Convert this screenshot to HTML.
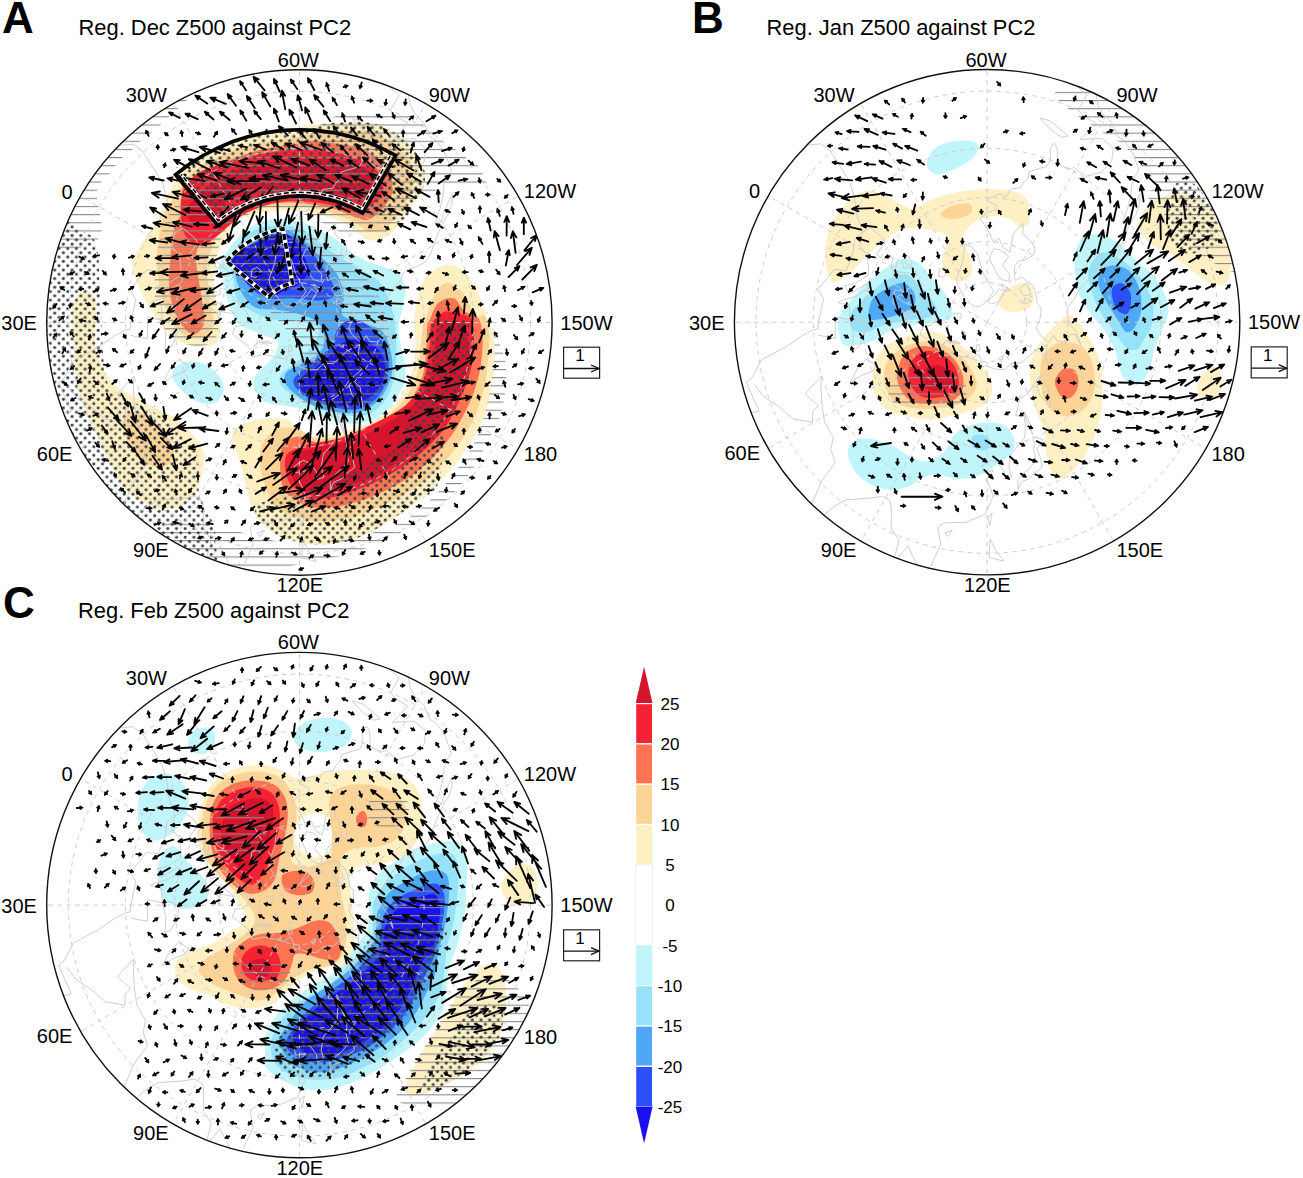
<!DOCTYPE html>
<html><head><meta charset="utf-8"><style>
html,body{margin:0;padding:0;background:#fff;width:1303px;height:1178px;overflow:hidden}
svg{display:block}
text{font-family:"Liberation Sans",sans-serif;fill:#000}
.lb{font-size:20px}
.tt{font-size:21.9px}
.big{font-size:44px;font-weight:bold}
.cb{font-size:17px}
.lg{font-size:17px;text-anchor:middle}
</style></head><body>
<svg width="1303" height="1178" viewBox="0 0 1303 1178">
<defs><pattern id="stip" patternUnits="userSpaceOnUse" width="8.7" height="8.62" x="0.3" y="0.5"><circle cx="2.2" cy="2.2" r="1.55" fill="#3c434c"/><circle cx="6.55" cy="6.51" r="1.55" fill="#3c434c"/></pattern><pattern id="hatch" patternUnits="userSpaceOnUse" width="20" height="8.15" x="0" y="2.2"><rect x="0" y="0" width="20" height="1.1" fill="#8a8a8a"/></pattern></defs>
<rect width="1303" height="1178" fill="#fff"/>
<g>
<clipPath id="clipA"><circle cx="299.4" cy="322.5" r="252.7"/></clipPath>
<g clip-path="url(#clipA)">
<path d="M164.8,202.7C160.9,211.2 160.3,214.1 156.7,220.4C153.1,226.7 146.9,234.4 143.1,240.7C139.2,247 135.4,253.9 133.6,258.4C131.8,262.9 131.5,263.6 132.2,267.9C132.9,272.2 135.2,278.3 137.7,284.2C140.2,290.1 143.6,296.9 147.2,303.2C150.8,309.5 155.3,316.8 159.4,322.2C163.5,327.6 167.3,332.2 171.6,335.8C175.9,339.4 180.2,342.1 185.2,343.9C190.2,345.7 196.5,346.7 201.5,346.7C206.5,346.7 212.1,345.8 215,344C217.9,342.2 218.2,339 219.1,335.8C220,332.6 220.7,329.4 220.5,324.9C220.3,320.4 218.7,313.6 217.8,308.6C216.9,303.6 215.7,299.5 215,295C214.3,290.5 213.7,286 213.7,281.5C213.7,277 214.3,272.4 215,267.9C215.7,263.4 216.4,258.8 217.8,254.3C219.2,249.8 220.9,245.2 223.2,240.7C225.5,236.2 228.2,231 231.4,227.2C234.6,223.4 239.3,219.4 242.2,217.7C245.1,215.9 244.8,217.7 249,216.7C253.2,215.7 261.3,212.7 267.5,211.7C273.7,210.7 279.9,210.5 286,210.5C292.1,210.5 298.3,210.9 304.4,211.7C310.5,212.5 316.7,213.8 322.8,215.4C328.9,217.1 335.5,218.8 341.2,221.6C346.9,224.4 352,228.8 357,232C362,235.2 366,239.8 371,240.5C376,241.2 382.2,239 387.2,235.9C392.2,232.8 396.4,227.8 401,222C405.6,216.2 411.4,206.3 414.8,201.3C418.2,196.3 420,196.3 421.7,192.1C423.4,187.9 425.6,181.8 425.2,176C424.8,170.2 423,163.8 419.4,157.6C415.8,151.4 409.8,144.5 403.3,139.1C396.8,133.7 388,128.2 380.3,125.3C372.6,122.4 367.2,122.1 357.2,121.9C347.2,121.7 332.2,123 320.4,124.2C308.6,125.4 296,127.7 286.5,128.9C277,130.2 271.1,130.4 263.5,131.9C256,133.3 248.5,135.2 241.1,137.5C233.8,139.8 226.5,142.6 219.5,145.7C212.5,148.9 205.6,152.5 199,156.5C192.5,160.5 185.7,161.9 180,169.6C174.3,177.3 168.7,194.2 164.8,202.7Z" fill="#FEF0C3"/>
<path d="M167.5,208.1C162.4,217 162.3,221.1 160.7,227.2C159.1,233.3 158.7,239.2 158,244.8C157.3,250.5 156.7,255.9 156.7,261.1C156.7,266.3 157.3,270.8 158,276C158.7,281.2 159.3,286.9 160.7,292.3C162.1,297.7 163.9,303.2 166.2,308.6C168.5,314 171.1,320.4 174.3,324.9C177.5,329.4 181.1,333.5 185.2,335.8C189.3,338.1 194.7,338.7 198.8,338.5C202.9,338.3 207.1,337.1 209.6,334.4C212.1,331.7 213.5,326.9 213.7,322.2C213.9,317.4 211.9,311.5 211,305.9C210.1,300.2 209,293.7 208.3,288.3C207.6,282.9 206.9,278.1 206.9,273.3C206.9,268.6 207.4,264.1 208.3,259.8C209.2,255.5 210.7,251.8 212.3,247.5C213.9,243.2 215.5,237.8 217.8,233.9C220.1,230.1 222.2,227.2 225.9,224.4C229.6,221.6 235.2,219.2 240,217C244.8,214.8 250,212.8 255,211C260,209.2 264.8,207.4 270,206.5C275.2,205.6 280.3,205.5 286,205.5C291.7,205.5 298,205.8 304,206.5C310,207.2 316,208.4 322,210C328,211.6 334.2,213.7 340,216C345.8,218.3 352,221.3 357,224C362,226.7 365.2,231.3 370,232C374.8,232.7 381.3,231 386,228C390.7,225 394.2,219.2 398,214C401.8,208.8 406.2,203 409,197C411.8,191 414.8,184 415,178C415.2,172 413,166.3 410,161C407,155.7 402.3,150.5 397,146C391.7,141.5 385,136.7 378,134C371,131.3 364.7,130.3 355,130C345.3,129.7 331.1,130.5 320,132C308.9,133.5 297,137.3 288.2,138.8C279.5,140.4 274.3,140.1 267.5,141.3C260.7,142.5 253.8,144.1 247.2,146.1C240.5,148 233.9,150.4 227.6,153.1C221.2,155.8 214.9,158.9 208.8,162.4C202.8,165.8 198.2,166 191.3,173.6C184.4,181.3 172.6,199.2 167.5,208.1Z" fill="#FDD497"/>
<path d="M183.8,208.1C182.5,214.3 176.3,221.3 174.3,227.2C172.3,233.1 172.3,237.8 171.6,243.5C170.9,249.2 170.6,254.8 170.2,261.1C169.8,267.4 168.7,274.7 168.9,281.5C169.1,288.3 170,295.5 171.6,301.8C173.2,308.1 175.7,314.5 178.4,319.5C181.1,324.5 184.7,329.4 187.9,331.7C191.1,334 194.7,334.7 197.4,333.1C200.1,331.5 203.3,326.7 204.2,322.2C205.1,317.7 203.5,311.5 202.8,305.9C202.1,300.2 201,293.9 200.1,288.3C199.2,282.7 198.1,277 197.4,272C196.7,267 195.8,262.9 196,258.4C196.2,253.9 197,248.9 198.8,244.8C200.6,240.7 203.7,236.8 206.9,233.9C210.1,231 213.6,229.5 217.8,227.2C222,224.9 226.6,222.7 232,220C237.4,217.3 243.7,213.6 250,211C256.3,208.4 264,205.9 270,204.5C276,203.1 280.3,202.7 286,202.5C291.7,202.3 298,202.9 304,203.5C310,204.1 316,204.8 322,206C328,207.2 333.7,208.8 340,211C346.3,213.2 355,217.7 360,219C365,220.3 366.1,220.8 370,219C373.9,217.2 379.6,212.3 383.3,207.9C387,203.5 391,197.9 392.1,192.4C393.2,186.9 392.1,180.3 389.9,174.8C387.7,169.3 383.7,163.7 378.9,159.3C374.1,154.9 367.8,150.9 361.2,148.3C354.6,145.7 346.5,145 339.1,143.9C331.8,142.8 324.5,141.7 317.1,141.7C309.8,141.7 304.5,142.5 295,143.9C285.5,145.3 271.7,147 260,150C248.3,153 235.8,157.7 225,162C214.2,166.3 202.2,171.3 195,176C187.8,180.7 183.9,184.7 182,190C180.1,195.3 185.1,201.9 183.8,208.1Z" fill="#FE7452"/>
<path d="M186,186C182.8,190.7 181.8,194.5 181,200C180.2,205.5 180.9,213.7 181.3,219C181.7,224.3 181.7,228 183.5,232C185.3,236 189,241 192.3,243.2C195.6,245.4 199.2,246.5 203.3,245.4C207.4,244.3 210.5,241.3 216.6,236.6C222.7,231.9 232.8,221.9 240,217C247.2,212.1 253.3,209.5 260,207C266.7,204.5 273.3,203 280,202C286.7,201 293.3,200.8 300,201C306.7,201.2 313.3,202 320,203C326.7,204 333.3,205.3 340,207C346.7,208.7 355,213.2 360,213C365,212.8 366.5,208.4 370,205.7C373.5,203 378.9,200.5 381.1,196.8C383.3,193.1 384,188 383.3,183.6C382.6,179.2 380.4,174.4 376.7,170.3C373,166.2 367.5,162.2 361.2,159.3C354.9,156.4 346.5,154.5 339.1,152.7C331.8,150.9 324.5,148.9 317.1,148.3C309.8,147.7 304.2,148.4 295,149.3C285.8,150.2 273.2,151.9 262,154C250.8,156.1 238.3,159 228,162C217.7,165 207,168 200,172C193,176 189.2,181.3 186,186Z" fill="#F52234"/>
<path d="M245,167C254.7,164.2 267.5,162.3 280,161C292.5,159.7 307.5,158.7 320,159C332.5,159.3 346.7,160.8 355,163C363.3,165.2 366.8,168.3 370,172C373.2,175.7 374.3,181.2 374,185C373.7,188.8 372.8,193.3 368,195C363.2,196.7 354.7,195.7 345,195C335.3,194.3 321.7,191.7 310,191C298.3,190.3 285,190.7 275,191C265,191.3 257.5,191.7 250,193C242.5,194.3 235.8,195.7 230,199C224.2,202.3 219.7,208.5 215,213C210.3,217.5 206.2,224.7 202,226C197.8,227.3 192.3,224 190,221C187.7,218 186.3,212.5 188,208C189.7,203.5 194.3,199 200,194C205.7,189 214.5,182.5 222,178C229.5,173.5 235.3,169.8 245,167Z" fill="#D5142D"/>
<path d="M414.2,320C415.1,311.7 417.5,295.7 420.8,287.3C424.1,278.9 428.5,273.4 434,269.7C439.5,266 448,263.8 453.9,265.3C459.8,266.8 465,273 469.4,278.5C473.8,284 477.5,291.5 480.4,298.4C483.3,305.3 484.8,313.6 487,320C489.2,326.4 492.5,328.6 493.6,337C494.7,345.4 494.3,359.9 493.6,370.2C492.9,380.5 491,390.4 489.2,398.9C487.4,407.4 485.5,414 482.6,421C479.7,428 475.7,434.2 471.6,440.8C467.6,447.4 463.8,453.7 458.3,460.7C452.8,467.7 445.1,476.1 438.5,482.7C431.9,489.3 426,494.5 418.6,500.4C411.2,506.3 402.8,512.5 394.3,518C385.8,523.5 376.2,529.5 367.8,533.5C359.4,537.5 352.1,540.5 343.6,542.3C335.2,544.1 324.4,544.5 317.1,544.5C309.8,544.5 306.4,543.8 300,542.3C293.6,540.8 284.9,539 278.4,535.7C271.8,532.4 265.1,526.9 260.7,522.5C256.3,518.1 254.1,514.4 251.9,509.2C249.7,504.1 249.7,500.1 247.5,491.6C245.3,483.2 241.2,467.3 238.6,458.5C236,449.7 232.4,443.7 232,438.6C231.6,433.5 232.7,430.9 236,428C239.3,425.1 246,422.7 252,421C258,419.3 265.7,418 272,418C278.3,418 284.3,417.9 290,421C295.7,424.1 299.6,434.2 306,436.4C312.4,438.6 320.7,435.3 328.1,434.2C335.5,433.1 343.6,431.6 350.2,429.8C356.8,428 362.3,425.7 367.8,423.1C373.3,420.5 378.5,417.6 383.3,414.3C388.1,411 392.4,408.1 396.5,403.3C400.6,398.5 404.8,391.9 407.6,385.6C410.4,379.4 411.8,373.9 413.1,365.8C414.4,357.7 415.1,344.7 415.3,337.1C415.5,329.5 413.3,328.3 414.2,320Z" fill="#FEF0C3"/>
<path d="M425.2,320C427.4,314.4 432.2,297.9 436.3,291.7C440.4,285.5 444.4,281.8 449.5,282.9C454.6,284 463.1,292.2 467.2,298.4C471.2,304.6 470.9,317.2 473.8,320C476.7,322.8 482.2,312.1 484.8,315C487.4,317.9 488.8,327.9 489.2,337.1C489.6,346.3 488.1,360.6 487,370.2C485.9,379.8 484.8,386.4 482.6,394.5C480.4,402.6 477.1,411.3 473.8,418.7C470.5,426.1 467.1,432 462.7,438.6C458.3,445.2 453.2,451.9 447.3,458.5C441.4,465.1 434.4,472.4 427.4,478.3C420.4,484.2 413.5,489 405.4,493.8C397.3,498.6 388.1,503 378.9,507C369.7,511 359.8,515.6 350.2,518C340.6,520.4 329.9,521.4 321.5,521.4C313.1,521.4 307.2,520 300,518C292.8,516 283.8,513.6 278.4,509.2C272.9,504.8 270.2,498.2 267.3,491.6C264.4,485 261.8,476.9 260.7,469.5C259.6,462.1 259.2,453.3 260.7,447.4C262.2,441.5 265.8,437.5 269.5,434.2C273.2,430.9 277.7,428.3 282.8,427.6C287.9,426.9 294.3,428.2 300,430C305.7,431.8 310.6,437.5 317.1,438.6C323.6,439.7 331.8,437.9 339.1,436.4C346.5,434.9 354.6,432.4 361.2,429.8C367.8,427.2 373.4,424.3 378.9,421C384.4,417.7 389.5,414.3 394.3,409.9C399.1,405.5 403.9,400 407.6,394.5C411.3,389 414.2,384.5 416.4,376.8C418.6,369.1 419.7,356.7 420.8,348.1C421.9,339.5 422.3,329.7 423,325C423.7,320.3 423,325.6 425.2,320Z" fill="#FDD497"/>
<path d="M429.6,320C431.5,316.3 434.4,306.4 438.5,302.8C442.6,299.2 449.5,296.9 453.9,298.4C458.3,299.9 460.8,308.3 464.9,311.6C468.9,314.9 475.2,313.8 478.2,318C481.1,322.2 482.2,328.8 482.6,337.1C483,345.4 481.9,358.8 480.4,368C478.9,377.2 476.4,384.8 473.8,392.2C471.2,399.6 468.3,405.5 465,412.1C461.7,418.7 458.7,425 453.9,432C449.1,439 442.9,447 436.3,454C429.7,461 422.3,468 414.2,473.9C406.1,479.8 396.5,485 387.7,489.4C378.9,493.8 370,497.5 361.2,500.4C352.4,503.3 343.5,505.9 334.7,507C325.9,508.1 314,507.7 308.2,507C302.4,506.3 303.9,505.2 300,502.6C296.1,500 288.2,496.4 285,491.6C281.8,486.8 281.3,480.6 280.6,474C279.9,467.4 279.5,457.3 280.6,451.8C281.7,446.3 284,443.4 287.2,440.8C290.4,438.2 295,436.2 300,436.4C305,436.6 310.6,441.5 317.1,441.9C323.6,442.3 330.7,440.6 339.1,438.6C347.6,436.6 359.7,433.1 367.8,429.8C375.9,426.5 381.8,422.4 387.7,418.7C393.6,415 398.7,411.7 403.1,407.7C407.5,403.7 410.9,400 414.2,394.5C417.5,389 421,382.3 423,374.6C425,366.9 425.6,356.4 426.3,348.1C427,339.8 426.8,329.7 427.4,325C427.9,320.3 427.8,323.7 429.6,320Z" fill="#FE7452"/>
<path d="M434,320C436.4,317.6 441.1,312.6 445.1,311.6C449.2,310.6 453.9,312.5 458.3,313.8C462.7,315.1 469,314.8 471.6,319.4C474.2,324 473.8,333.8 473.8,341.5C473.8,349.2 473.1,358.1 471.6,365.8C470.1,373.5 467.6,380.8 465,387.8C462.4,394.8 459.4,401.1 456.1,407.7C452.8,414.3 449.9,421 445.1,427.6C440.3,434.2 434,441.1 427.4,447.4C420.8,453.6 413.5,459.6 405.4,465.1C397.3,470.6 387.7,476.1 378.9,480.5C370.1,484.9 360.9,488.7 352.4,491.6C343.9,494.6 335.5,497.1 328.1,498.2C320.7,499.3 312.9,499.3 308.2,498.2C303.5,497.1 303.1,494.2 300,491.6C296.9,489 291.9,486.8 289.4,482.7C286.9,478.6 285.4,472.1 285,467.3C284.6,462.5 284.7,457.3 287.2,454C289.7,450.7 295,449.2 300,447.4C305,445.6 310.6,444.5 317.1,443C323.6,441.5 331,441.2 339.1,438.6C347.2,436 357.5,431.3 365.6,427.6C373.7,423.9 381.1,420.2 387.7,416.5C394.3,412.8 400.2,409.9 405.4,405.5C410.5,401.1 415.3,395.1 418.6,390C421.9,384.9 423.4,381.6 425.2,374.6C427,367.6 428.7,356.2 429.6,348.1C430.5,340 430,330.7 430.7,326C431.4,321.3 431.6,322.4 434,320Z" fill="#F52234"/>
<path d="M438.5,328.2C440.7,326.4 445.1,322 449.5,321.6C453.9,321.2 461.7,319.8 465,326C468.3,332.2 469.8,349.2 469.4,359.1C469,369 466,376.8 462.7,385.6C459.4,394.4 454.6,404 449.5,412.1C444.4,420.2 439.2,426.8 431.8,434.2C424.4,441.6 414.2,449.7 405.4,456.3C396.6,462.9 388.1,469.1 378.9,473.9C369.7,478.7 359.8,482.4 350.2,485C340.6,487.6 330,488.7 321.5,489.4C313,490.1 304.4,492 299.4,489.4C294.4,486.8 292.9,479.1 291.6,474C290.3,468.9 290.2,462.2 291.6,458.5C293,454.8 295.8,453.7 300,451.8C304.2,449.9 308.7,449.2 317.1,447.4C325.5,445.6 339.9,444.1 350.2,440.8C360.5,437.5 370.4,432 378.9,427.6C387.3,423.2 394.3,419.1 400.9,414.3C407.5,409.5 413.8,404.8 418.6,398.9C423.4,393 427,387.1 429.6,379C432.2,370.9 432.9,358 434,350.3C435.1,342.6 435.6,336.4 436.3,332.7C437.1,329 436.3,330 438.5,328.2Z" fill="#D5142D"/>
<path d="M84,291C80.5,291.7 76,298 74,302C72,306 72.2,309.1 72,315C71.8,320.9 72.2,325.3 73.1,337.1C74,348.9 74.5,371.6 77.5,385.6C80.5,399.6 86,409.2 90.8,421C95.6,432.8 100.7,445.3 106.2,456.3C111.7,467.3 117.7,479.5 123.9,487.2C130.2,494.9 137.1,498.9 143.7,502.6C150.3,506.3 157,508.8 163.6,509.2C170.2,509.6 178,508.1 183.5,504.8C189,501.5 193.4,495.3 196.7,489.4C200,483.5 202.2,475.8 203.3,469.5C204.4,463.2 205.1,457.7 203.3,451.8C201.5,445.9 197.5,440.1 192.3,434.2C187.2,428.3 179.4,421.3 172.4,416.5C165.4,411.7 157.4,409.2 150.4,405.5C143.4,401.8 136.4,397.8 130.5,394.5C124.6,391.2 119.8,390.4 115,385.6C110.2,380.8 105.1,372.8 101.8,365.8C98.5,358.8 96.2,352.2 95.2,343.7C94.2,335.2 96,322.6 96,315C96,307.4 97,302 95,298C93,294 87.5,290.3 84,291Z" fill="#FEF0C3"/>
<path d="M123.9,418.7C125.7,413.6 133.4,411 139.3,412.1C145.2,413.2 153.7,419.9 159.2,425.4C164.7,430.9 170.2,439.3 172.4,445.2C174.6,451.1 174.6,457 172.4,460.7C170.2,464.4 164.3,467.3 159.2,467.3C154,467.3 146.7,464.8 141.5,460.7C136.3,456.6 131.2,450 128.3,443C125.4,436 122.1,423.8 123.9,418.7Z" fill="#FDD497"/>
<path d="M218.4,268.2C218.8,264.9 221.5,260.9 224.6,256C227.7,251.1 232.7,243.5 236.8,238.8C240.9,234.1 243.9,230.8 249,227.7C254.1,224.6 261.3,221.7 267.5,220.3C273.7,218.9 279.9,218.7 286,219.1C292.1,219.5 298.3,220.8 304.4,222.8C310.5,224.9 317.7,228.7 322.8,231.4C327.9,234.1 330.9,235.9 335,238.8C339.1,241.7 342.7,245.2 347.3,248.6C351.9,252 356.6,256.2 362.5,259.2C368.4,262.2 377,264.2 383,266.7C389,269.2 395,270.3 398.7,274.1C402.4,277.9 404.7,284.4 405.4,289.5C406.1,294.6 404.2,298.9 403.1,305C402,311.1 399.1,319.2 398.7,326C398.3,332.8 399.9,337.7 401,345.9C402.1,354.1 405.9,366.7 405.4,375C404.9,383.3 401.4,389.4 398,395.6C394.6,401.8 389.9,408 384.9,412.4C379.9,416.8 374,419.8 368.1,421.7C362.2,423.6 355.6,423.9 349.4,423.6C343.2,423.3 336.9,421.7 330.7,419.8C324.5,417.9 318.2,414.6 312,412.4C305.8,410.2 299,408.1 293.4,406.8C287.8,405.6 283.4,405.8 278.4,404.9C273.4,404 267.5,404 263.5,401.2C259.5,398.4 255.4,392.5 254.2,388.1C252.9,383.7 253.8,379.1 256,375C258.2,370.9 264.1,367.2 267.2,363.8C270.3,360.4 272.8,357.9 274.7,354.5C276.6,351.1 278.4,345.8 278.4,343.3C278.4,340.8 278.4,341.4 274.7,339.5C271,337.6 261.9,334.5 256,332C250.1,329.5 243.2,328 239.2,324.6C235.1,321.2 233.9,316.5 231.7,311.5C229.5,306.5 227.6,300.6 226.1,294.7C224.6,288.8 223.7,280.4 222.4,276C221.1,271.6 218,271.5 218.4,268.2Z" fill="#BFF5FB"/>
<path d="M231.7,255.5C234.1,250.5 239.8,241.5 244.8,236.8C249.8,232.1 255.1,229.3 261.6,227.5C268.2,225.6 276.9,225 284,225.6C291.2,226.2 297.4,227.5 304.6,231.2C311.7,234.9 319.5,242.7 327,248C334.5,253.3 342.6,258.6 349.4,263C356.3,267.3 363.1,271 368.1,274.2C373.1,277.3 376.2,278.2 379.3,281.6C382.4,285.1 384.3,288.8 386.8,294.7C389.2,300.6 392.7,309.6 394.2,317.1C395.8,324.6 395.8,332.1 396.1,339.5C396.4,347 396.7,354.5 396.1,361.9C395.5,369.4 394.5,377.5 392.4,384.3C390.2,391.2 387.1,398 383,403C379,408 373.7,412.1 368.1,414.2C362.5,416.4 355.6,416.4 349.4,416.1C343.2,415.8 337,414.2 330.7,412.4C324.5,410.5 318.3,407.7 312.1,404.9C305.8,402.1 298.7,399 293.4,395.6C288.1,392.1 282.2,388.1 280.3,384.3C278.4,380.6 279.4,376.9 282.2,373.1C285,369.4 292.8,365.7 297.1,361.9C301.5,358.2 304.6,355.7 308.3,350.7C312.1,345.8 318.9,336.4 319.5,332.1C320.1,327.7 316.4,326.5 312.1,324.6C307.7,322.7 300.2,321.8 293.4,320.8C286.5,319.9 277.8,320.5 271,319C264.1,317.4 257.9,314.6 252.3,311.5C246.7,308.4 240.5,305.3 237.4,300.3C234.2,295.3 234.7,287.2 233.6,281.6C232.5,276 231.1,271 230.8,266.7C230.5,262.3 229.4,260.5 231.7,255.5Z" fill="#96E2FA"/>
<path d="M237.4,257.4C239.8,251.4 245.4,244.9 250.4,240.5C255.4,236.2 261.6,233.1 267.2,231.2C272.8,229.3 278.1,228.1 284,229.3C290,230.6 296.8,234.3 302.7,238.7C308.6,243 314.2,250.2 319.5,255.5C324.8,260.8 330.7,265.4 334.5,270.4C338.2,275.4 340.4,280.7 341.9,285.4C343.5,290 343.8,293.8 343.8,298.4C343.8,303.1 341,310 341.9,313.4C342.9,316.8 345,317.1 349.4,319C353.8,320.8 362.5,322.4 368.1,324.6C373.7,326.8 379.3,327.7 383,332.1C386.8,336.4 388.9,344.5 390.5,350.7C392.1,357 393,363.2 392.4,369.4C391.7,375.6 389.6,382.5 386.8,388.1C384,393.7 380.2,399 375.6,403C370.9,407.1 365,410.8 358.7,412.4C352.5,413.9 345.4,413.3 338.2,412.4C331,411.4 322.6,409.6 315.8,406.8C308.9,404 302.1,399.3 297.1,395.6C292.1,391.8 287.8,388.1 285.9,384.3C284,380.6 284,376.3 285.9,373.1C287.8,370 292.8,368.2 297.1,365.7C301.5,363.2 307.7,361.3 312.1,358.2C316.4,355.1 321.4,351.4 323.3,347C325.1,342.6 324.5,336.4 323.3,332.1C322,327.7 320.1,324 315.8,320.8C311.4,317.7 304,315.2 297.1,313.4C290.3,311.5 281.6,310.6 274.7,309.6C267.9,308.7 261.3,310.3 256,307.8C250.7,305.3 246.4,300 243,294.7C239.5,289.4 236.4,282.3 235.5,276C234.6,269.8 234.9,263.3 237.4,257.4Z" fill="#4FA8F6"/>
<path d="M235.5,259.2C238,253.6 249.5,246.5 256,242.4C262.6,238.4 268.5,235.9 274.7,234.9C280.9,234 287.8,234.6 293.4,236.8C299,239 304,243.7 308.3,248C312.7,252.4 315.8,257.7 319.5,263C323.3,268.2 328.2,274.5 330.7,279.8C333.2,285.1 336,291.3 334.5,294.7C332.9,298.1 328.2,299.7 321.4,300.3C314.5,300.9 301.8,298.7 293.4,298.4C285,298.1 277.5,299.7 271,298.4C264.4,297.2 259.1,294.7 254.2,291C249.2,287.2 244.2,281.3 241.1,276C238,270.7 233,264.8 235.5,259.2Z" fill="#2B50F7"/>
<path d="M293.4,380.6C294.6,375 305.8,367.5 312.1,361.9C318.3,356.3 326.4,352.6 330.7,347C335.1,341.4 334.5,333 338.2,328.3C341.9,323.7 347.5,319 353.1,319C358.7,319 366.8,324.3 371.8,328.3C376.8,332.4 380.2,337.7 383,343.3C385.8,348.9 388,355.7 388.6,361.9C389.2,368.2 388.6,374.7 386.8,380.6C384.9,386.5 381.8,392.8 377.4,397.4C373.1,402.1 366.8,406.8 360.6,408.6C354.4,410.5 346.6,409.6 340.1,408.6C333.5,407.7 327.3,405.2 321.4,403C315.5,400.8 309.3,399.3 304.6,395.6C299.9,391.8 292.1,386.2 293.4,380.6Z" fill="#2B50F7"/>
<path d="M231.7,260.2C233.6,255.8 243,249.7 248.6,246.1C254.2,242.6 259.5,240.9 265.4,238.7C271.3,236.5 278.7,232.1 284,233.1C289.3,234 293.7,240.2 297.1,244.3C300.5,248.3 302.7,252.7 304.6,257.4C306.5,262 309.6,267.6 308.3,272.3C307.1,277 301.2,282.3 297.1,285.4C293.1,288.5 288.7,289.1 284,291C279.4,292.8 274.4,297.2 269.1,296.6C263.8,295.9 257.6,291.3 252.3,287.2C247,283.2 240.8,276.8 237.4,272.3C233.9,267.8 229.9,264.5 231.7,260.2Z" fill="#1A12EE"/>
<path d="M300.8,378.7C303,374.7 310.8,371.6 315.8,367.5C320.8,363.5 326.4,358.5 330.7,354.5C335.1,350.4 337.3,345.8 341.9,343.3C346.6,340.8 353.1,338.9 358.7,339.5C364.3,340.1 371.2,343.3 375.6,347C379.9,350.7 383.6,356.3 384.9,361.9C386.1,367.5 385.2,375 383,380.6C380.8,386.2 376.8,391.5 371.8,395.6C366.8,399.6 359.4,403.3 353.1,404.9C346.9,406.4 340.7,405.8 334.5,404.9C328.2,404 321.1,401.5 315.8,399.3C310.5,397.1 305.2,395.2 302.7,391.8C300.2,388.4 298.7,382.8 300.8,378.7Z" fill="#1A12EE"/>
<path d="M174.6,368C177.4,365.1 184.6,361.7 190.1,361.3C195.6,360.9 202.5,362.9 207.7,365.8C212.8,368.8 218.4,374.6 221,379C223.6,383.4 224.3,388.1 223.2,392.2C222.1,396.2 218.4,401.6 214.4,403.3C210.4,405 204.1,404.1 198.9,402.2C193.8,400.3 187.7,396.1 183.5,392.2C179.3,388.3 175,383 173.5,379C172,375 171.8,370.9 174.6,368Z" fill="#BFF5FB"/>
<path d="M183.5,95C209.1,96.3 186.1,98.8 183.5,102.6C180.9,106.4 172.8,113.2 168,117.8C163.2,122.4 159.7,126 155,130C150.3,134 143.9,138.2 140,141.6C136.1,145 134.8,147.4 131.6,150.3C128.4,153.2 123.9,156.1 121,159C118.1,161.9 116.2,164.8 114,167.6C111.8,170.4 110.5,173.1 108,176C105.5,178.9 100.8,181.3 99,185C97.2,188.7 97.3,188.8 97,198C96.7,207.2 108.2,233 97,240C85.8,247 41.2,264.2 30,240C18.8,215.8 4.4,119.2 30,95C55.6,70.8 157.9,93.7 183.5,95Z" fill="url(#hatch)"/>
<path d="M337,116C354.9,112 393.3,114.7 407.6,116C421.9,117.3 417.5,120.1 423,124C428.5,127.9 435.5,135.4 440.7,139.5C445.9,143.6 449.9,145.4 454,148.3C458.1,151.2 461,154.1 465,157C469,159.9 474.9,162.3 478.2,166C481.5,169.7 483.7,175.9 484.8,179.2C485.9,182.5 489.6,184.9 484.8,186C480,187.1 467.6,183.7 456,186C444.4,188.3 426,192.7 415,200C404,207.3 399.7,223.7 390,230C380.3,236.3 368.7,239.3 357,238C345.3,236.7 332.8,227 320,222C307.2,217 295,207.5 280,208C265,208.5 240.8,214.7 230,225C219.2,235.3 217,252.5 215,270C213,287.5 220.5,317.3 218,330C215.5,342.7 208,345.2 200,346C192,346.8 177.5,342.7 170,335C162.5,327.3 156.7,315.8 155,300C153.3,284.2 155.8,256.7 160,240C164.2,223.3 168.3,213.3 180,200C191.7,186.7 210,170 230,160C250,150 282.2,147.3 300,140C317.8,132.7 319.1,120 337,116Z" fill="url(#hatch)"/>
<path d="M480,300C481.9,304.9 500.9,341.2 504.7,359.1C508.4,377.1 505.1,394.4 502.5,407.7C499.9,420.9 494.7,427.6 489.2,438.6C483.7,449.6 478.2,462.1 469.4,473.9C460.6,485.7 448.8,498.9 436.3,509.2C423.8,519.5 408.7,528.3 394.3,535.7C379.9,543.1 366.8,548.5 350.2,553.4C333.6,558.3 315,560.6 295,565C275,569.4 254.2,577.5 230,580C205.8,582.5 160.3,589.7 150,580C139.7,570.3 154.7,530.3 168,522C181.3,513.7 208,526.2 230,530C252,533.8 278.3,544 300,545C321.7,546 342.5,540.2 360,536C377.5,531.8 391.7,527.7 405,520C418.3,512.3 429.2,501.7 440,490C450.8,478.3 462.8,461.7 470,450C477.2,438.3 479.2,433.3 483,420C486.8,406.7 491.3,385 493,370C494.7,355 495.2,341.7 493,330C490.8,318.3 478.1,295.1 480,300Z" fill="url(#hatch)"/>
<path d="M230,260C234.2,248 270,231.3 285,228C300,224.7 307.5,233 320,240C332.5,247 350,260 360,270C370,280 375,288.3 380,300C385,311.7 389.2,325 390,340C390.8,355 391.7,378.3 385,390C378.3,401.7 364.2,408.3 350,410C335.8,411.7 308.3,410 300,400C291.7,390 306.7,366.7 300,350C293.3,333.3 271.7,315 260,300C248.3,285 225.8,272 230,260Z" fill="url(#hatch)"/>
<path d="M175.5,174.8C170.8,164.5 184.9,167.3 189.9,163.8C194.9,160.4 200,157.2 205.2,154.3C210.5,151.3 215.9,148.6 221.4,146.2C226.9,143.8 232.6,141.6 238.3,139.7C244,137.8 249.8,136.1 255.7,134.7C261.5,133.4 267.5,132.3 273.5,131.5C279.4,130.6 285.4,130.1 291.5,129.9C297.5,129.6 304.7,130.9 309.5,130C314.4,129 312.5,125.5 320.4,124.2C328.3,122.9 347.2,121.7 357.2,121.9C367.2,122.1 372.6,122.4 380.3,125.3C388,128.2 396.8,133.7 403.3,139.1C409.8,144.5 415.8,151.4 419.4,157.6C423,163.8 424.8,170.2 425.2,176C425.6,181.8 423.4,187.9 421.7,192.1C420,196.3 418.2,196.3 414.8,201.3C411.4,206.3 410.4,220.4 401,222C391.6,223.6 368,213.9 358.7,211.1C349.4,208.2 349.7,206.6 345.1,204.8C340.4,203 335.7,201.5 330.8,200.3C326,199 321.1,198.1 316.1,197.4C311.2,196.7 306.2,196.4 301.2,196.3C296.2,196.2 291.2,196.5 286.3,197C281.3,197.5 276.3,198.3 271.5,199.4C266.6,200.5 261.8,201.9 257.1,203.6C252.4,205.3 247.8,207.2 243.3,209.5C238.9,211.7 234.5,214.2 230.3,216.9C226.2,219.6 227.5,232.8 218.3,225.8C209.2,218.8 180.3,185.1 175.5,174.8Z" fill="url(#stip)"/>
<path d="M226.4,261.2C220.6,254 231.4,255.7 234.1,253.2C236.7,250.7 239.6,248.3 242.5,246.1C245.5,243.9 248.6,241.8 251.8,240C255,238.1 258.3,236.5 261.7,235C265.1,233.5 268.6,232.3 272.1,231.2C275.7,230.1 279.5,220 282.9,228.6C286.3,237.3 291.7,273.9 292.5,283.2C293.4,292.5 289.5,283.8 288,284.3C286.5,284.7 285.1,285.3 283.6,285.9C282.2,286.5 280.8,287.2 279.5,287.9C278.2,288.7 276.9,289.6 275.6,290.5C274.4,291.4 273.2,292.4 272.1,293.5C270.9,294.5 276.5,302.2 268.9,296.9C261.3,291.5 232.3,268.5 226.4,261.2Z" fill="url(#stip)"/>
<path d="M297,378.7C299.5,373.7 309.6,366.9 315.8,361.9C322.1,356.9 327.4,352.3 334.5,348.9C341.6,345.5 351.2,341.1 358.7,341.4C366.2,341.7 374.6,346 379.3,350.7C384,355.4 386.8,362.5 386.8,369.4C386.8,376.2 383.7,385.9 379.3,391.8C374.9,397.7 367.5,402.4 360.6,404.9C353.8,407.4 346.3,407.4 338.2,406.8C330.1,406.2 318.2,403.7 312,401.2C305.8,398.7 303.4,395.6 300.9,391.8C298.4,388.1 294.5,383.7 297,378.7Z" fill="url(#stip)"/>
<path d="M431.8,323.8C435.1,318.8 442.9,318 449.5,318C456.1,318 467.6,319.9 471.6,323.8C475.7,327.7 473.8,334.5 473.8,341.5C473.8,348.5 473.1,358.1 471.6,365.8C470.1,373.5 467.6,380.8 465,387.8C462.4,394.8 459.4,401.1 456.1,407.7C452.8,414.3 448,415.1 445.1,427.6C442.2,440.1 442.9,470.6 438.5,482.7C434.1,494.8 426,494.5 418.6,500.4C411.2,506.3 402.8,512.5 394.3,518C385.8,523.5 376.2,529.5 367.8,533.5C359.4,537.5 352.1,540.5 343.6,542.3C335.2,544.1 324.4,544.5 317.1,544.5C309.8,544.5 306.4,543.8 300,542.3C293.6,540.8 284.9,539 278.4,535.7C271.8,532.4 264.6,527.6 260.7,522.5C256.8,517.4 252.6,508.8 255,505C257.4,501.2 267.5,502.2 275,500C282.5,497.8 291.1,494.9 300,491.6C308.9,488.3 317.2,484.4 328.1,480C339,475.6 353.6,471.7 365.6,465C377.6,458.3 391.2,452.5 400,440C408.8,427.5 414.4,400.9 418.6,390C422.8,379.1 423.4,381.6 425.2,374.6C427,367.6 428.5,356.6 429.6,348.1C430.7,339.6 428.5,328.8 431.8,323.8Z" fill="url(#stip)"/>
<path d="M30,225C39,163.7 72.8,227.8 84,232C95.2,236.2 94.3,240.3 97,250C99.7,259.7 98.5,268.8 100,290C101.5,311.2 102,359.2 106,377C110,394.8 116.7,391.5 124,397C131.3,402.5 142,405.3 150,410C158,414.7 164.7,418.8 172,425C179.3,431.2 189.5,439.5 194,447C198.5,454.5 198.2,462.5 199,470C199.8,477.5 197.5,484.7 199,492C200.5,499.3 205.3,506.8 208,514C210.7,521.2 216.3,520.7 215,535C213.7,549.3 230.8,589.2 200,600C169.2,610.8 58.3,662.5 30,600C1.7,537.5 21,286.3 30,225Z" fill="url(#stip)"/>
<path d="M385.3,80L408.2,94.4L410.2,105.2L415,114.1L424.1,123L429.6,136.6L436.5,140.6L445.6,154.3L451.3,170.6L447.1,177.4L444,185.3L443.1,195.4L440.1,208.6L435,222.2L441.2,221.8L443.6,213.1L448.6,201.8L452.1,194.4L452.1,203.2L448.8,214L445.3,218.5L438.2,232.8L436,238.8L430.3,254.4L426,261.6L417.6,266.1L408.8,269.2L402.9,273.6L400.7,280.6L391.7,289.8L385.8,300.2L380.2,307.5L379.9,316.9L382.9,325.4L388.2,331.8L392.3,342.2L393,345.8L387.8,334.9L383.6,334.3L377.7,342L369.3,341.2L366.3,335.5L361.4,342.6L355.7,338.6L351.4,333.5L348.7,328.1L352,320.7L353.2,314L353.4,308.1L349.5,303.3L348.8,299.5L347.4,291.4L344.3,284.9L339.2,281.4L334.7,277.4L327.6,280.7L326.7,275.3L326.9,266.2L331.6,260.8L336.7,260.5L345.2,256L346.7,253L346.7,246.8L342.7,241.2L335,234.5L335.4,223.7L331.9,227.1L325.6,234.2L323.7,245.5L322.2,252.4L315.4,247.7L311.3,238.4L305.7,242.6L301.8,233.3L298.6,227.5L292.2,219.1L299.4,212.9L308.3,210.2L309.2,205.8L299.4,200.8L302.7,197.8L313,193.8L315.9,197.3L319.4,196.2L322.9,189.5L333,188.1L335.4,183.4L340.8,178.2L341.2,172.1L349.1,169.6L359.3,166.7L362.9,160.6L362.6,149.1L366.4,143.5L369.3,147.8L370,153.9L370.2,163.7L380.6,169.9L386.3,167.8L397.7,176.9L413.2,172.6L424,162L425.7,148.7L414.3,138.6L392.5,139.8L401.2,131.1L407.7,123.1L395.7,116.1L390.5,110.1L399.2,95.2L384.6,82.2M277.2,244.9L283.3,246.3L289.8,253.6L292.8,264.3L294.4,269.6L296.1,274.9L302.7,285.7L306,291.5L302.7,296.3L299.4,301.4L292.2,307L285.9,306.4L281.8,302.9L275.2,294.6L270.1,284.9L269,279L272,270.8L275,261.9L275.9,254.1L277.2,244.9M305.9,249.1L301.7,258.5L306.8,269.9L313.4,279.7L321.2,281.6L321.9,274.4L314.6,266L320.9,256.4L312.2,249.9L305.9,249.1M338.9,283L343.3,295.1L335.9,296L331.6,289.2L338.9,283M311.6,289L307.4,294.6L300.2,301.5L302.6,304.4L311.3,302L316.6,292.8L311.6,289M313.5,284L317.3,291.6L322.8,290.4L313.5,284M343.9,301.8L336.3,304.5L337.2,298L343.9,301.8M251.8,269.6L257.1,267.3L261.4,271L255.9,277.4L251,276.5L251.8,269.6M374.1,137.7L362.2,129.3L352.2,118.3L362.9,121.4L380.4,136.2L374.1,137.7M119.2,145.4L133.1,144.1L142.5,151.2L154.3,169.5L162.4,183L167.1,199.1L168.5,213.4L174.8,231.9L167.1,239.8L165.1,254L158.4,271.1L146.4,269.8L130.5,289.7L135.8,299.5L130.8,322.5L130.2,329.3L125.7,330.1L115.4,335.4L97.8,347.3L73.6,360.3L64.2,378.1L58.6,382.6L71.4,411.4L63.5,413.1M66.8,384.8L76.3,397.2L90.9,406.7L105.4,419.2L124.8,422.5L125.2,411.3L130.7,405.9L117.5,394.2L124.3,386.2L134.1,376.2L133.3,384.6L134.3,404.8L136.8,422.2L145.6,438.4L143.1,449.1L147.6,463.1L134.2,481L123.9,504.3M136.3,515.5L146.4,506.8L158.2,500.1L183.1,498.3L194.8,496.6L202.5,501L203.7,510.4L203.5,528.2L211.3,540.7L206.8,557.6M209.7,558.7L220.2,546.3L224.1,554.4L229.8,565.4M243.1,566.5L253,544.6L250.2,527.5L256.8,523.1L278.4,522.6L297.8,514.4L305.5,496.3L301.7,486L298.1,479.3L305.9,470.9L295.5,472.6L294.4,466.1L303.1,460.3L310,463.2L316.4,471.7L317.3,479.3L324,477.3L321.2,467.8L322.6,457.8L324.1,452.7L326.7,450.6L337,438.2L337.8,425.2L336.4,416.3L328.1,416.1L332.1,399.4L340.5,393.6L351.6,376.5L354.5,381.5L360.3,387.7L362.9,408.2L351.9,394.7L349.1,386.1L352.6,377.5L361.7,369.4L358.4,359.3L358.4,353.8L359.6,344.4L355.4,347.4L347.8,350.4L340.8,357.2L333.6,363.2L323.3,363.8L316.7,369.9L307.7,369.5L297.9,366.1L294,367.2L293,358.9L290.4,354.2L284,359L271.4,355.9L264,354.4L252.1,356.9L251.1,350.4L247.2,345.8L237.3,338L232.3,334.3L235.6,326.4L243.7,325.4L249.2,318.1L247.2,313.3L240.6,305.6L232.2,296L223.5,287.9L219.7,289.5L220.7,294.6L211.4,295.6L209.4,297.4L215.5,302.3L223.6,305L234.6,314L220.9,311.5L218.8,322.5L217.9,313.2L211.3,308.5L205,303.3L207.2,289.8L217,292.5L211.1,287.7L207.4,285.3L207,278.8L205.3,272.4L203.2,266.9L205.8,257.4L195.4,259.5L189.1,254.9L197.5,242.8L195.1,238.3L182.8,228L174.7,233.2L172.1,246L179.4,256L181,268.2L180.5,275.6L167.9,283.5L157.2,286L161.8,294.5L179.1,284.1L181.8,288.1L167.8,296.9L154.2,300.8L150.6,302.9L161.6,305.6L162.2,320.1L147.7,317.2L147.5,338.5L136.6,336.8L130.6,335.2M162.2,320.1L165.9,334.2L165,349.9L170.9,347.5L176.4,336.5L179.3,324.6L171.7,319.4L162.2,320.1M189.1,366L178.7,359.4L170.1,368.3L162.2,383.3L173.1,376.1L184.8,371.6L189.1,366M210.2,258.8L207.2,272L211.9,272.6L220.9,273.4L225.1,276.4L228.5,276.4L229.9,273.8L226.3,269L222.1,267.4L216.2,268.4L214.5,263L210.2,258.8M220,255.8L224,262.5L223.6,266.4L219.1,264.1L215.9,261.1L220,255.8M330.5,490L330,479.7L337,473L342.6,468L348.5,461L345.8,450L347,444.5L345,437L355.4,439.8L351.8,445.9L349.2,448.7L352.7,457.7L354.5,467.5L345.8,474L342.7,478.4L333.4,482.4L330.5,490M345,435.3L342.3,423.4L336.6,412.1L338,418.8L345,435.3M302.3,525.6L304.4,513.2L300.1,518.1L302.3,525.6M302.5,539.3L301.5,557.8L316.2,561.5L307.4,549.3L302.5,539.3M259.7,536.9L264.6,530.5L257.4,533.1L259.7,536.9M253.5,346.4L258.3,340.8L269.2,341.4L272.4,343.6L259,342.2L253.5,346.4M266.3,313.6L273.3,313.5L273.7,317L270.5,321.5L266.8,317.9L266.3,313.6M274.4,330.6L278.5,333.6L278.2,335.8L274.4,330.6M288.6,352.2L288.9,345.2L291.3,344.8L292.4,350.6L288.6,352.2M313.9,362.3L310.7,359.1L315.7,355.7L313.9,362.3M343.1,347.7L343.2,344.8L343.5,346.9L343.1,347.7" fill="none" stroke="#c9c9c9" stroke-width="0.9"/>
<circle cx="299.4" cy="322.5" r="231.1" fill="none" stroke="#cccccc" stroke-width="1" stroke-dasharray="4.5,4.5"/>
<circle cx="299.4" cy="322.5" r="173.9" fill="none" stroke="#cccccc" stroke-width="1" stroke-dasharray="4.5,4.5"/>
<circle cx="299.4" cy="322.5" r="124.7" fill="none" stroke="#cccccc" stroke-width="1" stroke-dasharray="4.5,4.5"/>
<circle cx="299.4" cy="322.5" r="80.7" fill="none" stroke="#cccccc" stroke-width="1" stroke-dasharray="4.5,4.5"/>
<circle cx="299.4" cy="322.5" r="39.6" fill="none" stroke="#cccccc" stroke-width="1" stroke-dasharray="4.5,4.5"/>
<line x1="299.4" y1="322.5" x2="80.6" y2="196.1" stroke="#cccccc" stroke-width="1" stroke-dasharray="4.5,4.5"/>
<line x1="259.8" y1="322.5" x2="46.8" y2="322.5" stroke="#cccccc" stroke-width="1" stroke-dasharray="4.5,4.5"/>
<line x1="265.1" y1="342.3" x2="80.6" y2="448.8" stroke="#cccccc" stroke-width="1" stroke-dasharray="4.5,4.5"/>
<line x1="299.4" y1="322.5" x2="173.1" y2="541.3" stroke="#cccccc" stroke-width="1" stroke-dasharray="4.5,4.5"/>
<line x1="299.4" y1="362.1" x2="299.4" y2="575.2" stroke="#cccccc" stroke-width="1" stroke-dasharray="4.5,4.5"/>
<line x1="319.3" y1="356.8" x2="425.8" y2="541.3" stroke="#cccccc" stroke-width="1" stroke-dasharray="4.5,4.5"/>
<line x1="299.4" y1="322.5" x2="518.3" y2="448.9" stroke="#cccccc" stroke-width="1" stroke-dasharray="4.5,4.5"/>
<line x1="339.1" y1="322.5" x2="552.1" y2="322.5" stroke="#cccccc" stroke-width="1" stroke-dasharray="4.5,4.5"/>
<line x1="333.8" y1="302.7" x2="518.3" y2="196.1" stroke="#cccccc" stroke-width="1" stroke-dasharray="4.5,4.5"/>
<line x1="299.4" y1="322.5" x2="425.8" y2="103.7" stroke="#cccccc" stroke-width="1" stroke-dasharray="4.5,4.5"/>
<line x1="299.4" y1="282.9" x2="299.5" y2="69.8" stroke="#cccccc" stroke-width="1" stroke-dasharray="4.5,4.5"/>
<line x1="279.6" y1="288.2" x2="173.1" y2="103.7" stroke="#cccccc" stroke-width="1" stroke-dasharray="4.5,4.5"/>
<path d="M246,90.2L240.1,81.2M243,83.2L240.1,81.2L240.8,84.7M264.6,90.3L253.5,76.8M258.6,79.4L253.5,76.8L255.1,82.2M279.6,91.5L274,79M277.2,82L274,79L274.1,83.4M297.2,89.1L290.8,79.4M293.9,81.5L290.8,79.4L291.5,83.1M314.3,90L307.9,78.3M311.3,81L307.9,78.3L308.4,82.6M329.1,91L327.6,86.2M343.7,87L345.2,86.6M361.7,82.5L360.8,85.7M207.2,103.6L195.4,95.6M199.9,96.5L195.4,95.6L197.9,99.5M225.8,103.9L210.4,97.7M215.8,97.6L210.4,97.7L214.2,101.5M236,105.7L227.6,94.1M231.6,96.5L227.6,94.1L228.7,98.6M254.7,108.1L246.9,96.1M250.7,98.7L246.9,96.1L247.7,100.7M270.2,106.2L262.2,92.3M266.3,95.4L262.2,92.3L262.8,97.5M285.2,109.2L281.8,90.6M285.1,95.7L281.8,90.6L280.5,96.6M302.1,110.4L297.8,95.3M301,99.3L297.8,95.3L297.2,100.4M323.5,106.6L314.1,95M318.4,97.3L314.1,95L315.5,99.7M336.9,105L334.3,100.6M354.1,102.6L352.8,99.1M367.3,100.6L370.1,100.7M386.3,99.6L385.8,102.7M405.7,99.5L405.3,102.5M179.7,117.9L169.1,112.5M172.9,112.8L169.1,112.5L171.6,115.5M197.7,119.2L185.5,113.6M189.8,113.7L185.5,113.6L188.4,116.8M213.5,119.5L204.9,111.8M208.4,113L204.9,111.8L206.5,115.2M229.6,120L219.8,111.7M223.8,112.9L219.8,111.7L221.7,115.4M246.3,120.6L240.3,110.4M243.4,112.7L240.3,110.4L240.8,114.2M260.8,119.1L254.1,110.8M257.1,112.5L254.1,110.8L255,114.1M278.8,121.4L274,108.6M277.1,111.9L274,108.6L273.9,113.1M296.1,123.5L289.4,109.7M293.1,113L289.4,109.7L289.7,114.7M311.9,122.9L305.2,107.5M309.1,111.3L305.2,107.5L305.3,113M330.2,121.1L323.7,110.4M327,112.8L323.7,110.4L324.3,114.4M345.1,121.5L343.4,116.6M362.1,120.5L359.6,118.2M381.8,117.4L379,115.9M392.5,113L393.6,115.9M409.5,119.5L411.4,117.8M426.5,121.2L435.4,115.7M433.4,118.5L435.4,115.7L432,116.3M148.6,135.9L147.2,133M167.9,135.4L166.8,134.6M182.2,136.2L181.7,133.4M195.9,132.6L197.9,133.2M213.9,136.8L215.8,133.9M236,134.1L233.7,131.2M252.9,135.5L250.9,132.4M266.6,129.7L265.9,131.8M287.9,135.7L278.8,126.2M282.8,127.9L278.8,126.2L280.4,130.2M305.5,138L302.1,134.1M319.3,138.2L314.2,129.1M316.9,131.2L314.2,129.1L314.6,132.5M339.8,135.1L333.5,126.4M336.5,128.2L333.5,126.4L334.2,129.8M357.3,135.6L351,127.6M353.9,129.2L351,127.6L351.9,130.8M374.6,135.5L367.5,126.9M370.7,128.6L367.5,126.9L368.5,130.4M388.6,134.9L386,131.6M403.1,136.5L403.2,133.1M418,135.6L422.3,132.8M433.3,133.5L438.4,132.1M452.3,133.1L455.2,131.5M157.8,149.1L157.8,147.6M170.9,150.3L173.1,149.8M198.4,152.2L181.2,147M187,146.4L181.2,147L185.7,150.7M220,153L199.8,147M206.6,146.2L199.8,147L205.1,151.3M229.9,151L218.9,148.2M222.6,147.7L218.9,148.2L221.9,150.4M247.1,147.3L242.2,146.2M265.8,149.7L254,144.8M258.1,144.8L254,144.8L256.9,147.7M283.3,149.4L271.6,142.7M276,143.2L271.6,142.7L274.3,146.2M301.8,150L285.3,143.4M291.1,143.3L285.3,143.4L289.4,147.5M321.7,150L299.9,142.3M307.4,141.9L299.9,142.3L305.5,147.4M332.9,152.4L321.4,142.8M326,144.3L321.4,142.8L323.6,147.2M348.1,154.4L340.3,145.6M343.7,147.2L340.3,145.6L341.5,149.2M367.2,155.1L355.8,144.2M360.6,146L355.8,144.2L357.8,148.9M382.4,153.2L372.7,139.2M377.4,142.2L372.7,139.2L373.8,144.6M400.3,150.3L392.2,144.1M395.4,145L392.2,144.1L393.9,147M410.7,152.5L413.8,142.6M414.1,146L413.8,142.6L411.6,145.2M424.6,152.1L432.4,143.1M431.2,146.8L432.4,143.1L428.9,144.8M442.1,151L451.7,147.9M449.2,150.1L451.7,147.9L448.5,147.6M464.1,147.3L463.7,148.8M164.2,167.2L164.6,165.7M189.6,168.1L174.1,159.6M179.8,160.2L174.1,159.6L177.7,164.1M210.3,170.1L188.9,159.2M196.7,159.8L188.9,159.2L193.9,165.2M227.2,167.5L206.8,161M213.7,160.3L206.8,161L212.1,165.5M248.3,167.9L219.3,162.1M227.3,160.5L219.3,162.1L226,166.7M264.4,163.5L239.4,161.1M247.1,158.7L239.4,161.1L246.5,165M279.7,168.3L258.1,161.3M265.5,160.7L258.1,161.3L263.7,166.1M296.3,167.5L273.2,156.1M281.3,156.6L273.2,156.1L278.5,162.2M309.5,165.7L291.4,158.8M297.7,158.6L291.4,158.8L296,163.1M325.9,170.3L309.7,159.3M316,160.6L309.7,159.3L313.2,164.7M343.5,165.8L330.4,159.4M335.1,159.7L330.4,159.4L333.5,163M358.6,167.5L347.8,160M352,160.9L347.8,160L350.1,163.6M373.9,167.9L362.9,157.4M367.5,159.2L362.9,157.4L364.9,162M392.6,167L377.4,159.6M382.9,159.9L377.4,159.6L381,163.7M413.2,170.3L394.2,159.1M401.3,160.1L394.2,159.1L398.5,164.8M421.5,170.1L416.3,155.1M419.7,159L416.3,155.1L416,160.3M431.9,164.2L443,159.7M440.2,162.5L443,159.7L439.1,159.7M448.6,165.6L458.7,159.7M456.4,162.8L458.7,159.7L455,160.2M468.5,160.8L471.2,163M163.7,180.5L149.3,177.5M154,176.6L149.3,177.5L153.2,180.2M182.7,181.6L167.6,178.3M172.6,177.4L167.6,178.3L171.7,181.2M204.7,181.1L177.1,176.6M185,174.7L177.1,176.6L184,180.9M216.8,180.7L197.5,174.1M204.1,173.7L197.5,174.1L202.4,178.6M240.6,184.2L213.7,172.7M221.9,172.8L213.7,172.7L219.4,178.6M258.8,181.1L227,181.1M234.5,177.9L227,181.1L234.5,184.2M268.5,179.1L249.4,178.6M255.2,176.3L249.4,178.6L255.1,181.2M287.7,180.7L263,175.2M271,173.7L263,175.2L269.6,179.9M303.8,180.3L280.7,175M288.3,173.7L280.7,175L286.9,179.5M321.4,181.4L300.7,177.6M307.4,176.1L300.7,177.6L306.4,181.3M333.6,183.2L317.4,174.6M323.3,175.1L317.4,174.6L321.2,179.2M351.6,181.7L335.5,174.9M341.2,174.9L335.5,174.9L339.5,178.9M368.6,183.8L352,176.1M357.9,176.3L352,176.1L356,180.5M385.8,185.8L369.6,173.4M376,175.1L369.6,173.4L372.9,179.1M401.8,184.8L388,173.1M393.6,174.9L388,173.1L390.7,178.3M420.8,181.6L407,173.3M412.2,174L407,173.3L410.1,177.5M427.7,183.9L434.6,171.9M434,176.3L434.6,171.9L431,174.6M438.6,183.5L449.9,175.4M447.6,179.3L449.9,175.4L445.5,176.4M458.7,180.7L463.7,179.7M479.1,178.2L479.5,180.3M497.3,178.9L498.6,180.1M177.9,198.7L151.9,192.9M159.9,191.5L151.9,192.9L158.6,197.7M193.2,197.8L172.6,191.9M179.6,191.1L172.6,191.9L178,196.2M206,198L191.7,191M196.9,191.3L191.7,191L195.1,194.9M224.4,193.7L210.6,196.5M214.4,193.9L210.6,196.5L215.1,197.4M246.2,188.7L224.8,199.2M229.9,193.3L224.8,199.2L232.5,198.7M261,187.3L241,199.7M245.4,193.5L241,199.7L248.6,198.5M272.9,186.7L261.5,201.2M263.1,195.4L261.5,201.2L266.8,198.3M293.1,189.3L273,198M277.9,192.8L273,198L280.1,197.9M307.9,192.8L295.4,196.4M298.7,193.7L295.4,196.4L299.6,196.9M327.3,200.1L311.4,190.7M317.4,191.5L311.4,190.7L315,195.5M345.9,199.3L325.1,193.2M332.1,192.4L325.1,193.2L330.6,197.6M360.3,198.3L342.2,188.1M348.9,188.9L342.2,188.1L346.3,193.5M380.2,195.9L355.4,191.6M363.3,189.8L355.4,191.6L362.3,196M393.7,199.9L382.1,191.8M386.6,192.8L382.1,191.8L384.6,195.7M415.8,198.2L395.6,188.4M402.9,188.8L395.6,188.4L400.4,193.9M429.5,196.9L415.3,189.1M420.5,189.7L415.3,189.1L418.6,193.3M438.7,202.1L438,190.2M439.7,193.7L438,190.2L436.7,193.9M453.5,196.9L456.4,194.2M474.1,197.9L472.8,195.2M485.9,194.6L487.2,194.6M507.7,195L506.4,196.3M166.2,217.5L150.2,207.5M156.2,208.5L150.2,207.5L153.7,212.5M185.4,215.1L163,203.9M171.1,204.5L163,203.9L168.3,210.1M201,211.6L183.9,209.6M189.3,208L183.9,209.6L188.8,212.4M204.5,211.2L206.9,211.7M228.4,206.6L220.4,215.6M221.6,211.9L220.4,215.6L223.9,213.9M248.9,197L233.5,226.6M234.2,218.5L233.5,226.6L239.8,221.4M262,194.4L258.9,224M256.5,216.2L258.9,224L262.8,216.8M277.3,196.7L278.1,227.1M274.7,219.7L278.1,227.1L281,219.6M298.5,200.7L288.9,223.6M288.9,215.5L288.9,223.6L294.7,218M315.1,203.3L308.4,219.7M308.3,213.9L308.4,219.7L312.5,215.6M332.5,207.1L320.7,212.6M323.5,209.4L320.7,212.6L324.9,212.4M349.7,211.9L336.3,206.2M341,206.2L336.3,206.2L339.6,209.6M370.7,212.5L355.3,209.5M360.3,208.4L355.3,209.5L359.5,212.3M383.9,211.9L374.5,208.1M377.8,208.1L374.5,208.1L376.8,210.4M401.7,214.8L388.2,208.9M393,208.9L388.2,208.9L391.5,212.3M418.9,215.1L404.4,207.6M409.7,208L404.4,207.6L407.8,211.7M436.7,216.7L420.1,207.3M426.3,208L420.1,207.3L423.9,212.2M449.8,212.1L447.6,211.1M462.1,209.9L462.8,211.8M479.9,212.5L479.9,209.1M499.9,216L498.5,212M513.5,213.9L512.6,210M152.3,228.7L142.1,226M145.5,225.5L142.1,226L144.8,228.1M175,226.3L153.5,222.8M160.4,221.1L153.5,222.8L159.5,226.6M191.8,226.6L173,222.2M179.2,221.2L173,222.2L178.1,225.9M208.2,225L194.1,224.2M198.4,222.7L194.1,224.2L198.2,226.2M219.6,225.9L216.4,226.6M236.3,213L228.4,241.9M227.4,233.8L228.4,241.9L233.4,235.5M254.4,211.6L243.4,237.7M243.4,229.6L243.4,237.7L249.2,232M265.9,211.8L266,239.9M262.8,232.5L266,239.9L269.1,232.4M288.9,208.4L279.2,243.9M278.2,235.8L279.2,243.9L284.2,237.5M301.2,211.8L302.3,243.9M298.9,236.5L302.3,243.9L305.2,236.3M318.4,214.4L318,237.4M315.2,230.5L318,237.4L321,230.6M331.7,227.1L333.1,227.4M350.6,227.1L351.4,225M368.9,227.4L370,226.7M384.9,226.5L386.7,227.8M410.3,229.4L398.1,223.7M402.5,223.9L398.1,223.7L401,227M426.4,227L411.6,222.1M416.6,221.7L411.6,222.1L415.4,225.5M442.8,227.9L439.2,225.8M457.2,223.1L456.3,225M468.3,225.6L469.3,226.6M490.7,230.5L487.9,218.1M490.3,221.5L487.9,218.1L487.2,222.2M506.6,235.5L506.8,216.2M509.2,222L506.8,216.2L504.3,222M523.8,234.2L523.9,217.7M526,222.7L523.9,217.7L521.8,222.7M167.5,242.5L149.7,240.1M155.4,238.5L149.7,240.1L154.8,243M184.4,243.3L165.7,238.3M171.9,237.4L165.7,238.3L170.7,242.1M198.8,244.4L180.2,241.9M186.1,240.3L180.2,241.9L185.5,245M214.6,243.1L202.3,244.4M205.9,242.4L202.3,244.4L206.2,245.6M230.4,236.3L222.1,244.2M223.6,240.8L222.1,244.2L225.6,242.9M244.3,230.8L240.8,253.3M239,246.1L240.8,253.3L244.6,247M260.3,224.8L260.7,255.7M257.4,248.2L260.7,255.7L263.7,248.1M278.7,226.3L274.7,254.4M272.6,246.5L274.7,254.4L278.9,247.4M298.1,222.7L289.9,259.9M288.4,251.9L289.9,259.9L294.6,253.3M309.4,226.6L312.9,255.2M308.9,248.1L312.9,255.2L315.1,247.4M327.2,232.9L325.6,248.8M324.1,243.8L325.6,248.8L328.1,244.2M345.1,244.7L343.4,241.9M358.6,241.3L361.7,242M381.5,240L380.2,240.5M393.8,239L394.1,241.2M415.2,243.3L412.5,241.2M432.6,242.1L429.9,240.1M451.3,242.3L448.2,241.1M460,238.9L461.4,242.1M482.4,243.9L480.3,240.1M499.9,250.2L494.6,231.1M498.6,236.1L494.6,231.1L493.8,237.5M515.6,252.9L512.8,231.3M516.4,237.4L512.8,231.3L510.9,238.1M524.4,250.3L536.8,235M535,241.1L536.8,235L531.1,238M79.5,256.8L81.8,258.1M99,255.3L95.8,255.8M114.4,254.6L114.2,255.9M128.9,257.7L131.8,256.9M144.9,256.4L146.8,256.2M173.8,258.1L155.6,258.1M161,255.8L155.6,258.1L161.1,260.4M190.8,255.4L172.1,257.4M177.5,254.5L172.1,257.4L178,259.2M207.5,257.3L194.3,258M198.2,256.1L194.3,258L198.4,259.4M223.7,256.3L209.1,262.6M212.7,258.8L209.1,262.6L214.3,262.5M239.8,252.6L226.8,259.5M229.8,255.8L226.8,259.5L231.6,259M253.7,253.6L250.2,256.7M268.3,258.6L266.2,257.7M287.4,247.3L279.7,270.7M279.1,262.7L279.7,270.7L285,264.6M299.8,242.4L300.9,274.2M297.5,266.9L300.9,274.2L303.8,266.6M321.2,248L319.4,268.7M317.3,262.3L319.4,268.7L322.5,262.8M335.8,261.4L335.2,260M349.6,255.8L351.2,256.1M373.8,259.3L370.8,257.6M382.6,258.4L386,258.5M407.2,256.1L404,256.7M424.5,256.5L422.8,257.1M440,259.1L439.3,257.8M454.4,253.2L453.8,254.9M470.9,258.3L471.3,257.1M489.3,262.2L489.1,251.7M490.5,254.8L489.1,251.7L487.9,254.9M505.8,265.5L508.8,250.1M509.8,255.1L508.8,250.1L506,254.3M517,265L531.8,247.8M529.5,254.9L531.8,247.8L525.2,251.1M74.2,272L71.9,273.2M84.9,271.9L86.7,272.8M102.8,270.9L104.4,272.8M123.3,274.7L123,271.5M136.7,276L139,274.9M164.3,272.8L150.1,273.3M154.3,271.4L150.1,273.3L154.4,274.9M185.8,271.6L160.3,272.4M167.7,269L160.3,272.4L167.9,275.3M203.4,273L180.6,275.6M187.1,272L180.6,275.6L187.8,277.7M217.2,271.3L201.9,273.4M206.2,270.8L201.9,273.4L206.7,274.7M232.7,272.6L216.6,275.9M221,272.9L216.6,275.9L221.8,277M244.9,272.9L240.5,273.8M261.2,273.6L258,273.9M277.5,268L277.2,271.4M290.5,275L293.4,274.9M308.8,275L308.3,271.8M327.6,275.8L327.9,273.7M348.1,276.8L345,274.9M370.4,277.1L355.7,270.1M361,270.3L355.7,270.1L359.2,274M383.1,275.5L373.6,270.6M377.1,270.9L373.6,270.6L375.8,273.3M399.6,273.1L396.2,272.1M407.9,270.9L410,271.2M426.4,273.2L428.3,272.9M443,272.8L446,273.9M467.8,272.1L465.1,272.1M479,270.6L480.6,271.1M496.2,269.8L498.2,272.4M508.6,277L519.4,266.1M517.5,270.7L519.4,266.1L514.8,268M522.3,279.5L536.8,264.9M534.3,271.1L536.8,264.9L530.6,267.4M64.3,290.1L62.3,288.5M83.3,288.8L81.2,289.1M94.2,291.8L96.4,290.4M110.8,290.9L113.7,289.9M129,289.6L131.4,288.1M145.4,289.6L148.6,288.7M178.3,287.8L157,292M162.9,288.1L157,292L163.9,293.4M195.6,287.7L171.6,293.5M178.1,288.7L171.6,293.5L179.6,294.7M206.9,288.9L190.4,290.8M195.1,288.1L190.4,290.8L195.6,292.3M222.5,283.5L207.1,293.3M210.5,288.4L207.1,293.3L213,292.3M239.4,288.9L227.3,292.5M230.5,289.9L227.3,292.5L231.4,293M255.6,288.5L252,290.1M268,286.6L268.6,288.5M285.2,290.2L286.7,287.3M297.9,289.1L300.6,289M321.2,287L320.5,288.9M339.1,288.4L336.5,288.6M357.7,291L346.6,288.6M350.2,287.9L346.6,288.6L349.6,290.7M378,290.1L364.1,286.5M368.7,285.8L364.1,286.5L367.8,289.3M392.8,290.4L379.7,288.4M383.9,287.4L379.7,288.4L383.4,290.6M408.4,287.5L397.1,287.4M400.5,286L397.1,287.4L400.5,288.9M423.1,288.5L419.8,288.7M435,292.2L436.6,289.6M455.7,285.4L454.8,287.6M471.9,285.9L473.2,287.2M489.4,286.1L488.3,288.2M505.1,291.2L504.4,288.2M518,290.1L521.7,288.2M532.7,292.3L543.3,287.9M540.7,290.6L543.3,287.9L539.6,287.9M56.6,304.1L54.8,306.2M70,307.6L70.2,305.9M86.1,303.3L88,304M107.8,303.8L105.9,303.6M119.1,303.5L122.3,302.9M140.2,302.9L141.7,305.3M163.1,301.5L150.7,306.4M153.8,303.4L150.7,306.4L155,306.5M183.8,299.1L167,312.8M170.3,306.6L167,312.8L173.8,310.8M201,298.8L183.8,310.9M187.5,305.1L183.8,310.9L190.5,309.5M215.3,301.5L202.7,308.9M205.5,305.1L202.7,308.9L207.4,308.2M234.3,303.4L219.2,309.4M223,305.7L219.2,309.4L224.5,309.5M247.9,301.9L244,304.7M264.7,303L261.2,302.7M279.5,301.7L277,302.8M291.2,305.3L292.9,304.9M307.6,306.7L309,304.4M326,306.3L325.4,303.4M347.1,306.8L343.6,306.2M370.7,306.5L354.3,304.1M359.5,302.7L354.3,304.1L358.9,306.9M383.1,303.8L370.6,302.7M374.4,301.4L370.6,302.7L374.2,304.6M403.1,303.8L386,303.1M391.2,301.1L386,303.1L391,305.5M419.1,303.2L408.9,302M412.1,301.1L408.9,302L411.8,303.6M432.9,302.6L430.4,303.1M448.7,310L447.9,304.7M463.9,313.4L465.3,297M467,302.1L465.3,297L462.8,301.8M478.8,304.5L480.2,304.4M493,305L495.4,302.5M512.1,306.1L513.9,306.1M531.1,300.9L531.4,302.7M59.4,320.4L61.9,318.2M85.4,321.2L82.1,320.4M94.9,316.6L96.1,317.9M112.7,318.5L114.2,319.2M132.7,321L131.7,318.4M152.6,318.1L150.3,320.4M169.6,317.9L160.9,323.8M162.8,320.9L160.9,323.8L164.3,323.1M191.7,314.3L172.1,324.2M176.7,318.7L172.1,324.2L179.2,323.7M205.6,315.5L191.4,323.7M194.6,319.5L191.4,323.7L196.7,323.1M221,318.8L217.7,321.5M235.9,318.6L234.1,321.6M251.3,321.8L249.5,319.8M266.2,317.5L267.8,318.8M284.5,323.9L285.8,322.5M301.6,321.3L303,319M317.3,324.3L316.7,318.9M336.1,316.2L336.6,318.6M355.8,321.9L352.4,319.3M374.9,322.2L366,315.1M369.6,316.1L366,315.1L367.8,318.3M392.1,319.4L378.7,317M383,316L378.7,317L382.4,319.4M408.1,321.8L404.4,321.9M423.9,318.5L422.2,320.6M438.4,324.7L438.2,311.6M439.9,315.5L438.2,311.6L436.6,315.6M451.9,329.8L457.9,307.3M458.9,314.8L457.9,307.3L453.2,313.3M472.1,333.1L472.8,308.9M475.6,316.2L472.8,308.9L469.5,316M488.8,326.4L489.5,321.9M501.7,318.4L503.3,319.6M519.7,315.8L520.9,318.4M539.9,317.1L539,319.6M53.4,337.5L55,335.5M73.7,336.5L71.9,334.1M88.9,339.4L89.5,337.1M101.8,334.1L105.1,333.7M123.8,334.6L124.4,335.9M142.1,330.9L140.7,333.9M158.8,329.2L152.5,338.4M153.3,334.9L152.5,338.4L155.6,336.5M176.2,329.7L169.9,338M170.8,334.7L169.9,338L172.9,336.3M193.5,333L189.9,336.4M211.6,332L203.4,341.2M204.7,337.4L203.4,341.2L207.1,339.5M226.1,333.2L223.8,335.9M241.7,331.2L241.5,334.3M262.1,338.5L260.3,336.8M275.5,338L277.5,335.8M296.5,341.4L293.8,330.8M296,333.6L293.8,330.8L293.3,334.3M313.1,349.6L309.6,322.7M313.7,329.7L309.6,322.7L307.4,330.5M330.5,346L323,324.7M327.9,330.1L323,324.7L322.6,332M349.2,347.7L342,326.1M346.9,331.7L342,326.1L341.5,333.5M364.3,344.5L356.2,325.4M361.1,330.1L356.2,325.4L356.2,332.1M382.3,338.1L373.2,330.2M376.9,331.4L373.2,330.2L375,333.7M396.1,335L394.7,336.3M410.6,337.6L411,335.3M426.9,341.2L432.7,332.6M432.1,335.9L432.7,332.6L429.9,334.4M445.3,345.1L449.5,327.1M450.5,333L449.5,327.1L446,332M457.8,345.3L465,325.4M465.3,332.3L465,325.4L460.3,330.5M479.2,342.4L484.3,329.5M484.4,334L484.3,329.5L481.1,332.8M497.2,336.3L495.9,334.4M513.9,335L515.8,337.5M529.4,335.8L531.7,334.5M62.4,353.2L64,350.4M80.5,349.9L79.4,351M96.2,353.3L98.7,351.7M117,352.3L114.7,350.4M133.6,349.8L132.4,351.1M149.3,347.6L145.5,357.6M145.4,354.1L145.5,357.6L147.9,355.1M168.8,346.6L167.5,350.2M185.8,348.4L184.4,351.2M202.7,348.6L200.6,352.4M218.2,348.6L216.6,352.1M234.6,351.4L232.4,351M251.6,354.8L252.1,353.5M263.9,353.9L266.3,351.7M282.4,349.9L282.7,351.7M303.4,361.8L297.6,339.3M302.2,345.4L297.6,339.3L296.5,346.8M324.9,363.7L311.5,338.7M317.8,343.8L311.5,338.7L312.2,346.8M345.1,366.1L327.2,340.2M334.1,344.6L327.2,340.2L328.9,348.2M360.4,359.7L347.5,339.9M353.9,344.2L347.5,339.9L348.9,347.5M376.5,365.1L360.6,340.7M367.3,345.2L360.6,340.7L362,348.7M387.6,360.2L384.2,341.8M387.6,346.9L384.2,341.8L382.9,347.7M396.2,354.4L409.2,350.1M405.9,353L409.2,350.1L404.8,349.7M411.1,351.6L429.7,351.4M424.2,353.8L429.7,351.4L424.1,349.1M428.5,358.3L448.4,343M444.3,350.1L448.4,343L440.5,345.1M448.3,359.5L459.6,341.6M458.4,348.3L459.6,341.6L453.9,345.5M470.1,357.5L476.4,344.1M476.2,348.9L476.4,344.1L472.8,347.3M488.3,353.9L489.7,351.8M506.4,349.3L506.9,352.7M524.1,349L523,351.4M543.3,350.2L540.9,351.7M74.2,366.1L72.6,367.5M89.7,371.7L90.2,368.5M103.8,364.6L107.2,365.2M125.7,364L122.6,365.4M140.4,365.4L139.6,367M160.1,363.9L156.9,367.5M175.1,363.1L173.2,365.9M194,363.8L193.4,365.5M210.6,362.8L209.9,364.5M227.7,364.8L224.3,365.4M242.9,370.9L243.2,368.3M260.9,367.1L259.3,367.4M279.9,365.9L278.1,368.8M294.6,371.3L292.4,359.2M294.6,362.6L292.4,359.2L291.6,363.1M309.8,377.9L307.2,357.9M310.5,363.6L307.2,357.9L305.5,364.2M334.2,380.6L321.7,354.6M327.8,360L321.7,354.6L322.1,362.7M352.5,381.6L339.2,354.1M345.3,359.5L339.2,354.1L339.6,362.2M369,374.1L355,360.2M360.9,362.6L355,360.2L357.4,366.2M379.6,374.4L374.7,357.3M378.3,361.8L374.7,357.3L374,363.1M385.3,369.8L401.3,367M396.9,369.9L401.3,367L396.2,365.9M396,366.5L427.2,364M420,367.7L427.2,364L419.5,361.5M414.3,363.5L445.6,371.3M437.5,372.5L445.6,371.3L439.1,366.4M434,371.2L458.2,358.8M453,365.1L458.2,358.8L450.1,359.4M450.2,372.5L475.2,357.4M470.4,364L475.2,357.4L467.1,358.6M478.3,368.9L481.7,368M498,366.1L495.8,366.2M512.9,367L514.6,365.7M533.6,367.8L531.5,368.1M62.4,381.9L65,383.6M80.7,378.4L79,381.1M94,381L96.2,382.8M112.2,384L114.8,381.7M128.7,379.8L130.3,381.1M153.3,383L150.4,384.6M166,384.3L164.8,383.4M184.2,380.5L183.9,381.8M203.8,383.1L201.4,382.7M219.2,386.4L216.9,384.4M230.5,385.2L232.9,383.8M250.3,381.5L250,383.6M268.9,384.1L265.8,384.5M281.2,378.7L283.3,380.7M303.1,381.9L301.4,381.6M318.6,395.2L317.9,373.6M320.8,380L317.9,373.6L315.4,380.2M340.4,395.9L327.3,370.1M333.5,375.4L327.3,370.1L327.9,378.2M356.9,391.7L350,376.2M354.1,380L350,376.2L350.2,381.7M374.2,385.2L371.7,384.4M386.7,380.2L385.7,381.2M391.1,377.7L415.3,385.2M407.2,385.9L415.3,385.2L409,379.9M407.3,376.5L434.5,385.1M426.4,385.9L434.5,385.1L428.3,379.8M420.9,385.3L452.5,379M445.8,383.6L452.5,379L444.6,377.4M442.2,387.6L469,381.2M462.4,386L469,381.2L461,379.9M466,383.7L471.4,382.7M489.7,382.1L487.2,384.3M505.3,386.8L504.4,383.5M518.1,384.3L520.9,383.8M536.4,378.8L538.2,381M75.4,398L73.3,399.3M93,398L91,397.3M106.8,393.5L108.2,397.4M121.4,393.6L128.1,406.3M124.5,403.3L128.1,406.3L127.7,401.6M139.3,393.3L144.9,403.2M141.9,400.9L144.9,403.2L144.4,399.5M155.4,394.6L155.6,397.9M171.1,395.1L174,396.5M193.2,397.6L191.8,396.9M206.4,397.6L209.6,398.7M224.6,396.3L226.5,398.5M239.1,397.8L242,399.6M260.4,401.2L259.5,397.9M276.3,402.2L274.4,399.5M292.2,395.3L292.2,398.7M307.8,410L311,388.5M312.7,395.4L311,388.5L307.3,394.6M329.8,415.3L323.4,384.8M328.1,391.5L323.4,384.8L321.9,392.8M346.3,411.5L339.1,381.3M343.9,387.8L339.1,381.3L337.8,389.3M361.3,407.5L358.4,391.1M361.3,395.6L358.4,391.1L357.2,396.3M382.3,399L379.8,400.1M394.6,400.7L394.5,398M405.9,398.1L420.4,396.2M416.3,398.6L420.4,396.2L415.8,394.9M415.5,398.9L443.3,397.7M436,401.2L443.3,397.7L435.7,394.9M434.7,397.6L458.2,396.7M451.3,400L458.2,396.7L451.1,394M453.5,400.1L471.4,397M466.4,400.2L471.4,397L465.6,395.7M479.3,399.6L478.8,397.7M494.9,395.1L497.2,396.8M513.6,394.8L514.6,397.1M528.7,399.2L531.4,400.1M78.8,413.4L81.6,414.2M93.3,415.9L96,414.6M107.9,407.5L118.9,420.3M114,417.9L118.9,420.3L117.2,415.1M129.7,402.8L135.5,422.4M131.3,417.2L135.5,422.4L136.2,415.7M141.1,406.4L152.5,425.1M146.7,421L152.5,425.1L151.4,418.1M163.4,406.9L165.4,419.7M163.2,416.1L165.4,419.7L166.4,415.6M191.3,408.2L174,420M177.7,414.3L174,420L180.7,418.6M207.8,415.8L192.5,410.1M197.8,409.9L192.5,410.1L196.3,413.8M217,415.5L216.8,413.8M231.2,413.5L234,413M248.2,418.3L249.6,416M269.1,412.6L267.9,414.1M281.6,413.1L284.3,413.5M301.7,420.2L305.4,409.5M305.6,413.2L305.4,409.5L302.9,412.2M322.4,424.5L317.7,401.4M322,407.8L317.7,401.4L316.2,409M337.1,424.6L330.6,400.5M335.6,406.9L330.6,400.5L329.5,408.6M354.2,432.1L355,396.9M358,404.5L355,396.9L351.7,404.3M370.8,422.7L366.6,404M370.2,409.1L366.6,404L365.5,410.1M385.1,417.1L385.6,413.8M395.4,414L410,411.2M406,413.9L410,411.2L405.3,410.2M409.2,420.6L433,409.2M427.6,415.3L433,409.2L424.8,409.6M428.2,414.7L447.3,410.5M442.1,414.2L447.3,410.5L441.1,409.3M446.5,416.6L459.7,411.5M456.4,414.7L459.7,411.5L455.1,411.4M467.8,412.2L470.3,414.6M489.6,418.5L489.6,415.2M502,413L503.6,413.6M519.2,416.2L522.5,415.1M86.9,430.6L89.6,429.3M101.7,425.4L107.6,433.6M104.8,431.9L107.6,433.6L106.9,430.4M117,420.4L131.4,435.9M125.1,433.1L131.4,435.9L129.1,429.4M130.8,421.5L145.9,440.8M138.9,436.9L145.9,440.8L143.8,433.1M149.7,419L166.1,436.4M159,433.2L166.1,436.4L163.4,429.1M185.4,421.7L165.2,435.2M169.6,428.6L165.2,435.2L173,433.7M201.4,427.5L178.5,428.1M185.3,425L178.5,428.1L185.5,430.8M218.4,431L199.2,428.5M205.3,426.8L199.2,428.5L204.6,431.7M227.2,428.2L226.8,431.5M241.3,431L241.2,428.1M258.2,432.5L259.7,429.2M272.2,435.1L278.9,422.5M278.4,427.1L278.9,422.5L275.3,425.4M288.8,438.4L299.8,423.1M298.5,429.1L299.8,423.1L294.6,426.3M309.5,446.3L312.2,411.2M314.8,419L312.2,411.2L308.5,418.5M326.5,442.5L326.9,412.7M329.9,420.2L326.9,412.7L323.6,420.1M348.4,449L343.3,413.8M347.5,420.8L343.3,413.8L341.3,421.7M358.6,445.4L360.4,412M363.2,419.7L360.4,412L356.9,419.3M375.2,431.2L376.4,430.1M390.3,433.1L398.6,427.2M396.8,430.1L398.6,427.2L395.3,428M403.8,432.9L421.4,427.8M416.8,431.6L421.4,427.8L415.5,427.1M422,432.1L439.5,424.4M435.2,428.9L439.5,424.4L433.3,424.5M436.8,431.9L457.1,423.6M452.1,428.6L457.1,423.6L450,423.5M463.7,433.9L463.8,431.2M479.6,432.3L479.6,430.6M499.6,428.9L497.7,430.2M514.9,428.9L513.7,430.7M95.2,442.7L97.4,445.1M112.2,441.3L113.7,445.7M126.3,441.9L135.7,452M131.6,450.2L135.7,452L134.1,447.8M145.9,434.9L155.2,452.1M150.2,448.1L155.2,452.1L154.5,445.8M160.6,437.8L172.3,449.3M167.3,447.3L172.3,449.3L170.2,444.4M190.8,439.2L173,448.1M177.2,443.2L173,448.1L179.5,447.6M207.3,443.6L189,448.5M193.8,444.7L189,448.5L195.1,449.4M215.8,447.2L217.7,445.4M231.1,447.5L232.6,446.8M246.2,449.8L249,446.9M263.3,451.4L273,438.8M271.7,443.8L273,438.8L268.5,441.3M277.4,451L288.5,437.7M286.8,443.1L288.5,437.7L283.5,440.3M297.4,457.2L308.4,433.3M308.1,441.4L308.4,433.3L302.4,438.8M311.8,465.6L322,428.5M323,436.5L322,428.5L317,434.8M335.8,460.1L337.2,427M340,434.6L337.2,427L333.7,434.4M353.2,458.8L351,432.8M354.8,440L351,432.8L348.5,440.5M369.6,446.8L368,444.2M390.3,445.5L387.2,446.1M398.6,447.6L410.9,438.9M408.3,443.1L410.9,438.9L406.1,440M414.7,451.6L429.7,438.8M426.8,444.5L429.7,438.8L423.6,440.7M432.4,448.5L444,441.7M441.4,445.2L444,441.7L439.7,442.3M454.2,443.7L455.3,444.6M468,446.8L469.7,446.9M490.2,444.5L488.5,444.1M502.1,447.7L504.4,447.1M108.3,460.8L104.9,460.1M125.7,458L124.8,459.2M136.9,453.6L144.2,464.7M140.6,462.3L144.2,464.7L143.4,460.4M152.4,455.8L162.1,469.6M157.5,466.7L162.1,469.6L160.9,464.2M172.9,454.9L176.3,470.2M173.3,466L176.3,470.2L177.2,465.2M195.3,457.2L183.5,465.2M186,461.3L183.5,465.2L188,464.3M206.4,460.6L209.2,459.5M223.4,464.4L224.6,462M246.2,463.4L243.3,462.1M255.2,467.4L261.7,456.8M261.1,460.8L261.7,456.8L258.4,459.2M266.1,469.3L282.6,453.1M279.7,460.1L282.6,453.1L275.6,455.9M287.2,470.9L299.5,449.1M298.6,457.2L299.5,449.1L293.1,454.1M300.5,471.9L320.7,451.1M317.7,458.7L320.7,451.1L313.2,454.3M315.2,476.8L336.9,445.6M335.2,453.5L336.9,445.6L330,449.9M344.6,477.1L347.8,446.8M350.1,454.6L347.8,446.8L343.9,454M361.3,469.5L358.6,448.9M362,454.7L358.6,448.9L356.8,455.4M380.9,461L378.9,460.3M391.9,461.2L394.4,458.8M410,461L414.2,459.1M430.7,462.6L429.4,461.9M450.5,464L448.3,462.6M465.8,463.9L464.5,461.5M483.3,461L480,460M493.6,461.1L495.1,462.1M114.4,473.3L114.9,474.5M131,473.7L132.7,475M151.2,476.7L149.5,475.7M166.2,480.7L164.1,477.9M179.8,478.5L180.6,476.4M198.1,479.1L197.9,476.6M216.8,475L216.8,477.1M232.6,477L234.1,476.2M247.1,474.5L249.8,476.4M257.2,481.6L279.9,473.2M274.1,478.6L279.9,473.2L272,472.9M273.1,485L296.8,468.2M292.5,475.1L296.8,468.2L288.9,469.9M288.8,489.1L313.2,465.5M310,473L313.2,465.5L305.6,468.4M304.4,487.7L332.3,466.6M328.2,473.7L332.3,466.6L324.4,468.6M319.4,487.8L348.8,466M344.7,473L348.8,466L340.9,467.9M355.8,475.4L354.9,477.6M372,477.2L371.8,475.4M385.1,473.1L385.7,476.4M404.6,478.1L405.4,474.8M420.8,472.4L419.9,475.7M437.7,474L438.3,477.4M452.1,478.1L453.3,475.7M470.1,477.5L471.7,477.6M490.5,476.1L489.5,477M125,492.5L122.7,490.1M140.8,495.3L138.5,493.2M154.9,491.3L156.8,490.6M176.6,494L176.1,491.9M191.5,488.5L190.3,490.5M206,493.8L207.6,492.7M223.7,493.3L224.8,491.6M241.5,493.4L240.7,491.6M255.6,493.9L266,487.3M263.7,490.6L266,487.3L262,488M268.4,500.4L286.8,486.6M283,493.1L286.8,486.6L279.5,488.5M278.2,493.4L304.4,489.6M297.4,493.8L304.4,489.6L296.5,487.5M295.5,498.9L322.4,488.1M316.7,493.8L322.4,488.1L314.3,487.9M313.3,502.2L345.2,483.7M340.2,490.2L345.2,483.7L337.1,484.7M337.7,495.4L351.9,486.6M348.8,491L351.9,486.6L346.5,487.4M365.8,493.1L363.9,493.3M376.9,490.7L377.1,493.9M393.9,490.5L397,491.3M415.6,491.2L414.2,493.1M431.3,490.3L429,490.3M446.5,487.8L446.3,489.7M461.2,494.1L462.4,492.9M146.6,508.1L149.2,508.2M162.7,509.6L164,506.6M179.7,507.9L181.2,508.5M203.1,509L200.8,507.2M215,507L216.3,507.4M234.6,509.7L233.1,508.6M254.4,506.7L252.4,508.7M260,511.5L274.6,507.7M270.7,510.7L274.6,507.7L269.7,507M271.7,509.6L294.6,504.4M288.4,508.9L294.6,504.4L287,503.1M293.4,511.1L313.4,500.3M308.8,506.1L313.4,500.3L306,501M311.7,511.7L325.5,506.2M322.1,509.6L325.5,506.2L320.7,506.1M339.7,508.7L336.8,508.1M349.3,505L352.3,506.8M369.6,509.8L370.1,507.9M388,506L385.4,506.2M407.6,506.9L405,506.6M416.6,506.6L418.7,506.3M439.2,507.7L436.2,509.5M454.8,503.8L455.8,505.2M154.9,524.7L158.1,523.6M178.9,523.4L175.6,522.6M189.9,523.7L191.7,524.9M212.8,524.1L209.6,523.3M224.9,523L225.9,522.1M241.7,524.8L243.7,522.3M254.8,523.9L257.1,523.3M274.5,520.5L275.9,523.4M294.3,523.3L292.7,524.8M312.5,523.5L310,524.2M325.7,522.9L327.3,523.6M345.2,524.9L345.3,522.7M363.1,522.7L361,525.2M375.1,522.5L377.3,521.8M394.3,519.8L395.1,521.4M409.6,521.3L412.1,522.9M428.4,520.9L428.3,523.3M198.1,538.1L199.5,537.7M215.8,538.7L218.3,538.2M231.3,541.8L232.5,540M252.9,538.3L251.1,539.1M268.5,538.3L266.5,539M280.5,540.5L282.9,537.9M300.3,541.7L301,539.6M314.8,537.7L317.3,539M333.8,543L334.3,541.5M349.1,539.7L351,540.3M369.1,534.6L369.4,537.3M383,541L385.1,538.9M404.3,534.7L405.1,536.8M222.4,552.1L223.1,553.3M240.8,556.6L241.4,554M262.7,551.2L261.6,552.2M276.4,556.9L276.8,554.4M291.9,552.5L294.4,553.6M309.4,557.9L311.3,556.6M324.4,555.4L327.2,555.7M345.2,549.9L343.8,552.6M364.6,551.8L362.8,552.8M379.1,550.7L379.4,552.5M303.2,568.1L301.6,568.8" stroke="#000" stroke-width="1.85" fill="none" stroke-linecap="round" stroke-linejoin="round"/>
<path d="M326.3,81.9L329.4,85.7L325.8,86.8ZM348.3,85.6L345.8,88.4L344.7,84.7ZM359.8,88.9L358.9,85.2L362.6,86.3ZM332,96.8L336,99.7L332.7,101.6ZM351.5,95.7L354.6,98.5L351,99.8ZM373.3,100.8L370,102.6L370.1,98.8ZM385.2,105.9L383.9,102.4L387.7,103ZM405,105.7L403.5,102.3L407.2,102.7ZM342,112.3L345.2,116L341.6,117.2ZM357.2,115.9L361,116.8L358.3,119.6ZM376.1,114.4L379.9,114.2L378.1,117.6ZM394.7,118.9L391.8,116.5L395.3,115.2ZM413.8,115.8L412.7,119.3L410.2,116.4ZM145.8,130L148.9,132.1L145.5,133.8ZM164.3,132.5L168,133.1L165.6,136ZM181.2,130.3L183.6,133.1L179.9,133.7ZM201,134.2L197.3,135L198.5,131.4ZM217.6,131.1L217.4,134.9L214.2,132.9ZM231.3,128.3L235.2,130L232.2,132.4ZM248.8,129.4L252.4,131.4L249.3,133.5ZM265,134.8L264.1,131.2L267.8,132.3ZM299.1,130.7L303.5,132.8L300.6,135.3ZM383.4,128.3L387.5,130.4L384.5,132.8ZM403.3,129.8L405.1,133.1L401.3,133.1ZM426.1,130.3L423.4,134.4L421.3,131.2ZM442.8,130.9L438.9,133.9L437.9,130.3ZM458.1,129.9L456.1,133.2L454.3,129.9ZM157.7,144.4L159.7,147.6L155.9,147.7ZM176.2,149.1L173.5,151.7L172.6,148ZM237.8,145.3L242.6,144.4L241.8,148.1ZM462.9,151.9L461.9,148.3L465.6,149.3ZM165.3,162.6L166.4,166.1L162.7,165.3ZM473.9,165.2L470,164.4L472.4,161.5ZM468.2,178.9L464.1,181.6L463.4,177.9ZM480.2,183.4L477.7,180.7L481.4,179.9ZM500.9,182.3L497.2,181.4L499.9,178.7ZM459.2,191.5L457.7,195.6L455.1,192.8ZM471.4,192.3L474.5,194.4L471.1,196ZM490.4,194.7L487.2,196.5L487.2,192.7ZM504.1,198.4L505.1,194.9L507.7,197.6ZM210,212.4L206.5,213.6L207.3,209.9ZM444.6,209.9L448.3,209.4L446.8,212.9ZM463.9,214.8L461,212.5L464.6,211.2ZM479.9,205.7L481.8,209.1L478,209.1ZM497.2,207.9L500.3,211.4L496.7,212.6ZM511.7,206.2L514.5,209.6L510.8,210.5ZM213.1,227.4L215.9,224.8L216.8,228.5ZM336.2,227.9L332.8,229.3L333.4,225.5ZM352.7,222.1L353.2,225.8L349.7,224.3ZM372.6,224.9L371,228.3L368.9,225.1ZM389.3,229.6L385.6,229.3L387.8,226.2ZM435.6,223.7L440.1,224.2L438.2,227.5ZM455,227.9L454.6,224.2L458,225.8ZM471.6,228.9L468,228L470.7,225.3ZM341.6,239.1L345,240.9L341.8,242.9ZM364.8,242.7L361.2,243.9L362.1,240.2ZM377.2,241.8L379.4,238.8L380.9,242.3ZM394.5,244.3L392.2,241.4L396,240.9ZM409.8,239.2L413.7,239.7L411.3,242.7ZM427.2,238.1L431,238.6L428.7,241.7ZM445.1,239.8L448.9,239.3L447.5,242.8ZM462.7,245.3L459.6,242.9L463.1,241.4ZM478.2,236.3L482,239.2L478.7,241.1ZM84.6,259.6L80.9,259.8L82.7,256.4ZM92.5,256.3L95.5,253.9L96,257.6ZM113.8,259.1L112.3,255.7L116.1,256.2ZM134.8,256L132.3,258.7L131.2,255ZM150,255.7L147.1,258L146.6,254.3ZM246.8,259.7L248.9,255.3L251.4,258.1ZM263.3,256.4L267,255.9L265.5,259.4ZM333.9,257.1L336.9,259.3L333.4,260.8ZM354.3,256.6L350.9,258L351.5,254.2ZM367.8,255.9L371.7,255.9L369.9,259.2ZM389.4,258.6L385.9,260.4L386,256.6ZM400.8,257.2L403.7,254.8L404.3,258.5ZM419.8,258.2L422.1,255.3L423.5,258.9ZM437.6,255.1L440.9,256.8L437.6,258.8ZM452.8,258L452,254.3L455.6,255.5ZM472.4,254.1L473.1,257.7L469.5,256.5ZM69.1,274.7L71,271.5L72.8,274.9ZM89.6,274.3L85.9,274.5L87.6,271.1ZM106.4,275.3L102.9,274L105.9,271.6ZM122.7,268.2L124.9,271.3L121.1,271.6ZM141.8,273.4L139.8,276.6L138.1,273.2ZM236.1,274.7L240.1,271.9L240.9,275.7ZM254.8,274.2L257.8,272L258.2,275.8ZM276.8,274.7L275.3,271.1L279,271.6ZM296.6,274.7L293.5,276.8L293.3,273ZM307.9,268.5L310.2,271.5L306.5,272ZM328.4,270.6L329.8,274L326.1,273.5ZM341.9,272.9L346,273.3L344,276.5ZM392.9,271.1L396.8,270.3L395.7,273.9ZM413.2,271.8L409.7,273.1L410.4,269.4ZM431.4,272.3L428.6,274.7L428,271ZM449,274.9L445.3,275.6L446.6,272.1ZM461.9,272.2L465.1,270.2L465.2,274ZM483.6,272.1L480,272.9L481.2,269.3ZM500.1,275L496.6,273.5L499.7,271.3ZM59.8,286.6L63.5,287.1L61.2,290ZM78.1,289.4L81.1,287.2L81.4,290.9ZM99.1,288.7L97.4,292L95.4,288.8ZM116.8,288.9L114.3,291.7L113.1,288.1ZM134.1,286.4L132.4,289.7L130.4,286.5ZM151.8,287.7L149.1,290.5L148,286.8ZM248.4,291.7L251.3,288.4L252.8,291.8ZM269.4,291.5L266.7,289L270.4,287.9ZM288.2,284.4L288.4,288.2L285,286.4ZM303.8,288.9L300.6,290.9L300.5,287.1ZM319.4,291.9L318.7,288.2L322.3,289.5ZM333.3,288.8L336.4,286.7L336.6,290.5ZM416.5,288.9L419.7,286.8L419.9,290.6ZM438.2,286.9L438.2,290.6L434.9,288.7ZM453.6,290.6L453,286.9L456.6,288.4ZM475.5,289.4L471.9,288.6L474.5,285.8ZM486.8,291L486.6,287.3L490,289ZM503.8,285.1L506.3,287.8L502.6,288.6ZM525.3,286.3L522.5,289.9L520.8,286.5ZM52.7,308.6L53.3,305L56.2,307.4ZM70.7,302.7L72.1,306.2L68.3,305.6ZM91,305.3L87.3,305.8L88.7,302.3ZM102.7,303.3L106.1,301.7L105.7,305.5ZM125.6,302.2L122.7,304.7L122,301ZM143.4,308L140.1,306.3L143.3,304.2ZM240.3,307.3L242.9,303.1L245.1,306.2ZM257.7,302.4L261.4,300.8L261.1,304.6ZM274.1,303.9L276.3,301L277.7,304.5ZM296,304.2L293.3,306.7L292.5,303ZM310.6,301.7L310.6,305.4L307.4,303.4ZM324.6,300.3L327.2,303L323.5,303.8ZM340.1,305.7L343.9,304.4L343.3,308.1ZM427.3,303.7L430.1,301.2L430.8,304.9ZM447.1,300.2L449.7,304.4L446,305ZM483.4,304.3L480.3,306.3L480.1,302.5ZM497.8,300L496.8,303.8L494.1,301.2ZM517.1,306.1L513.9,308L513.9,304.2ZM531.9,305.8L529.5,303L533.3,302.3ZM64.4,315.9L63.2,319.5L60.6,316.8ZM78.8,319.7L82.6,318.6L81.7,322.3ZM98.1,320.4L94.6,319.2L97.5,316.7ZM117.1,320.6L113.4,321L115,317.5ZM130.6,315.4L133.5,317.7L129.9,319ZM148,322.7L149,319L151.6,321.7ZM214.5,324.2L216.5,320L218.9,323ZM232.2,324.6L232.4,320.6L235.7,322.6ZM247.3,317.5L250.9,318.5L248.1,321.1ZM270.3,320.8L266.7,320.3L269,317.3ZM287.9,320.1L287.2,323.7L284.3,321.2ZM304.7,316.3L304.6,320.1L301.4,318ZM316.2,314.4L318.6,318.7L314.8,319.1ZM337.1,321.8L334.7,319L338.4,318.3ZM349,316.7L353.6,317.8L351.3,320.8ZM400.8,322L404.4,320L404.5,323.8ZM420.2,323.1L420.7,319.4L423.7,321.7ZM490.1,317.5L491.3,322.2L487.6,321.7ZM505.9,321.5L502.2,321.1L504.4,318ZM522.2,321.3L519.2,319.2L522.6,317.6ZM538,322.6L537.2,318.9L540.8,320.2ZM57,333L56.5,336.7L53.5,334.4ZM70,331.5L73.5,333L70.4,335.2ZM90.4,334L91.4,337.6L87.7,336.6ZM108.4,333.4L105.3,335.6L104.9,331.8ZM125.9,338.8L122.7,336.8L126.1,335ZM139.3,336.9L139,333.1L142.4,334.7ZM186.6,339.5L188.6,335L191.2,337.8ZM221.5,338.5L222.4,334.6L225.3,337.1ZM241.3,337.5L239.6,334.2L243.4,334.4ZM258,334.7L261.6,335.4L259,338.2ZM279.6,333.4L278.9,337L276,334.5ZM392.4,338.5L393.4,334.9L396.1,337.6ZM411.5,332.1L412.9,335.6L409.1,334.9ZM494.1,331.8L497.5,333.4L494.3,335.5ZM517.8,340L514.3,338.7L517.3,336.3ZM534.4,332.8L532.7,336.1L530.7,332.8ZM65.6,347.6L65.7,351.4L62.4,349.5ZM77,353.1L78.1,349.5L80.6,352.4ZM101.5,350.1L99.7,353.4L97.7,350.1ZM112.2,348.4L115.9,348.9L113.5,351.9ZM130.1,353.4L131,349.8L133.7,352.5ZM166.2,353.7L165.7,349.5L169.3,350.8ZM183,354.1L182.7,350.4L186.1,352ZM198.5,356.3L199,351.5L202.3,353.3ZM215,355.5L214.8,351.3L218.3,352.9ZM229.3,350.3L232.8,349.1L232,352.8ZM253.5,350.6L253.9,354.3L250.4,352.7ZM268.7,349.4L267.6,353.1L265,350.3ZM283.2,354.9L280.8,352L284.6,351.4ZM491.5,349.2L491.3,352.9L488.1,350.8ZM507.4,356L505,352.9L508.8,352.4ZM521.7,354.3L521.3,350.6L524.7,352.2ZM538.2,353.4L539.9,350.1L542,353.3ZM70.2,369.7L71.4,366.1L73.9,368.9ZM90.7,365.3L92.1,368.8L88.3,368.2ZM110.5,365.8L106.8,367.1L107.5,363.3ZM119.5,366.7L121.8,363.6L123.4,367.1ZM138.3,369.9L137.9,366.2L141.4,367.8ZM153.9,370.8L155.5,366.2L158.3,368.7ZM171.2,368.8L171.6,364.9L174.7,367ZM192.4,368.6L191.6,364.9L195.2,366.1ZM208.7,367.4L208.1,363.8L211.6,365.2ZM220.9,366L224,363.5L224.6,367.2ZM243.6,365.2L245.1,368.6L241.3,368.1ZM256.2,368L259,365.5L259.6,369.2ZM276.2,371.6L276.5,367.7L279.7,369.8ZM485.1,367.2L482.1,369.9L481.2,366.2ZM492.6,366.4L495.7,364.3L495.9,368.1ZM517.1,363.7L515.7,367.2L513.4,364.2ZM528.3,368.5L531.2,366.2L531.7,370ZM67.6,385.4L63.9,385.2L66,382.1ZM77.3,383.8L77.4,380.1L80.6,382.1ZM98.8,384.7L95.1,384.3L97.4,381.3ZM117.4,379.4L116,383.1L113.5,380.3ZM132.8,383.1L129.2,382.6L131.5,379.6ZM147.4,386.2L149.5,382.9L151.3,386.2ZM162.2,381.6L165.9,381.9L163.7,385ZM183,384.9L182,381.3L185.7,382.3ZM198.3,382.1L201.7,380.8L201.1,384.5ZM214.6,382.2L218.2,383L215.7,385.8ZM235.6,382.1L233.9,385.4L231.9,382.2ZM249.5,386.8L248.1,383.4L251.9,383.9ZM262.6,384.8L265.6,382.6L266,386.3ZM285.6,382.9L282,382L284.6,379.3ZM298.3,381.1L301.8,379.8L301.1,383.5ZM368.6,383.4L372.3,382.6L371.1,386.2ZM383.3,383.4L384.4,379.8L387,382.6ZM475.8,381.9L471.7,384.6L471,380.9ZM484.8,386.6L485.9,382.9L488.5,385.7ZM503.5,380.2L506.3,383L502.6,384ZM524.1,383.4L521.2,385.7L520.6,382ZM540.2,383.5L536.7,382.2L539.7,379.8ZM70.5,401L72.3,397.7L74.3,400.9ZM88,396.2L91.6,395.5L90.3,399.1ZM109.6,401.2L106.4,398L110,396.8ZM155.8,401.2L153.7,398L157.5,397.8ZM176.9,397.8L173.2,398.2L174.8,394.7ZM189,395.3L192.7,395.2L190.9,398.5ZM212.7,399.8L208.9,400.5L210.2,396.9ZM228.7,400.8L225.1,399.8L227.9,397.2ZM244.9,401.5L240.9,401.2L243,398ZM258.6,394.6L261.3,397.4L257.7,398.4ZM272.5,396.7L275.9,398.4L272.8,400.5ZM292.3,402.1L290.3,398.7L294.1,398.7ZM376.8,401.4L379,398.3L380.5,401.8ZM394.5,394.8L396.4,398L392.7,398ZM477.8,394.7L480.6,397.2L476.9,398.3ZM499.8,398.7L496.1,398.4L498.3,395.3ZM515.8,400L512.8,397.8L516.3,396.4ZM534.5,401.1L530.8,401.9L532,398.3ZM84.6,415.2L81,416.1L82.1,412.4ZM98.9,413.2L96.9,416.3L95.2,412.9ZM216.4,410.6L218.7,413.6L214.9,414ZM237.1,412.5L234.3,414.9L233.7,411.1ZM251.2,413.3L251.2,417L247.9,415.1ZM265.9,416.6L266.4,412.9L269.4,415.3ZM287.4,413.9L284,415.3L284.6,411.6ZM386,410.6L387.4,414.1L383.7,413.6ZM472.9,417L469,416L471.7,413.2ZM489.5,412L491.5,415.2L487.7,415.3ZM506.6,414.8L502.9,415.4L504.3,411.9ZM525.8,414.1L523,417L521.9,413.3ZM92.4,427.8L90.4,431L88.7,427.6ZM226.3,434.7L224.9,431.2L228.7,431.7ZM241.2,424.9L243.1,428L239.3,428.1ZM261.2,426L261.4,430L257.9,428.5ZM378.7,427.9L377.7,431.5L375.1,428.7ZM463.9,428L465.7,431.3L461.9,431.1ZM479.7,427.4L481.5,430.6L477.7,430.6ZM495.1,432.1L496.6,428.7L498.8,431.8ZM511.9,433.3L512.1,429.6L515.3,431.8ZM99.7,447.5L96,446.4L98.8,443.8ZM115.2,449.9L111.9,446.3L115.5,445.1ZM219.9,443.1L219,446.7L216.3,444.1ZM235.5,445.5L233.3,448.5L231.8,445.1ZM251.9,444L250.4,448.2L247.7,445.6ZM366.4,441.4L369.6,443.2L366.4,445.1ZM384,446.7L386.8,444.2L387.6,448ZM457.7,446.7L454,446.1L456.5,443.2ZM472.9,447.1L469.7,448.8L469.8,445ZM485.4,443.3L489,442.3L488,445.9ZM507.4,446.2L504.9,448.9L503.8,445.3ZM101.6,459.3L105.4,458.2L104.5,461.9ZM122.9,461.7L123.3,458L126.3,460.3ZM212.1,458.3L209.9,461.3L208.5,457.8ZM226,459.1L226.3,462.8L222.9,461.2ZM240.3,460.9L244,460.4L242.5,463.9ZM375.9,459.3L379.5,458.5L378.3,462.1ZM397,456.5L395.7,460.2L393.1,457.4ZM418.3,457.3L415,460.8L413.4,457.4ZM426.5,460.4L430.3,460.2L428.5,463.6ZM445.6,460.9L449.3,461L447.2,464.2ZM463,458.7L466.2,460.6L462.8,462.5ZM476.7,458.9L480.6,458.1L479.4,461.8ZM497.8,463.9L494,463.7L496.2,460.5ZM115.9,477.5L113.1,475.2L116.6,473.9ZM135.3,476.8L131.6,476.5L133.8,473.4ZM146.8,474.1L150.5,474.1L148.6,477.3ZM162,475.2L165.6,476.8L162.6,479.1ZM181.8,473.5L182.4,477.1L178.8,475.7ZM197.5,473.4L199.7,476.4L196,476.8ZM216.7,480.3L214.9,477.1L218.7,477.2ZM236.9,474.6L235,477.9L233.1,474.5ZM252.4,478.3L248.7,478L250.9,474.9ZM353.6,480.5L353.1,476.8L356.6,478.3ZM371.5,472.2L373.7,475.2L369.9,475.6ZM386.2,479.7L383.8,476.7L387.5,476.1ZM406.3,471.5L407.3,475.3L403.6,474.3ZM419.1,478.9L418.1,475.2L421.8,476.2ZM438.8,480.8L436.4,477.7L440.1,477.1ZM454.7,472.8L455,476.5L451.6,474.9ZM474.9,477.9L471.5,479.5L471.9,475.7ZM487.3,479.3L488.2,475.7L490.9,478.4ZM120.3,487.7L124,488.8L121.3,491.4ZM136.2,491.1L139.8,491.8L137.2,494.6ZM159.8,489.7L157.4,492.4L156.2,488.8ZM175.3,488.8L177.9,491.4L174.2,492.4ZM188.7,493.2L188.7,489.5L191.9,491.5ZM210.3,491L208.6,494.3L206.6,491.1ZM226.4,488.9L226.4,492.6L223.1,490.6ZM239.3,488.7L242.4,490.8L238.9,492.4ZM360.7,493.6L363.7,491.4L364.1,495.2ZM377.3,497.2L375.2,494L379,493.8ZM400.1,492.1L396.5,493.1L397.5,489.4ZM412.3,495.6L412.7,491.9L415.7,494.2ZM425.8,490.2L429,488.4L429,492.2ZM445.8,492.9L444.4,489.4L448.1,490ZM464.7,490.7L463.7,494.3L461.1,491.6ZM152.4,508.3L149.1,510.1L149.2,506.3ZM165.3,503.7L165.7,507.4L162.2,505.9ZM184.2,509.6L180.5,510.3L181.8,506.7ZM198.2,505.3L201.9,505.7L199.7,508.8ZM219.4,508.1L215.9,509.2L216.8,505.5ZM230.5,506.7L234.2,507.1L232,510.1ZM250.2,510.9L251.1,507.3L253.8,510ZM333.7,507.6L337.1,506.3L336.5,510ZM355.2,508.7L351.2,508.4L353.3,505.2ZM370.9,504.8L371.9,508.4L368.3,507.4ZM382.2,506.4L385.3,504.3L385.5,508.1ZM401.8,506.2L405.2,504.7L404.8,508.5ZM421.9,505.8L419,508.2L418.4,504.4ZM433.3,511.3L435.3,507.9L437.2,511.1ZM457.7,507.7L454.3,506.3L457.3,504ZM161.2,522.4L158.7,525.3L157.4,521.8ZM172.3,521.9L176,520.8L175.2,524.5ZM194.4,526.6L190.7,526.5L192.7,523.3ZM206.4,522.6L210,521.5L209.2,525.2ZM228.2,519.9L227.2,523.5L224.5,520.7ZM245.7,519.8L245.2,523.5L242.2,521.2ZM260.2,522.5L257.6,525.2L256.6,521.5ZM277.2,526.4L274.1,524.2L277.6,522.6ZM290.4,527L291.4,523.5L294,526.2ZM307,525.2L309.5,522.4L310.6,526.1ZM330.2,524.9L326.5,525.3L328.1,521.8ZM345.5,519.5L347.2,522.7L343.4,522.6ZM359,527.7L359.6,524L362.5,526.4ZM380.4,520.9L377.9,523.6L376.7,520ZM396.4,524.3L393.4,522.2L396.8,520.6ZM414.8,524.7L411.1,524.5L413.2,521.4ZM428.1,526.5L426.4,523.2L430.2,523.4ZM202.6,536.8L200.1,539.5L198.9,535.9ZM221.4,537.6L218.6,540.1L217.9,536.4ZM234.3,537.3L234.1,541L230.9,538.9ZM248.2,540.3L250.4,537.3L251.9,540.8ZM263.5,539.9L266,537.2L267.1,540.8ZM285.2,535.4L284.3,539.2L281.5,536.6ZM302.1,536.5L302.8,540.2L299.3,538.9ZM320.1,540.4L316.4,540.7L318.1,537.3ZM335.4,538.5L336.1,542.2L332.5,540.9ZM354.1,541.2L350.5,542.1L351.6,538.5ZM369.8,540.4L367.6,537.5L371.3,537ZM387.4,536.6L386.5,540.3L383.8,537.6ZM406.1,539.9L403.3,537.5L406.9,536.2ZM224.7,556.1L221.5,554.3L224.7,552.3ZM242.3,550.9L243.3,554.5L239.6,553.5ZM259.2,554.4L260.3,550.8L262.9,553.6ZM277.3,551.2L278.6,554.7L274.9,554.1ZM297.3,554.9L293.6,555.3L295.2,551.8ZM314,554.8L312.4,558.2L310.3,555ZM330.4,556.1L327,557.6L327.4,553.8ZM342.4,555.5L342.1,551.8L345.5,553.5ZM359.9,554.3L361.9,551.1L363.7,554.5ZM379.7,555.7L377.5,552.8L381.2,552.3ZM298.6,570L300.9,567L302.3,570.5Z" fill="#000" stroke="#000" stroke-width="0.9" stroke-linejoin="round"/>
<path d="M175.5,174.8 L188.9,164.6 L203.1,155.5 L218,147.8 L233.5,141.3 L249.5,136.3 L266,132.6 L282.6,130.4 L299.4,129.7 L316.3,130.4 L332.9,132.6 L349.4,136.3 L365.4,141.3 L380.9,147.8 L395.8,155.5 L362.5,213.2 L352.8,208.1 L342.6,203.9 L332.1,200.6 L321.4,198.2 L310.4,196.8 L299.4,196.3 L288.5,196.8 L277.5,198.2 L266.8,200.6 L256.3,203.9 L246.1,208.1 L236.3,213.2 L227.1,219.1 L218.3,225.8Z" fill="none" stroke="#000" stroke-width="3.6" stroke-linejoin="miter"/>
<path d="M390.2,156.1 L361.8,208.2 L352,203.4 L341.8,199.4 L331.4,196.3 L320.7,194 L309.9,192.7 L299,192.3 L288.1,192.8 L277.3,194.2 L266.6,196.5 L256.2,199.7 L246.1,203.7 L236.3,208.6 L227,214.3 L218.2,220.7 L181.2,174.4" fill="none" stroke="#fff" stroke-width="3"/>
<path d="M390.2,156.1 L361.8,208.2 L352,203.4 L341.8,199.4 L331.4,196.3 L320.7,194 L309.9,192.7 L299,192.3 L288.1,192.8 L277.3,194.2 L266.6,196.5 L256.2,199.7 L246.1,203.7 L236.3,208.6 L227,214.3 L218.2,220.7 L181.2,174.4" fill="none" stroke="#000" stroke-width="1.6" stroke-dasharray="5,2.5"/>
<path d="M226.4,261.2 L232.1,255.1 L238.2,249.5 L244.8,244.4 L251.8,240 L259.2,236.1 L266.9,232.9 L274.8,230.4 L282.9,228.6 L292.5,283.2 L289.1,284 L285.8,285 L282.6,286.3 L279.5,287.9 L276.6,289.8 L273.8,291.9 L271.2,294.3 L268.9,296.9Z" fill="none" stroke="#fff" stroke-width="4.5"/>
<path d="M226.4,261.2 L232.1,255.1 L238.2,249.5 L244.8,244.4 L251.8,240 L259.2,236.1 L266.9,232.9 L274.8,230.4 L282.9,228.6 L292.5,283.2 L289.1,284 L285.8,285 L282.6,286.3 L279.5,287.9 L276.6,289.8 L273.8,291.9 L271.2,294.3 L268.9,296.9Z" fill="none" stroke="#000" stroke-width="3.5" stroke-dasharray="6,3"/>
</g>
<circle cx="299.4" cy="322.5" r="252.7" fill="none" stroke="#111" stroke-width="1.4"/>
</g>
<text x="277.8" y="66.8" class="lb">60W</text>
<text x="125.8" y="102.3" class="lb">30W</text>
<text x="428.8" y="102.3" class="lb">90W</text>
<text x="61.5" y="198.5" class="lb">0</text>
<text x="523.8" y="198.3" class="lb">120W</text>
<text x="1.3" y="330.3" class="lb">30E</text>
<text x="560.3" y="329.5" class="lb">150W</text>
<text x="36.8" y="460.7" class="lb">60E</text>
<text x="523.8" y="461.3" class="lb">180</text>
<text x="133.1" y="557.1" class="lb">90E</text>
<text x="428.8" y="557.3" class="lb">150E</text>
<text x="276.4" y="592.3" class="lb">120E</text>
<rect x="563.6" y="347.2" width="36" height="31" fill="#fff" stroke="#222" stroke-width="1.2"/>
<line x1="563.6" y1="368.5" x2="599" y2="368.5" stroke="#111" stroke-width="1.3"/>
<path d="M591,365 L599,368.5 L591,372" fill="none" stroke="#111" stroke-width="1.3"/>
<text x="580" y="361" class="lg">1</text>
<g>
<clipPath id="clipB"><circle cx="987.1" cy="322.2" r="252.7"/></clipPath>
<g clip-path="url(#clipB)">
<path d="M830.9,280C828.9,276.7 826.1,268.1 825.4,261.3C824.6,254.5 824.8,246.5 826.5,239.2C828.1,231.8 831.3,223.7 835.3,217.1C839.4,210.5 845.2,203.9 850.8,199.5C856.3,195 862.5,191.2 868.4,190.6C874.3,190.1 880.2,193.6 886.1,196.1C892,198.7 899,204.1 903.7,206.1C908.5,208.1 910,209.4 914.8,208.3C919.6,207.2 925.8,202 932.4,199.5C939,196.9 946.4,194.5 954.5,192.8C962.6,191.2 971.8,189.9 981,189.5C990.2,189.2 1002.3,189.3 1009.7,190.6C1017,191.9 1021.8,193.9 1025.1,197.2C1028.4,200.6 1029,206.1 1029.5,210.5C1030.1,214.9 1029.9,221 1028.4,223.7C1027,226.5 1023.8,227.8 1020.7,227C1017.6,226.3 1014.1,221.2 1009.7,219.3C1005.3,217.5 999,216 994.2,216C989.4,216 984.7,218 981,219.3C977.3,220.6 975.1,221.2 972.2,223.7C969.2,226.3 964.6,231.5 963.3,234.8C962,238.1 963.3,239.9 964.4,243.6C965.5,247.3 968.7,252.4 969.9,256.8C971.2,261.3 972.5,266.4 972.2,270.1C971.8,273.8 970.3,277.1 967.7,278.9C965.2,280.8 960.4,281.9 956.7,281.1C953,280.4 948.1,277.8 945.7,274.5C943.3,271.2 942.4,265.7 942.4,261.3C942.4,256.8 944.8,251.7 945.7,248C946.6,244.3 948.6,241.8 947.9,239.2C947.1,236.6 943.8,234 941.3,232.6C938.7,231.1 936.5,231.1 932.4,230.4C928.4,229.6 922.5,228.1 917,228.1C911.5,228.1 904.8,228.1 899.3,230.4C893.8,232.6 888.3,238.1 883.9,241.4C879.5,244.7 876.5,246.9 872.8,250.2C869.2,253.5 865.8,257.2 861.8,261.3C857.8,265.3 852.6,271.2 848.6,274.5C844.5,277.8 840.5,280.2 837.5,281.1C834.6,282 832.9,283.3 830.9,280Z" fill="#FEF0C3"/>
<path d="M941.3,212.7C942.7,210.5 949.7,206.4 954.5,205C959.3,203.5 967.2,202.6 969.9,203.9C972.7,205.2 972.9,210.3 971.1,212.7C969.2,215.1 963.1,217.3 958.9,218.2C954.7,219.1 948.6,219.1 945.7,218.2C942.7,217.3 939.8,214.9 941.3,212.7Z" fill="#FDD497"/>
<path d="M926.9,164.1C926.9,159.9 930,152.6 934.6,148.7C939.2,144.8 947.9,142.1 954.5,141C961.1,139.9 970.5,140.4 974.4,142.1C978.2,143.7 978.8,147.6 977.7,150.9C976.6,154.2 972.3,158.6 967.7,161.9C963.1,165.2 955.6,168.7 950.1,170.8C944.6,172.8 938.5,175.2 934.6,174.1C930.8,173 926.9,168.4 926.9,164.1Z" fill="#BFF5FB"/>
<path d="M998.6,296.6C1000.1,293.3 1004.9,289.9 1009.7,287.7C1014.5,285.5 1023.3,282.2 1027.3,283.3C1031.4,284.4 1033.6,290.3 1034,294.4C1034.3,298.4 1032.9,304.7 1029.5,307.6C1026.2,310.5 1018.9,312 1014.1,312C1009.3,312 1003.4,310.2 1000.8,307.6C998.3,305 997.2,299.9 998.6,296.6Z" fill="#FEF0C3"/>
<path d="M839.7,336.3C838.8,331.9 837.2,324.2 838.6,318.6C840.1,313.1 844,309.1 848.6,303.2C853.2,297.3 860,289.2 866.2,283.3C872.5,277.4 879.8,271.9 886.1,267.9C892.3,263.8 898.2,259.8 903.7,259C909.3,258.3 914.4,260.2 919.2,263.5C924,266.8 928,273.8 932.4,278.9C936.8,284.1 942.4,289.2 945.7,294.4C949,299.5 951.6,305.8 952.3,309.8C953,313.9 953.4,316.4 950.1,318.6C946.8,320.8 939,322 932.4,323.1C925.8,324.2 917,324.2 910.4,325.3C903.7,326.4 899,327.1 892.7,329.7C886.4,332.3 878.7,338.1 872.8,340.7C866.9,343.3 862.2,344.4 857.4,345.1C852.6,345.9 847.1,346.6 844.1,345.1C841.2,343.7 840.6,340.7 839.7,336.3Z" fill="#BFF5FB"/>
<path d="M853,329.7C850.4,326.7 848.6,319.7 850.8,314.2C853,308.7 860,302.5 866.2,296.6C872.5,290.7 881.7,282.6 888.3,278.9C894.9,275.2 900.8,273.4 905.9,274.5C911.1,275.6 914.8,281.1 919.2,285.5C923.6,289.9 929.5,296.6 932.4,301C935.4,305.4 938.3,309.1 936.8,312C935.4,315 929.1,317.2 923.6,318.6C918.1,320.1 910.4,319.7 903.7,320.8C897.1,322 890.1,323.4 883.9,325.3C877.6,327.1 871.4,331.1 866.2,331.9C861.1,332.6 855.5,332.6 853,329.7Z" fill="#96E2FA"/>
<path d="M868.4,314.2C868.8,310.7 869.5,303.2 872.8,298.8C876.1,294.4 883.1,290.3 888.3,287.7C893.4,285.2 899.3,282.2 903.7,283.3C908.1,284.4 913.3,290.3 914.8,294.4C916.2,298.4 915.1,304.3 912.6,307.6C910,310.9 904.1,312.4 899.3,314.2C894.5,316.1 888.7,317.7 883.9,318.6C879.1,319.6 873.2,320.5 870.6,319.7C868.1,319 868.1,317.7 868.4,314.2Z" fill="#4FA8F6"/>
<path d="M1075,254.6C1076.1,246.2 1079.8,240.3 1083.9,237C1087.9,233.7 1093.4,233.7 1099.3,234.8C1105.2,235.9 1112.9,239.2 1119.2,243.6C1125.4,248 1131,255.7 1136.8,261.3C1142.7,266.8 1149.7,270.8 1154.5,276.7C1159.3,282.6 1163.3,290.3 1165.5,296.6C1167.7,302.8 1168.5,308.3 1167.7,314.2C1167,320.1 1163.3,326 1161.1,331.9C1158.9,337.8 1156.3,343.7 1154.5,349.5C1152.7,355.4 1152.3,361.7 1150.1,367.2C1147.9,372.7 1144.6,379.7 1141.3,382.6C1137.9,385.6 1133.5,386.3 1130.2,384.9C1126.9,383.4 1124,379.7 1121.4,373.8C1118.8,367.9 1117.7,356.9 1114.8,349.5C1111.8,342.2 1108.1,336.3 1103.7,329.7C1099.3,323.1 1092.7,316.8 1088.3,309.8C1083.9,302.8 1079.5,296.9 1077.2,287.7C1075,278.5 1073.9,263.1 1075,254.6Z" fill="#BFF5FB"/>
<path d="M1092.7,261.3C1095.3,257.6 1098.6,252.4 1103.7,252.4C1108.9,252.4 1117.3,256.8 1123.6,261.3C1129.9,265.7 1136.5,272.3 1141.3,278.9C1146,285.5 1150.5,293.6 1152.3,301C1154.1,308.3 1153.8,316.4 1152.3,323.1C1150.8,329.7 1146,336.3 1143.5,340.7C1140.9,345.1 1139.8,348.4 1136.8,349.5C1133.9,350.6 1129.5,350.3 1125.8,347.3C1122.1,344.4 1118.8,337.4 1114.8,331.9C1110.7,326.4 1105.2,320.5 1101.5,314.2C1097.8,308 1094.9,301 1092.7,294.4C1090.5,287.7 1088.3,280 1088.3,274.5C1088.3,269 1090.1,264.9 1092.7,261.3Z" fill="#96E2FA"/>
<path d="M1099.3,274.5C1101.2,270.8 1105.6,266.4 1110.4,265.7C1115.1,264.9 1123.2,266.4 1128,270.1C1132.8,273.8 1136.8,281.1 1139,287.7C1141.3,294.4 1142,303.2 1141.3,309.8C1140.5,316.4 1137.2,323.8 1134.6,327.5C1132.1,331.1 1128.7,333.4 1125.8,331.9C1122.9,330.4 1120.3,323.8 1117,318.6C1113.7,313.5 1108.9,306.1 1105.9,301C1103,295.8 1100.4,292.2 1099.3,287.7C1098.2,283.3 1097.5,278.2 1099.3,274.5Z" fill="#4FA8F6"/>
<path d="M1112.6,287.7C1114,285.2 1118.4,282.6 1121.4,283.3C1124.3,284.1 1128.7,288.1 1130.2,292.2C1131.7,296.2 1131,303.9 1130.2,307.6C1129.5,311.3 1128,313.9 1125.8,314.2C1123.6,314.6 1119.2,312.4 1117,309.8C1114.8,307.2 1113.3,302.5 1112.6,298.8C1111.8,295.1 1111.1,290.3 1112.6,287.7Z" fill="#2B50F7"/>
<path d="M1139,225.9C1138.3,220.1 1141.6,213.1 1145.7,208.3C1149.7,203.5 1157.1,199.8 1163.3,197.2C1169.6,194.7 1176.6,192.1 1183.2,192.8C1189.8,193.6 1197.2,196.9 1203.1,201.7C1208.9,206.4 1214.5,214.5 1218.5,221.5C1222.6,228.5 1225.3,236.2 1227.3,243.6C1229.4,251 1230.6,259.4 1230.6,265.7C1230.6,271.9 1229.7,277.8 1227.3,281.1C1224.9,284.4 1220.3,285.9 1216.3,285.5C1212.3,285.2 1208.2,282.2 1203.1,278.9C1197.9,275.6 1191.3,270.1 1185.4,265.7C1179.5,261.3 1173.6,256.1 1167.7,252.4C1161.9,248.7 1154.9,248 1150.1,243.6C1145.3,239.2 1139.8,231.8 1139,225.9Z" fill="#FEF0C3"/>
<path d="M872.8,370.8C873.6,363.8 876.1,357.9 879.5,353.1C882.8,348.3 887.5,345 892.7,342.1C897.8,339.1 903.7,337.1 910.4,335.4C917,333.8 925.8,331.8 932.4,332.1C939,332.5 944.2,334.5 950.1,337.7C956,340.8 962.2,346.1 967.7,350.9C973.3,355.7 979.1,360.5 983.2,366.3C987.2,372.2 991.3,380.3 992,386.2C992.8,392.1 990.9,397.6 987.6,401.7C984.3,405.7 977.7,408.3 972.2,410.5C966.6,412.7 961.1,413.4 954.5,414.9C947.9,416.4 939.8,419 932.4,419.3C925.1,419.7 917.7,418.6 910.4,417.1C903,415.6 894.2,414.2 888.3,410.5C882.4,406.8 877.6,401.7 875,395C872.5,388.4 872.1,377.8 872.8,370.8Z" fill="#FEF0C3"/>
<path d="M883.9,375.2C884.2,370.4 885.3,364.1 888.3,359.7C891.2,355.3 896.4,351.6 901.5,348.7C906.7,345.7 913.3,343.2 919.2,342.1C925.1,341 931,340.6 936.8,342.1C942.7,343.5 949.3,347.2 954.5,350.9C959.6,354.6 964.1,359 967.7,364.1C971.4,369.3 975.8,376.6 976.6,381.8C977.3,386.9 975.1,391.4 972.2,395C969.2,398.7 964.8,401.7 958.9,403.9C953,406.1 944.2,407.5 936.8,408.3C929.5,409 921.8,409.4 914.8,408.3C907.8,407.2 899.7,405 894.9,401.7C890.1,398.4 887.9,392.8 886.1,388.4C884.2,384 883.5,380 883.9,375.2Z" fill="#FDD497"/>
<path d="M897.1,375.2C897.5,369.3 900.1,360.1 903.7,355.3C907.4,350.5 913.3,347.6 919.2,346.5C925.1,345.4 933.2,346.5 939,348.7C944.9,350.9 950.5,354.9 954.5,359.7C958.5,364.5 962.2,371.9 963.3,377.4C964.4,382.9 963.3,388.8 961.1,392.8C958.9,396.9 954.9,399.8 950.1,401.7C945.3,403.5 938.7,403.9 932.4,403.9C926.2,403.9 917.7,403.9 912.6,401.7C907.4,399.5 904.1,395 901.5,390.6C899,386.2 896.7,381.1 897.1,375.2Z" fill="#FE7452"/>
<path d="M908.1,375.2C908.1,370.4 909.6,363.8 912.6,359.7C915.5,355.7 920.7,351.6 925.8,350.9C931,350.2 938.7,352.7 943.5,355.3C948.2,357.9 951.9,361.9 954.5,366.3C957.1,370.8 958.9,377.4 958.9,381.8C958.9,386.2 957.4,390.3 954.5,392.8C951.6,395.4 946.4,396.5 941.3,397.2C936.1,398 928.4,398.7 923.6,397.2C918.8,395.8 915.1,392.1 912.6,388.4C910,384.7 908.1,380 908.1,375.2Z" fill="#F52234"/>
<path d="M921.4,377.4C921.9,374.8 922.9,370.6 925.8,368.6C928.7,366.5 935,364.5 939,365.2C943.1,366 947.9,369.8 950.1,373C952.3,376.1 953.4,381.1 952.3,384C951.2,386.9 947.1,389.5 943.5,390.6C939.8,391.7 933.7,391.7 930.2,390.6C926.7,389.5 924,386.2 922.5,384C921,381.8 920.8,380 921.4,377.4Z" fill="#D5142D"/>
<path d="M848.6,448C849.8,444.3 853.3,440.7 857.4,439.2C861.4,437.7 866.9,438.1 872.8,439.2C878.7,440.3 886.4,442.9 892.7,445.8C899,448.7 904.8,454.3 910.4,456.8C915.9,459.4 920.3,462 925.8,461.3C931.3,460.5 938.7,456.8 943.5,452.4C948.2,448 950.5,439.2 954.5,434.8C958.5,430.4 962.2,428 967.7,425.9C973.3,423.9 981.4,422.6 987.6,422.6C993.9,422.6 1000.8,423.2 1005.3,425.9C1009.7,428.7 1013,434.8 1014.1,439.2C1015.2,443.6 1014.5,448.4 1011.9,452.4C1009.3,456.5 1003.8,459.8 998.6,463.5C993.5,467.1 987.6,471.9 981,474.5C974.4,477.1 966.3,478.9 958.9,478.9C951.6,478.9 943.5,474.5 936.8,474.5C930.2,474.5 923.6,477.1 919.2,478.9C914.8,480.8 914.8,483.7 910.4,485.5C905.9,487.4 899,489.9 892.7,489.9C886.4,489.9 878.7,488.1 872.8,485.5C866.9,483 861.2,478.5 857.4,474.5C853.5,470.5 851.1,465.7 849.7,461.3C848.2,456.8 847.3,451.7 848.6,448Z" fill="#BFF5FB"/>
<path d="M972.2,437C973.6,434.8 979.9,433.7 983.2,434.8C986.5,435.9 991.7,441 992,443.6C992.4,446.2 988.3,449.5 985.4,450.2C982.5,451 976.6,450.2 974.4,448C972.2,445.8 970.7,439.2 972.2,437Z" fill="#96E2FA"/>
<path d="M1035.3,349.5C1038.2,345.3 1045.6,335.2 1050.8,329.7C1056,324.2 1062.2,318.2 1066.2,316.4C1070.2,314.5 1070.6,314 1075,318.6C1079.4,323.2 1088.3,335.6 1092.7,344.3C1097.1,353 1100,360.1 1101.5,370.8C1103,381.5 1102.6,397.6 1101.5,408.3C1100.4,419 1097.8,426.7 1094.9,434.8C1092,442.9 1088.7,449.8 1083.9,456.8C1079.1,463.8 1071.4,473.8 1066.2,476.7C1061,479.6 1056.3,478.6 1053,474.5C1049.7,470.4 1047.8,459.8 1046.3,452.4C1044.8,445 1045.9,437.8 1044.1,430.4C1042.3,423 1037.7,417.5 1035.3,408.3C1032.9,399.1 1030.2,384.1 1029.8,375.2C1029.4,366.3 1032.2,359.3 1033.1,355C1034,350.7 1032.3,353.7 1035.3,349.5Z" fill="#FEF0C3"/>
<path d="M1046.3,350.9C1049.8,347.2 1055.9,342.8 1061.8,342.1C1067.7,341.4 1076.5,342.8 1081.7,346.5C1086.9,350.2 1090.5,357.5 1092.7,364.1C1094.9,370.7 1095.6,379.6 1094.9,386.2C1094.2,392.8 1091.6,399.1 1088.3,403.9C1085,408.7 1079.8,413.1 1075,414.9C1070.2,416.7 1064.4,416.7 1059.6,414.9C1054.8,413.1 1049.4,409.4 1046.3,403.9C1043.2,398.4 1041.7,388.4 1040.8,381.8C1039.9,375.2 1039.9,369.2 1040.8,364.1C1041.7,359 1042.8,354.6 1046.3,350.9Z" fill="#FDD497"/>
<path d="M1055.2,379.6C1056.3,375.9 1060.7,370.1 1064,368.6C1067.3,367.1 1072.6,368.2 1075,370.8C1077.4,373.4 1078.8,379.8 1078.4,384C1078,388.2 1075.2,393.7 1072.8,396.1C1070.4,398.5 1066.6,399.3 1064,398.4C1061.4,397.5 1058.9,393.7 1057.4,390.6C1055.9,387.5 1054.1,383.3 1055.2,379.6Z" fill="#FE7452"/>
<path d="M1198.6,381.8C1200.4,377.4 1206,370.1 1209.7,368.6C1213.4,367.1 1218.9,369.3 1220.7,373C1222.5,376.7 1222.5,386.2 1220.7,390.6C1218.9,395 1213.4,398.8 1209.7,399.5C1206,400.2 1200.4,397.9 1198.6,395C1196.8,392.1 1196.8,386.2 1198.6,381.8Z" fill="#FEF0C3"/>
<path d="M1060,90C1074.7,84.8 1120.4,59.8 1154.5,75.9C1188.6,91.9 1246.5,153.1 1264.9,186.2C1283.2,219.3 1274.1,262 1264.9,274.5C1255.7,287 1222.6,266.4 1209.7,261.3C1196.8,256.1 1193.9,249.9 1187.6,243.6C1181.4,237.3 1177.7,230.4 1172.2,223.7C1166.6,217.1 1159.3,209 1154.5,203.9C1149.7,198.7 1143.5,195.8 1143.5,192.8C1143.5,189.9 1155.6,191.7 1154.5,186.2C1153.4,180.7 1142.7,167.1 1136.8,159.7C1131,152.4 1124.7,146.5 1119.2,142.1C1113.7,137.7 1108.5,136.2 1103.7,133.2C1099,130.3 1096.7,128.8 1090.5,124.4C1084.2,120 1071.3,112.5 1066.2,106.8C1061.1,101 1045.3,95.1 1060,90Z" fill="url(#hatch)"/>
<path d="M896,377.8C906.5,373.3 948.4,373.3 958.9,377.8C969.4,382.4 969.4,400.4 958.9,405C948.4,409.5 906.5,409.5 896,405C885.5,400.4 885.5,382.4 896,377.8Z" fill="url(#hatch)"/>
<path d="M1172.2,192.8C1174,186.9 1175.1,183.3 1178.8,181.8C1182.5,180.3 1189.8,181.4 1194.2,184C1198.6,186.6 1202,192.5 1205.3,197.2C1208.6,202 1211.9,206.4 1214.1,212.7C1216.3,219 1218.1,229.6 1218.5,234.8C1218.9,239.9 1219.6,240.7 1216.3,243.6C1213,246.5 1204.2,251 1198.6,252.4C1193.1,253.9 1188,254.6 1183.2,252.4C1178.4,250.2 1172.5,245.1 1169.9,239.2C1167.4,233.3 1167.4,224.8 1167.7,217.1C1168.1,209.4 1170.3,198.7 1172.2,192.8Z" fill="url(#stip)"/>
<path d="M1073,79.7L1095.9,94.1L1097.8,104.9L1102.6,113.8L1111.8,122.7L1117.3,136.3L1124.2,140.3L1133.3,154L1139,170.3L1134.7,177.1L1131.7,185L1130.8,195.1L1127.7,208.3L1122.7,221.9L1128.8,221.5L1131.2,212.8L1136.2,201.5L1139.8,194.1L1139.7,202.9L1136.4,213.7L1133,218.2L1125.8,232.5L1123.6,238.5L1118,254.1L1113.6,261.3L1105.3,265.8L1096.5,268.9L1090.5,273.3L1088.4,280.3L1079.3,289.5L1073.5,299.9L1067.8,307.2L1067.6,316.6L1070.6,325.1L1075.8,331.5L1080,341.9L1080.6,345.5L1075.4,334.6L1071.2,334L1065.4,341.7L1056.9,340.9L1054,335.2L1049,342.3L1043.4,338.3L1039,333.2L1036.4,327.8L1039.6,320.4L1040.9,313.7L1041,307.8L1037.2,303L1036.5,299.2L1035.1,291.1L1031.9,284.6L1026.8,281.1L1022.3,277.1L1015.3,280.4L1014.3,275L1014.6,265.9L1019.2,260.5L1024.3,260.2L1032.8,255.7L1034.4,252.7L1034.4,246.5L1030.3,240.9L1022.7,234.2L1023.1,223.4L1019.6,226.8L1013.3,233.9L1011.4,245.2L1009.9,252.1L1003,247.4L998.9,238.1L993.4,242.3L989.4,233L986.3,227.2L979.9,218.8L987.1,212.6L995.9,209.9L996.9,205.5L987.1,200.5L990.4,197.5L1000.6,193.5L1003.6,197L1007.1,195.9L1010.5,189.2L1020.6,187.8L1023.1,183.1L1028.5,177.9L1028.8,171.8L1036.8,169.3L1046.9,166.4L1050.5,160.3L1050.2,148.8L1054,143.2L1057,147.5L1057.6,153.6L1057.8,163.4L1068.2,169.6L1073.9,167.5L1085.3,176.6L1100.9,172.3L1111.6,161.7L1113.4,148.4L1102,138.3L1080.2,139.5L1088.9,130.8L1095.4,122.8L1083.4,115.8L1078.1,109.8L1086.9,94.9L1072.2,81.9M964.9,244.6L970.9,246L977.4,253.3L980.5,264L982,269.3L983.8,274.6L990.3,285.4L993.7,291.2L990.3,296L987.1,301.1L979.9,306.7L973.6,306.1L969.5,302.6L962.8,294.3L957.7,284.6L956.6,278.7L959.6,270.5L962.6,261.6L963.6,253.8L964.9,244.6M993.5,248.8L989.3,258.2L994.5,269.6L1001,279.4L1008.9,281.3L1009.5,274.1L1002.3,265.7L1008.6,256.1L999.9,249.6L993.5,248.8M1026.6,282.7L1031,294.8L1023.5,295.7L1019.3,288.9L1026.6,282.7M999.3,288.7L995.1,294.3L987.8,301.2L990.3,304.1L999,301.7L1004.3,292.5L999.3,288.7M1001.1,283.7L1004.9,291.3L1010.4,290.1L1001.1,283.7M1031.6,301.5L1023.9,304.2L1024.8,297.7L1031.6,301.5M939.5,269.3L944.8,267L949,270.7L943.6,277.1L938.7,276.2L939.5,269.3M1061.8,137.4L1049.9,129L1039.9,118L1050.5,121.1L1068.1,135.9L1061.8,137.4M806.9,145.1L820.8,143.8L830.1,150.9L841.9,169.2L850,182.7L854.8,198.8L856.2,213.1L862.4,231.6L854.7,239.5L852.7,253.7L846,270.8L834.1,269.5L818.1,289.4L823.5,299.2L818.4,322.2L817.9,329L813.4,329.8L803,335.1L785.5,347L761.2,360L751.9,377.8L746.2,382.3L759.1,411.1L751.2,412.8M754.5,384.5L764,396.9L778.6,406.4L793.1,418.9L812.5,422.2L812.8,411L818.4,405.6L805.1,393.9L812,385.9L821.7,375.9L820.9,384.3L821.9,404.5L824.5,421.9L833.3,438.1L830.7,448.8L835.2,462.8L821.8,480.7L811.6,504M824,515.2L834.1,506.5L845.8,499.8L870.7,498L882.5,496.3L890.2,500.7L891.4,510.1L891.2,527.9L899,540.4L894.5,557.3M897.4,558.4L907.9,546L911.7,554.1L917.4,565.1M930.8,566.2L940.7,544.3L937.9,527.2L944.5,522.8L966.1,522.3L985.4,514.1L993.2,496L989.4,485.7L985.7,479L993.6,470.6L983.2,472.3L982.1,465.8L990.7,460L997.7,462.9L1004.1,471.4L1005,479L1011.6,477L1008.8,467.5L1010.2,457.5L1011.7,452.4L1014.3,450.3L1024.7,437.9L1025.5,424.9L1024,416L1015.7,415.8L1019.7,399.1L1028.2,393.3L1039.3,376.2L1042.1,381.2L1047.9,387.4L1050.5,407.9L1039.5,394.4L1036.8,385.8L1040.2,377.2L1049.3,369.1L1046.1,359L1046,353.5L1047.3,344.1L1043.1,347.1L1035.4,350.1L1028.4,356.9L1021.2,362.9L1010.9,363.5L1004.3,369.6L995.4,369.2L985.6,365.8L981.6,366.9L980.7,358.6L978,353.9L971.6,358.7L959,355.6L951.7,354.1L939.7,356.6L938.8,350.1L934.9,345.5L925,337.7L920,334L923.2,326.1L931.4,325.1L936.9,317.8L934.8,313L928.2,305.3L919.8,295.7L911.1,287.6L907.3,289.2L908.4,294.3L899.1,295.3L897,297.1L903.1,302L911.2,304.7L922.3,313.7L908.6,311.2L906.4,322.2L905.5,312.9L899,308.2L892.6,303L894.9,289.5L904.6,292.2L898.8,287.4L895,285L894.7,278.5L892.9,272.1L890.9,266.6L893.4,257.1L883,259.2L876.8,254.6L885.1,242.5L882.8,238L870.4,227.7L862.3,232.9L859.8,245.7L867.1,255.7L868.6,267.9L868.2,275.3L855.5,283.2L844.8,285.7L849.5,294.2L866.8,283.8L869.4,287.8L855.5,296.6L841.8,300.5L838.2,302.6L849.3,305.3L849.9,319.8L835.4,316.9L835.2,338.2L824.2,336.5L818.2,334.9M849.9,319.8L853.5,333.9L852.6,349.6L858.6,347.2L864.1,336.2L867,324.3L859.3,319.1L849.9,319.8M876.7,365.7L866.3,359.1L857.7,368L849.8,383L860.8,375.8L872.4,371.3L876.7,365.7M897.9,258.5L894.9,271.7L899.6,272.3L908.5,273.1L912.7,276.1L916.1,276.1L917.5,273.5L914,268.7L909.8,267.1L903.8,268.1L902.2,262.7L897.9,258.5M907.7,255.5L911.7,262.2L911.2,266.1L906.8,263.8L903.5,260.8L907.7,255.5M1018.2,489.7L1017.7,479.4L1024.6,472.7L1030.2,467.7L1036.1,460.7L1033.5,449.7L1034.7,444.2L1032.7,436.7L1043.1,439.5L1039.5,445.6L1036.8,448.4L1040.3,457.4L1042.2,467.2L1033.4,473.7L1030.3,478.1L1021.1,482.1L1018.2,489.7M1032.7,435L1029.9,423.1L1024.2,411.8L1025.6,418.5L1032.7,435M989.9,525.3L992.1,512.9L987.8,517.8L989.9,525.3M990.1,539L989.2,557.5L1003.8,561.2L995,549L990.1,539M947.4,536.6L952.3,530.2L945,532.8L947.4,536.6M941.2,346.1L946,340.5L956.9,341.1L960.1,343.3L946.6,341.9L941.2,346.1M954,313.3L960.9,313.2L961.3,316.7L958.1,321.2L954.4,317.6L954,313.3M962,330.3L966.2,333.3L965.9,335.5L962,330.3M976.3,351.9L976.5,344.9L979,344.5L980.1,350.3L976.3,351.9M1001.6,362L998.3,358.8L1003.3,355.4L1001.6,362M1030.7,347.4L1030.8,344.5L1031.2,346.6L1030.7,347.4" fill="none" stroke="#c9c9c9" stroke-width="0.9"/>
<circle cx="987.1" cy="322.2" r="231.1" fill="none" stroke="#cccccc" stroke-width="1" stroke-dasharray="4.5,4.5"/>
<circle cx="987.1" cy="322.2" r="173.9" fill="none" stroke="#cccccc" stroke-width="1" stroke-dasharray="4.5,4.5"/>
<circle cx="987.1" cy="322.2" r="124.7" fill="none" stroke="#cccccc" stroke-width="1" stroke-dasharray="4.5,4.5"/>
<circle cx="987.1" cy="322.2" r="80.7" fill="none" stroke="#cccccc" stroke-width="1" stroke-dasharray="4.5,4.5"/>
<circle cx="987.1" cy="322.2" r="39.6" fill="none" stroke="#cccccc" stroke-width="1" stroke-dasharray="4.5,4.5"/>
<line x1="987.1" y1="322.2" x2="768.3" y2="195.8" stroke="#cccccc" stroke-width="1" stroke-dasharray="4.5,4.5"/>
<line x1="947.5" y1="322.2" x2="734.4" y2="322.2" stroke="#cccccc" stroke-width="1" stroke-dasharray="4.5,4.5"/>
<line x1="952.8" y1="342" x2="768.3" y2="448.5" stroke="#cccccc" stroke-width="1" stroke-dasharray="4.5,4.5"/>
<line x1="987.1" y1="322.2" x2="860.8" y2="541" stroke="#cccccc" stroke-width="1" stroke-dasharray="4.5,4.5"/>
<line x1="987.1" y1="361.8" x2="987.1" y2="574.9" stroke="#cccccc" stroke-width="1" stroke-dasharray="4.5,4.5"/>
<line x1="1006.9" y1="356.5" x2="1113.5" y2="541" stroke="#cccccc" stroke-width="1" stroke-dasharray="4.5,4.5"/>
<line x1="987.1" y1="322.2" x2="1205.9" y2="448.6" stroke="#cccccc" stroke-width="1" stroke-dasharray="4.5,4.5"/>
<line x1="1026.7" y1="322.2" x2="1239.8" y2="322.2" stroke="#cccccc" stroke-width="1" stroke-dasharray="4.5,4.5"/>
<line x1="1021.4" y1="302.4" x2="1205.9" y2="195.8" stroke="#cccccc" stroke-width="1" stroke-dasharray="4.5,4.5"/>
<line x1="987.1" y1="322.2" x2="1113.5" y2="103.4" stroke="#cccccc" stroke-width="1" stroke-dasharray="4.5,4.5"/>
<line x1="987.1" y1="282.6" x2="987.1" y2="69.5" stroke="#cccccc" stroke-width="1" stroke-dasharray="4.5,4.5"/>
<line x1="967.3" y1="287.9" x2="860.8" y2="103.4" stroke="#cccccc" stroke-width="1" stroke-dasharray="4.5,4.5"/>
<path d="M997.1,81.9L998.8,83.7M889.1,104.4L886.6,102.2M904.9,102.4L903.6,100.5M923.2,97.9L923,100.3M952.4,100.7L954.1,99.4M1023.7,102.2L1023.5,99.6M1075.5,96.4L1074.9,98.3M1092.9,103.6L1091.7,102.7M867.3,121.2L855.2,115.3M859.6,115.6L855.2,115.3L858.1,118.6M882.5,118.7L872.9,114.3M876.3,114.4L872.9,114.3L875.2,116.8M897.8,116.7L895.1,115.2M911.4,118.6L911.7,116.3M945.4,113.1L945.4,115.7M960.8,118.1L963.8,117M1086.1,115.9L1083.5,117.5M1102.5,116.8L1099.8,114.6M1117.1,117.9L1116.7,115.4M841.6,134L838.1,133.1M858.6,131.9L847.1,131.2M850.7,129.9L847.1,131.2L850.5,132.8M877.7,134.9L864.5,129M869.2,129.1L864.5,129L867.7,132.4M894.6,133.8L882.6,132.5M886.3,131.4L882.6,132.5L886,134.4M910.5,132.2L906.2,130.3M925.6,135.7L922.8,133.4M1003.9,132.2L1005.7,131.6M1024.5,133.2L1022.5,133.4M1073.7,132.1L1075.1,131M1090.2,127.7L1089.6,130.9M1107.4,132.1L1110.3,131.1M1126.6,129.7L1126.3,133.2M1143.3,131.3L1143.5,133.2M832.1,145.7L830.3,145.8M847.7,149.5L842.7,148.8M869.5,146.9L857.7,146.3M861.3,145L857.7,146.3L861.2,148M885.5,149.7L873.3,146M877.4,145.5L873.3,146L876.5,148.6M902.1,148.6L893.2,143.7M896.5,144.1L893.2,143.7L895.3,146.3M917.3,150.6L905.2,145.9M909.4,145.8L905.2,145.9L908.2,148.9M984.5,143.8L982.6,145.6M1085.4,149.3L1083,148.7M1102.7,149.2L1099.7,147.1M1120.2,148.9L1118.4,148.5M1136.1,148.2L1134.6,146.5M1152.7,144.5L1150.4,145.6M843.2,163.9L832.6,162.3M835.9,161.4L832.6,162.3L835.5,164.1M861,161.7L846.7,164.1M850.7,161.6L846.7,164.1L851.3,165.2M875.1,164.6L864.7,164M867.9,162.9L864.7,164L867.7,165.5M891.4,166.8L879.5,160.8M883.8,161.1L879.5,160.8L882.3,164.1M909.7,165L897.3,160.3M901.6,160.1L897.3,160.3L900.4,163.2M924,164.6L920,161.8M985,159.6L987.4,161.5M1024.6,163.1L1024.2,164.4M1044.6,161.8L1042.5,161.5M1057.8,159.6L1057.6,163.1M1096.1,167.3L1087.2,162.1M1090.5,162.6L1087.2,162.1L1089.2,164.8M1110.8,166.6L1106.4,163.6M1131.4,165.1L1126.6,162.4M1146.2,164.4L1142.4,163M1159.2,166.3L1161.1,164.4M1174.9,160.3L1174.6,162.3M832.4,178.2L827.8,179M852.1,180.3L834.9,178.8M840.3,177.1L834.9,178.8L839.9,181.4M871.6,177.3L855.8,179.6M860.3,176.9L855.8,179.6L860.8,180.9M885.7,182.7L872.5,178.4M877,178L872.5,178.4L875.9,181.4M901.1,179.4L888.9,179.1M892.6,177.6L888.9,179.1L892.5,180.7M916.3,179.7L913.8,179.8M943.5,176.5L944.8,176.9M978.5,177.6L979.3,178.7M1013.3,182.9L1015.7,180.6M1035.3,178.9L1033.6,177.7M1046.2,177.7L1049.2,177.6M1087.1,182.4L1083.4,180.4M1106.1,179.7L1095.7,177.4M1099.2,176.8L1095.7,177.4L1098.6,179.4M1119.8,182.5L1110.6,172.3M1114.7,174.2L1110.6,172.3L1112.1,176.5M1138.6,182L1127.6,176.8M1131.6,177L1127.6,176.8L1130.2,179.7M1156.2,184.7L1145,173.9M1149.7,175.7L1145,173.9L1147,178.5M1166.1,181.4L1166.3,178.7M1183.1,178.7L1186.1,177.9M847.6,197.8L828.5,193.4M834.8,192.3L828.5,193.4L833.7,197.1M866.6,194.9L841.6,198.1M848.6,194L841.6,198.1L849.4,200.3M879.2,194.1L863,196.1M867.6,193.4L863,196.1L868.1,197.5M891.6,195.5L880.5,193.4M884.1,192.7L880.5,193.4L883.6,195.4M906.3,193.9L905.1,195.3M922.9,192.5L922.7,196.5M1093.6,198.9L1092.2,195.1M1110.4,202.6L1109.2,190.3M1111.1,193.9L1109.2,190.3L1108,194.2M1133,199.3L1121.6,187.1M1126.6,189.3L1121.6,187.1L1123.5,192.2M1143.6,201.5L1141.1,185.3M1143.9,189.8L1141.1,185.3L1139.8,190.5M1159.7,203.3L1157.4,185M1160.4,190.2L1157.4,185L1155.8,190.8M1176.9,202.1L1174.1,188.6M1176.6,192.3L1174.1,188.6L1173.2,193M1193.4,194.3L1192.8,195.8M853.4,213.6L837,209.7M842.4,208.8L837,209.7L841.4,212.9M873,208.1L852.1,208.9M858.3,206L852.1,208.9L858.5,211.3M884.9,212.7L879.6,211.4M897.6,211.8L897.4,210.2M915.2,204.5L912.8,214.4M912.3,211.1L912.8,214.4L914.7,211.8M981.2,209.6L981.4,211.4M1000.9,214.3L999.9,212.7M1028.7,214.3L1029.9,211.5M1065,215.1L1067.5,203.8M1068.2,207.5L1067.5,203.8L1065.3,206.8M1079.8,222.8L1083.7,201.2M1085.2,208.2L1083.7,201.2L1079.8,207.2M1100.9,216.5L1099.7,201.1M1102,205.5L1099.7,201.1L1098.1,205.8M1113.5,220.8L1117.8,201.1M1119,207.6L1117.8,201.1L1114,206.5M1129.6,223.5L1135,198.9M1136.4,206.9L1135,198.9L1130.3,205.6M1149,222.5L1151.7,200.6M1153.6,207.5L1151.7,200.6L1148.1,206.8M1167,223.5L1167.6,200.2M1170.3,207.2L1167.6,200.2L1164.5,207.1M1185.5,218.7L1183.1,198.8M1186.3,204.5L1183.1,198.8L1181.3,205.1M1199.1,212L1200.4,209.3M843.1,224.9L829.7,223.8M833.8,222.4L829.7,223.8L833.6,225.8M861,229.7L844.4,225.6M849.9,224.7L844.4,225.6L848.8,228.9M876.5,227.2L861.6,225.1M866.3,223.9L861.6,225.1L865.8,227.6M888,230.5L886.2,227.6M901.6,230.1L902.5,227M919.4,219.9L919.6,224.6M990.3,222.6L989.9,225.3M1041.2,221.3L1041.7,223.4M1088.6,238.1L1095.1,214M1096.2,222L1095.1,214L1090.1,220.4M1106.9,236.3L1110.4,213.4M1112.2,220.7L1110.4,213.4L1106.5,219.8M1122.6,237.7L1128.1,217.3M1129,224.1L1128.1,217.3L1123.9,222.8M1134.4,235.3L1147.2,213.2M1146.1,221.3L1147.2,213.2L1140.7,218.1M1160.8,239.3L1160.3,214.4M1163.6,221.8L1160.3,214.4L1157.4,222M1171.5,234.8L1181.4,219.2M1180.4,225.1L1181.4,219.2L1176.5,222.6M1191.6,233.9L1197,221.9M1196.9,226.2L1197,221.9L1193.9,224.8M1213.1,225.5L1209.8,224.6M849.7,241.8L836.5,244.3M840.1,241.9L836.5,244.3L840.7,245.2M868.3,241.7L856.8,238M860.7,237.7L856.8,238L859.8,240.6M877.2,244L880.5,243.3M894.7,244.3L894.2,242.3M913.5,243.4L912.8,240M930.1,238.9L930.5,240.6M946.6,237.7L946.9,240.5M962.5,238.7L962.4,241.2M1080.3,250.9L1088.7,231.5M1088.6,238.4L1088.7,231.5L1083.7,236.3M1097.5,253L1103.2,230.1M1104.3,237.7L1103.2,230.1L1098.6,236.3M1111,252.3L1125.7,232.5M1123.8,240.3L1125.7,232.5L1118.8,236.6M1126.8,253.6L1139.1,233.2M1138,240.8L1139.1,233.2L1132.8,237.7M1148.2,248.4L1153.7,232M1154.1,237.6L1153.7,232L1150,236.2M1163.1,249.2L1170.5,230M1170.7,236.7L1170.5,230L1165.9,234.9M1177.5,247.1L1189.2,234.7M1187.3,239.9L1189.2,234.7L1184.2,237M1197,243.1L1209.7,236.2M1206.8,239.8L1209.7,236.2L1205,236.6M1221.7,242.8L1220.4,241.7M841.5,255.8L830.6,254.7M834,253.7L830.6,254.7L833.7,256.4M856.9,259.9L846.4,258.3M849.7,257.5L846.4,258.3L849.3,260.1M874.8,257.4L869.9,256.6M889.4,256.1L887.9,256.5M904.9,257.7L904.6,256.2M922.1,261.3L923.1,259.1M937.4,252.4L938.1,255.6M957.3,256.5L955.5,258M973.9,260.3L973.3,257M1073.5,260.5L1075.4,255.7M1087.4,261.4L1095.3,249.7M1094.4,254.2L1095.3,249.7L1091.5,252.2M1101.2,264.8L1115.9,249.8M1113.4,256.1L1115.9,249.8L1109.6,252.4M1117.1,265.5L1131.8,247.9M1129.6,255.1L1131.8,247.9L1125.2,251.3M1135,264.2L1153.2,249.6M1149.6,256.2L1153.2,249.6L1145.9,251.7M1147.4,263.4L1168.2,251.5M1163.5,257.7L1168.2,251.5L1160.5,252.4M1168.9,261.1L1185,250M1181.6,255.3L1185,250L1178.8,251.3M1189.3,262.1L1200.7,255.3M1198.2,258.8L1200.7,255.3L1196.5,255.9M1212.7,257.9L1210.5,256.6M850.5,273.1L837.4,274.8M841.1,272.6L837.4,274.8L841.6,276M865.5,273L854.4,276.2M857.3,273.8L854.4,276.2L858.1,276.6M878.4,268L877.4,271.8M895.2,270.2L896,274.2M912.7,268.5L913.2,273.6M929.9,269.9L930.3,274.6M943.6,269.2L946.4,270.9M965.8,268.8L965.5,270.6M979.7,269.5L980,271.2M1076.6,279.2L1087.1,268.2M1085.3,272.8L1087.1,268.2L1082.5,270.2M1094,278.3L1104.8,268.5M1102.8,272.8L1104.8,268.5L1100.3,270.1M1110.4,277.5L1119.5,268.8M1117.9,272.6L1119.5,268.8L1115.7,270.3M1126.3,281.4L1139.3,267.8M1137.1,273.5L1139.3,267.8L1133.7,270.2M1141.9,280.9L1158.9,266.6M1155.6,273.1L1158.9,266.6L1152,268.8M1161.7,280.4L1177,268.8M1173.9,274.2L1177,268.8L1170.9,270.4M1179.2,272.6L1183.7,271.2M1206.4,273.7L1203.7,271.6M1216.6,271.7L1219.9,272.4M841.8,288.5L838.4,289M854.5,286.2L851.4,289.3M869.6,282.1L871.9,295.5M869.5,291.8L871.9,295.5L872.9,291.2M884.8,280.3L888.8,295.4M885.7,291.4L888.8,295.4L889.5,290.4M904.2,283L905.9,297.9M903.5,293.6L905.9,297.9L907.3,293.2M918.1,280.6L924.8,298.7M920.5,294.1L924.8,298.7L925.1,292.4M935.9,280.1L937.7,293.9M935.4,289.9L937.7,293.9L938.9,289.5M954.9,287L954.7,290.3M972.7,286.1L972.4,287.8M1068.7,295.4L1077.3,282.8M1076.3,287.7L1077.3,282.8L1073.1,285.5M1087.5,291.6L1097.5,281.9M1095.8,286.1L1097.5,281.9L1093.3,283.6M1102.8,293.2L1112.6,281.9M1111.1,286.6L1112.6,281.9L1108.3,284.1M1121.5,289.8L1131.2,283.5M1129.1,286.6L1131.2,283.5L1127.5,284.2M1137.1,294.2L1149.8,281.2M1147.6,286.7L1149.8,281.2L1144.4,283.5M1152.7,290.8L1164.8,282.3M1162.2,286.4L1164.8,282.3L1160.1,283.3M1169.9,292.7L1186.2,286.8M1182,290.6L1186.2,286.8L1180.5,286.5M1189.1,289L1200.2,287M1197.1,289L1200.2,287L1196.6,286.2M1206,288.9L1215.1,284.3M1212.9,286.8L1215.1,284.3L1211.7,284.5M1226.2,288.8L1228.2,286.8M846.9,303L845.9,305.9M859.9,299.2L859.9,312.1M858.3,308.3L859.9,312.1L861.6,308.3M875.8,296.9L882.7,310.1M878.9,307L882.7,310.1L882.3,305.2M893.8,295.9L899.6,315.5M895.4,310.3L899.6,315.5L900.3,308.9M910.9,295.2L914.4,311.8M911.3,307.3L914.4,311.8L915.4,306.4M927.9,293.7L932.5,314.1M928.6,308.5L932.5,314.1L933.7,307.4M947.8,298.8L948.8,303.6M964.1,299L964.3,302.7M1080,311.4L1085.3,299.7M1085.2,303.8L1085.3,299.7L1082.2,302.5M1096.1,310.7L1102.8,298.8M1102.3,303.2L1102.8,298.8L1099.3,301.5M1113.6,309.1L1123.5,302.4M1121.3,305.7L1123.5,302.4L1119.7,303.2M1131.1,307.8L1135.8,305.2M1142.7,308.9L1157.6,298.1M1154.5,303.2L1157.6,298.1L1151.7,299.5M1160.9,307.3L1174.4,300M1171.3,303.9L1174.4,300L1169.4,300.5M1180.2,307.7L1192.2,298.6M1189.7,302.8L1192.2,298.6L1187.4,299.8M1195.4,308.7L1209.2,302.1M1205.9,305.8L1209.2,302.1L1204.2,302.4M1213.9,308.2L1225.7,303.3M1222.8,306.2L1225.7,303.3L1221.6,303.3M833,319.4L834.5,319.2M852.7,315.6L852.1,318.3M869.3,314.9L871.3,326.4M869.3,323.2L871.3,326.4L872.2,322.7M882.6,313.9L889.8,325.2M886.2,322.7L889.8,325.2L889.1,320.9M901.8,313.8L905.5,328M902.6,324.3L905.5,328L906.2,323.3M916.7,311.2L923,325.5M919.3,322L923,325.5L922.9,320.4M935,311.9L940.9,324.6M937.5,321.5L940.9,324.6L940.7,320M954.5,317.8L956,321M973,318.6L973.4,320.4M1072.7,322.3L1074.7,320.3M1087.3,322.4L1089.6,320M1106.2,321.6L1108.8,319.1M1127.4,316.9L1126.1,319.6M1145,322.1L1144.3,320.2M1152.7,319.9L1158,318.4M1170,324.5L1181.3,317.9M1178.7,321.3L1181.3,317.9L1177,318.5M1188.7,321.8L1202.1,319.1M1198.4,321.6L1202.1,319.1L1197.7,318.2M1203.1,318.9L1219.3,316.9M1214.7,319.6L1219.3,316.9L1214.2,315.5M1226,322.2L1229.2,321.4M832.1,334.9L829.7,337.2M844.4,335.2L846,336.3M859.9,333.7L861.8,336.6M877.8,329.1L881.9,342.7M879,339.1L881.9,342.7L882.4,338.1M892.3,329.5L902.2,343.8M897.4,340.8L902.2,343.8L901,338.3M909.1,324.9L917.7,342.7M912.9,338.4L917.7,342.7L917.3,336.3M925.9,326.3L933.6,346.7M928.7,341.6L933.6,346.7L933.8,339.6M946.7,328.1L950.9,340.6M948.1,337.4L950.9,340.6L951.2,336.3M962.3,332.4L963.8,336.3M978.6,330.8L979.3,333M996.7,334L998.5,337M1012.1,334.9L1012.7,336.6M1067.5,339.9L1065.7,337M1081.5,336.1L1084.1,334.3M1102.3,337.9L1101.8,336.2M1113.3,332.2L1114.5,333.5M1134.4,331.6L1135.1,332.9M1152.8,337.4L1151.7,336.4M1168.7,337.8L1169.1,336.1M1181.4,338.6L1184.5,337.3M1196.3,338L1205.7,333.6M1203.5,336.1L1205.7,333.6L1202.4,333.7M1220.9,338.6L1219.2,336.6M837.9,351.4L834.8,352.7M852.8,351.6L852.1,349.5M868.6,346L872.6,357.5M869.9,354.5L872.6,357.5L872.8,353.5M884.6,345.4L891.3,359.2M887.6,355.9L891.3,359.2L891.1,354.2M896.7,340.5L908.4,359.1M902.5,355L908.4,359.1L907.2,352.1M916.9,343.3L925.8,358.8M921.2,355.2L925.8,358.8L925.1,353M937.3,341.7L942.9,356.4M939.4,352.7L942.9,356.4L943.1,351.3M952.8,345.8L957.1,355.9M954.5,353.4L957.1,355.9L957.1,352.3M971.2,347.6L973.4,350.6M987.1,347.2L988.2,350.4M1006.7,350.5L1007.4,352.1M1023,352.8L1024.3,350M1041.8,346.9L1041.7,348.6M1059.8,351.3L1057.9,351.3M1075.4,350.6L1073.2,351.5M1089,351.6L1091.3,350M1112.6,349.3L1110.2,349.2M1127.5,349.5L1126.5,351.1M1146.8,350.2L1144.5,351.8M1160.2,352.6L1158.9,349.6M1175.3,354.8L1177,352M1192.6,353.6L1192.4,352.1M1206.9,350.6L1210.3,351.2M1229.4,346.5L1228.9,349.8M848,366.5L845,367.5M862.7,363.9L860.3,365M875.3,362.3L879.7,372.8M877,370.2L879.7,372.8L879.7,369.1M892.5,354.6L901.2,376.3M895.8,370.9L901.2,376.3L901.3,368.7M910,360.4L919.5,375.4M914.8,372.1L919.5,375.4L918.6,369.7M924.1,356.7L934,376M928.6,371.4L934,376L933.5,368.9M946.2,359.3L948,376.5M945.3,371.6L948,376.5L949.6,371.1M962.4,362.1L966.1,371.5M963.8,369.2L966.1,371.5L966.2,368.2M979.1,363.7L979.6,366.1M998.3,363.8L999.3,365.2M1015.1,362.5L1015.6,365.9M1034.4,368L1032.4,366.8M1052.1,364.8L1050.1,367.1M1065.1,367.9L1065.4,365.8M1084.4,369L1081.5,367.6M1098.3,369.5L1099.1,366.4M1115.7,365L1118.2,364.8M1133.6,368.3L1134.5,366.6M1146.5,368.7L1149.9,368.2M1165.3,367L1168.9,366.4M1178.7,370.9L1194.4,365.5M1190.3,369.1L1194.4,365.5L1189,365.1M1194.4,370.6L1212.5,364.9M1207.8,368.8L1212.5,364.9L1206.3,364.3M1210.9,372.1L1224.2,364.4M1221.2,368.4L1224.2,364.4L1219.3,365M839.5,381.8L836.9,383.6M851.1,383.3L854.4,383.4M869.7,387.2L871.1,384.1M886,378.4L887.6,382.6M903.8,372.9L908.9,388M905.5,384.1L908.9,388L909.3,382.9M920.9,372.2L922.3,390.1M919.6,384.9L922.3,390.1L924.1,384.6M933.2,372.5L941.1,389.1M936.7,385.1L941.1,389.1L940.8,383.1M952.6,373.1L955.1,391.9M952,386.6L955.1,391.9L956.7,385.9M971,376.3L971.2,381.6M987.9,378.8L988.9,379.9M1007.1,380.5L1008.2,383.8M1022.3,379.8L1022.1,381.5M1037.7,381.9L1039.2,382.5M1058.6,378.1L1058.7,380.7M1070.6,382.9L1073.4,383M1088.6,381.8L1090.4,382.2M1101.6,381L1115.5,385.5M1110.8,385.9L1115.5,385.5L1111.9,382.4M1118.7,382.5L1134,382.9M1129.3,384.7L1134,382.9L1129.5,380.9M1135.4,382.9L1150.1,383.7M1145.6,385.3L1150.1,383.7L1145.8,381.6M1150.1,380.8L1165.2,380.7M1160.7,382.6L1165.2,380.7L1160.6,378.9M1166.1,388.4L1185.5,380M1180.8,385L1185.5,380L1178.7,380.1M1185.2,386L1199.6,376.8M1196.4,381.3L1199.6,376.8L1194.1,377.7M1202.8,389.9L1220.6,377.7M1216.8,383.6L1220.6,377.7L1213.8,379.2M1220.4,386.5L1231.2,379.8M1228.8,383.2L1231.2,379.8L1227.1,380.4M845,393.7L844.7,395.2M864.2,399.3L863.9,397.8M880.4,400.2L879.8,398.6M899.6,402.5L897.9,400M908.4,393.7L913.7,403.3M910.9,401.1L913.7,403.3L913.3,399.7M929.1,392.1L929,404.4M927.5,400.7L929,404.4L930.6,400.8M944.2,390.3L952.5,407.7M947.8,403.6L952.5,407.7L952.2,401.5M960.2,388.5L964.7,404.6M961.3,400.3L964.7,404.6L965.4,399.2M980.4,396.9L982,398.1M998.1,398L998.8,396.7M1017.4,401L1017,399.7M1035.9,397.6L1033.8,398M1047.5,395.2L1047.5,397M1065.4,401.7L1064.6,398.5M1080.8,397.8L1083.9,398.8M1095.9,395.3L1107.6,397.1M1103.9,398L1107.6,397.1L1104.3,395.1M1111.5,394.3L1123.4,397.8M1119.3,398.2L1123.4,397.8L1120.2,395.2M1127.6,396.5L1139.5,396.1M1136,397.7L1139.5,396.1L1135.8,394.7M1142.9,398.1L1155.5,396.4M1152,398.5L1155.5,396.4L1151.5,395.3M1159.5,397.2L1174.2,397.5M1169.7,399.3L1174.2,397.5L1169.8,395.6M1175.2,398.5L1197,394.7M1191,398.6L1197,394.7L1190,393.1M1194.8,400.6L1212.1,396.6M1207.4,400L1212.1,396.6L1206.4,395.6M1209.3,400.1L1224.9,394M1221,397.8L1224.9,394L1219.5,393.9M849.3,415.7L851.9,414.8M873,413.8L870.7,413M891.2,413.1L888.1,414M901.4,411.4L903.9,412.4M922.3,413.1L921,413.1M934.4,406.8L939,417.3M936.3,414.7L939,417.3L938.9,413.6M953.9,411.6L956.1,415.4M973.7,418.2L974.4,414.8M987.9,412.4L987.5,414.9M1009.4,412.2L1007.4,413.2M1023.4,413.2L1022.2,414.1M1041,414.1L1041.8,412.4M1055.3,411.3L1057,412.2M1071.5,411.7L1073.3,411.6M1095.8,414.2L1092.9,415.5M1105.7,415L1110.5,415.3M1117.4,410.8L1131.1,414M1126.6,414.8L1131.1,414L1127.4,411.3M1134.3,413.2L1148.7,412.7M1144.4,414.7L1148.7,412.7L1144.3,411M1152.7,414.6L1163.9,412.2M1160.9,414.4L1163.9,412.2L1160.3,411.5M1167.9,417.2L1182.9,412.5M1179,415.8L1182.9,412.5L1177.8,412M1184.2,414.6L1202.5,410.3M1197.5,413.9L1202.5,410.3L1196.5,409.3M1200.6,417.2L1222.3,412.1M1216.5,416.4L1222.3,412.1L1215.2,410.9M841.5,427.4L843.9,428.2M859.7,433.5L860.5,430.2M894.4,432.3L894.4,430.4M916.4,431.2L913.7,429.1M926.3,425L928.1,428.6M941,423L951.4,432.4M947.1,430.9L951.4,432.4L949.4,428.3M962.7,425.5L965.1,429.6M974.6,426.9L979.2,429.4M996.7,427.9L998.3,428.8M1011.7,429.1L1014,427.4M1028.3,426.5L1030,427.1M1043.2,428.1L1052.8,432.5M1049.4,432.4L1052.8,432.5L1050.5,430M1060.9,430.4L1066.3,430.7M1077.6,429.9L1081.2,430.8M1095.1,430L1097.8,430.9M1113.2,430.7L1117.5,431.2M1126.2,427.8L1141.3,427.6M1136.8,429.6L1141.3,427.6L1136.7,425.8M1146.2,429.8L1158.8,432.4M1154.7,433.2L1158.8,432.4L1155.4,430.1M1165.9,428.1L1169.5,427.6M1184.9,426.3L1183.7,427.5M1194.8,432.1L1207.9,426.8M1204.7,430L1207.9,426.8L1203.3,426.7M855.4,442.1L854.5,444.2M907.8,445.3L906.4,444.3M921.5,444.3L923,446.7M932.7,442.4L940.8,450.1M937.4,448.8L940.8,450.1L939.4,446.8M948.5,441.4L958.6,449.3M954.6,448.2L958.6,449.3L956.6,445.6M968.4,440.5L979.6,447M975.4,446.4L979.6,447L977.1,443.6M985.6,440.5L995.9,446.9M992,446.3L995.9,446.9L993.6,443.7M1003.2,443.2L1006.6,445.1M1020.4,443.7L1022.3,444.5M1036.6,441.2L1045.6,445.7M1042.3,445.4L1045.6,445.7L1043.4,443.2M1052.2,444L1065,447.9M1060.7,448.3L1065,447.9L1061.7,445.1M1071.1,444L1075.2,444.9M1086.7,444.1L1098.1,445.8M1094.5,446.7L1098.1,445.8L1094.9,443.8M1104.5,446L1106.3,446.1M1124.8,446.2L1126.6,446.5M1137.4,443.6L1141.3,443.7M1156.8,442.7L1158.9,442.9M1174.4,441.3L1175.6,444.4M863.6,456.8L862.9,459.2M875.7,460.1L877.5,459.4M897.6,458.9L897.5,462.3M912,457.5L911.9,459.1M929.1,458L931.1,459.9M942.4,458.7L946.9,461.9M961,458.2L964.2,460.5M977.6,455.8L986.7,461.8M983.2,461.2L986.7,461.8L984.7,458.9M993.1,456.6L1002.8,464.2M999,463.1L1002.8,464.2L1000.9,460.7M1009.8,456.5L1017.6,463.4M1014.4,462.3L1017.6,463.4L1016.1,460.4M1028.9,459L1033.3,460.5M1044.5,461.6L1048.8,462.1M1062.2,460L1066.3,460.1M1075.8,459.5L1086.8,463.4M1083,463.6L1086.8,463.4L1084,460.8M1094.9,460.6L1099.1,460.9M1116.6,464L1116.6,462M1136.5,460.6L1135.1,460.5M868.8,475.4L871.9,476.6M891.4,477.4L889,475.9M904.7,479.9L904.2,476.5M919.7,473.1L920.2,476.4M934.4,476L937.7,475.7M953.7,473L955.4,474.7M970.8,474.8L972.8,476.1M984.3,469.9L992.8,478.5M989.1,477L992.8,478.5L991.3,474.9M1002.9,473.7L1006.4,476.7M1020.8,473.6L1023.6,475.4M1035.4,474.5L1039.3,476M1051.4,474.7L1055.7,475.8M1072.1,477.1L1075.5,477.5M1088.4,473.7L1091.5,474.5M1107.8,474.5L1109.1,474.7M877.8,486.6L877.8,489.9M894.6,489L895.5,491.3M949.9,489.7L948.6,489.9M966.3,496.4L965.5,494M981.8,490.3L982.1,493.7M994,490.5L995.9,492.3M1011.8,495.1L1014.9,493.8M1028.2,491.4L1029.7,492.4M1046.6,492.8L1050.2,493.5M1062.2,490.8L1064.7,492.1M900.9,505.9L903,505.8M935.5,507.5L938.2,507.7M955.3,506L956.9,509M974.9,509.5L973.5,508M1003.1,503.4L1005.2,505.9M901.6,496.7L942.4,496.7M934.9,499.8L942.4,496.7L934.9,493.6M891,443L871,446M876.6,442.6L871,446L877.4,447.6" stroke="#000" stroke-width="1.85" fill="none" stroke-linecap="round" stroke-linejoin="round"/>
<path d="M1000.9,86.1L997.3,85L1000.2,82.5ZM884.2,100L887.9,100.8L885.4,103.6ZM901.7,98L905.1,99.4L902,101.7ZM922.7,103.5L921.1,100.1L924.9,100.5ZM956.6,97.4L955.2,100.9L952.9,97.9ZM1023.3,96.4L1025.4,99.5L1021.6,99.8ZM1073.9,101.4L1073.1,97.7L1076.7,98.9ZM1089.3,100.6L1092.9,101.2L1090.5,104.1ZM892.3,113.6L896,113.5L894.1,116.8ZM912.2,113.1L913.6,116.6L909.9,116ZM945.5,118.9L943.5,115.8L947.3,115.7ZM966.9,116L964.4,118.8L963.2,115.2ZM1080.8,119.2L1082.5,115.9L1084.5,119.1ZM1097.1,112.4L1101,113.1L1098.6,116.1ZM1116.1,112.3L1118.5,115.1L1114.8,115.7ZM834.7,132.2L838.6,131.3L837.6,134.9ZM902,128.5L906.9,128.5L905.4,132ZM920.1,131.2L924,132L921.6,134.9ZM1008.8,130.5L1006.3,133.4L1005.1,129.8ZM1019.3,133.7L1022.3,131.5L1022.7,135.3ZM1077.6,129.1L1076.2,132.6L1073.9,129.5ZM1089.1,134.1L1087.7,130.6L1091.5,131.2ZM1113.4,130.1L1110.9,132.9L1109.7,129.3ZM1126,136.6L1124.4,133L1128.2,133.3ZM1143.9,136.4L1141.6,133.4L1145.4,132.9ZM827.1,146L830.2,143.9L830.4,147.7ZM838.2,148.2L842.9,146.9L842.4,150.7ZM980.3,147.9L981.3,144.3L983.9,147ZM1079.9,148L1083.4,146.9L1082.6,150.6ZM1096.6,145.1L1100.7,145.5L1098.6,148.7ZM1115.3,147.7L1118.8,146.6L1117.9,150.3ZM1132.5,144.2L1136,145.3L1133.2,147.8ZM1147.5,147L1149.5,143.9L1151.2,147.3ZM916.4,159.1L921.1,160.2L918.9,163.3ZM989.9,163.5L986.2,163L988.6,160ZM1023.1,167.4L1022.4,163.8L1026,165.1ZM1039.4,161L1042.8,159.6L1042.3,163.4ZM1057.5,166.5L1055.7,163L1059.5,163.1ZM1102.7,161L1107.5,162L1105.3,165.1ZM1122.7,160.2L1127.5,160.8L1125.7,164.1ZM1138.6,161.5L1143.1,161.2L1141.7,164.8ZM1163.4,162.2L1162.4,165.8L1159.8,163.1ZM1174.1,165.5L1172.7,162L1176.4,162.6ZM823.4,179.7L827.5,177.1L828.1,180.8ZM910.6,180L913.7,177.9L913.9,181.7ZM947.9,177.9L944.3,178.7L945.4,175.1ZM981.2,181.3L977.8,179.9L980.9,177.6ZM1018.1,178.4L1017,182L1014.4,179.2ZM1031.1,175.7L1034.8,176.1L1032.5,179.2ZM1052.4,177.6L1049.3,179.5L1049.2,175.8ZM1079.8,178.3L1084.4,178.7L1082.5,182ZM1166.7,175.5L1168.2,178.9L1164.4,178.5ZM1189.2,177.1L1186.6,179.7L1185.6,176.1ZM903.1,197.7L903.6,194.1L906.6,196.5ZM922.6,200.5L920.8,196.4L924.6,196.6ZM1090.7,191.4L1093.9,194.5L1090.4,195.8ZM1191.6,198.8L1191.1,195.1L1194.6,196.5ZM875.2,210.4L880,209.6L879.1,213.3ZM897,207L899.3,209.9L895.5,210.4ZM981.6,214.5L979.5,211.5L983.3,211.2ZM998.3,210L1001.6,211.8L998.3,213.7ZM1031.1,208.6L1031.6,212.2L1028.1,210.8ZM1201.8,206.4L1202.1,210.1L1198.7,208.4ZM884.5,224.8L887.8,226.6L884.6,228.6ZM903.5,223.9L904.3,227.6L900.7,226.4ZM919.7,229.1L917.7,224.7L921.5,224.5ZM989.5,228.5L988,225.1L991.8,225.6ZM1042.5,226.5L1039.9,223.9L1043.5,222.9ZM1206.6,223.6L1210.4,222.8L1209.3,226.4ZM883.7,242.6L880.9,245.1L880.1,241.4ZM893.4,239.2L896.1,241.8L892.4,242.8ZM912.2,236.6L914.7,239.6L911,240.3ZM931.2,243.7L928.6,241.1L932.3,240.2ZM947.2,243.7L945,240.7L948.8,240.4ZM962.3,244.4L960.5,241.1L964.3,241.2ZM1218,239.6L1221.6,240.3L1219.2,243.2ZM865.4,255.9L870.2,254.7L869.6,258.5ZM884.8,257.3L887.4,254.6L888.4,258.3ZM904,253.1L906.5,255.9L902.8,256.6ZM924.4,256.2L924.8,259.9L921.4,258.3ZM938.9,258.8L936.3,256L940,255.1ZM953,260.1L954.3,256.6L956.7,259.5ZM972.7,253.6L975.1,256.6L971.4,257.3ZM1077,251.6L1077.1,256.4L1073.6,255.1ZM1207.8,254.9L1211.5,255L1209.5,258.2ZM876.4,275.7L875.6,271.3L879.3,272.3ZM896.8,278.3L894.1,274.6L897.8,273.9ZM913.7,278L911.3,273.8L915.1,273.4ZM930.7,279L928.4,274.7L932.2,274.4ZM949.2,272.6L945.4,272.6L947.4,269.3ZM965,273.7L963.6,270.3L967.4,270.9ZM980.7,274.4L978.2,271.6L981.9,270.8ZM1188,269.8L1184.2,273L1183.1,269.4ZM1201,269.5L1204.9,270.1L1202.5,273.1ZM1223.3,273.2L1219.5,274.3L1220.3,270.6ZM835,289.4L838.1,287.1L838.6,290.8ZM848.4,292.4L850.1,288L852.8,290.6ZM954.6,293.7L952.8,290.3L956.6,290.4ZM971.9,291L970.5,287.5L974.3,288.2ZM1230.4,284.5L1229.5,288.1L1226.8,285.5ZM844.9,308.9L844.1,305.3L847.7,306.5ZM949.7,308L946.9,304L950.6,303.2ZM964.5,306.5L962.4,302.8L966.2,302.6ZM1139.7,303L1136.7,306.9L1134.9,303.5ZM837.7,318.9L834.7,321.1L834.3,317.3ZM851.3,321.4L850.2,317.8L853.9,318.7ZM957.5,324.3L954.3,321.8L957.7,320.2ZM974.1,323.5L971.5,320.8L975.2,319.9ZM1077,318.1L1076,321.7L1073.4,319ZM1091.8,317.6L1090.9,321.3L1088.2,318.7ZM1111.4,316.7L1110.1,320.5L1107.5,317.7ZM1124.8,322.5L1124.4,318.8L1127.9,320.4ZM1143.3,317.2L1146.1,319.6L1142.5,320.8ZM1162.3,317.2L1158.5,320.3L1157.5,316.6ZM1232.4,320.7L1229.6,323.3L1228.8,319.6ZM827.3,339.5L828.4,335.8L831,338.5ZM848.7,338.1L844.9,337.9L847.1,334.8ZM863.7,339.6L860.2,337.7L863.4,335.6ZM965.2,340.1L962,336.9L965.5,335.6ZM980.4,336L977.5,333.6L981.2,332.4ZM1000.3,340L996.9,338L1000.1,336ZM1013.9,339.6L1011,337.3L1014.5,335.9ZM1063.9,334L1067.3,336L1064.1,338ZM1086.8,332.6L1085.2,335.9L1083.1,332.7ZM1101,333.1L1103.7,335.7L1100,336.7ZM1116.7,335.9L1113.1,334.8L1115.9,332.3ZM1136.7,335.7L1133.5,333.8L1136.8,332ZM1149.3,334.3L1153,335L1150.5,337.8ZM1169.8,333L1171,336.5L1167.2,335.7ZM1187.5,336L1185.2,339.1L1183.7,335.5ZM1217.3,334.1L1220.7,335.4L1217.8,337.8ZM831.7,354L834.1,350.9L835.6,354.4ZM851.2,346.4L853.9,348.9L850.3,350ZM975.6,353.6L971.9,351.7L974.9,349.5ZM989.3,353.7L986.4,351L990,349.8ZM1008.7,355L1005.7,352.9L1009.1,351.3ZM1025.7,347.1L1026.1,350.8L1022.6,349.2ZM1041.6,351.8L1039.8,348.6L1043.6,348.7ZM1054.7,351.3L1058,349.4L1057.9,353.2ZM1070.2,352.7L1072.4,349.7L1073.9,353.2ZM1093.9,348.3L1092.3,351.6L1090.2,348.5ZM1107,349L1110.3,347.3L1110.1,351.1ZM1124.9,353.9L1124.9,350.2L1128.2,352.1ZM1141.9,353.6L1143.4,350.2L1145.6,353.4ZM1157.7,346.7L1160.7,348.9L1157.2,350.4ZM1178.7,349.2L1178.6,353L1175.4,351ZM1191.9,348.9L1194.3,351.8L1190.5,352.3ZM1213.7,351.7L1210,353L1210.6,349.3ZM1228.4,353.1L1227,349.5L1230.8,350.1ZM842,368.4L844.5,365.6L845.6,369.3ZM857.4,366.3L859.5,363.2L861.1,366.7ZM980.3,369.2L977.7,366.5L981.5,365.7ZM1001.3,367.8L997.8,366.4L1000.9,364.1ZM1016.1,369.3L1013.7,366.2L1017.5,365.6ZM1029.6,365.2L1033.3,365.1L1031.4,368.4ZM1048.1,369.5L1048.7,365.9L1051.6,368.3ZM1066,362.6L1067.3,366.1L1063.6,365.5ZM1078.5,366.3L1082.3,365.9L1080.7,369.4ZM1099.9,363.2L1100.9,366.8L1097.2,365.9ZM1121.4,364.5L1118.3,366.7L1118,362.9ZM1135.9,363.7L1136.2,367.4L1132.8,365.7ZM1153.2,367.6L1150.2,370L1149.5,366.3ZM1172.5,365.8L1169.2,368.3L1168.6,364.5ZM834.3,385.5L835.8,382.1L838,385.2ZM857.7,383.5L854.3,385.3L854.5,381.5ZM872.5,381.1L872.8,384.9L869.4,383.3ZM889.2,386.8L885.8,383.3L889.4,382ZM971.3,386.1L969.3,381.7L973.1,381.6ZM990.9,382.4L987.4,381.1L990.3,378.7ZM1009.2,387.1L1006.3,384.4L1010,383.2ZM1021.5,384.6L1020.2,381.2L1023.9,381.8ZM1042.2,383.6L1038.5,384.3L1039.8,380.7ZM1058.7,383.9L1056.8,380.7L1060.6,380.6ZM1076.5,383.2L1073.2,384.9L1073.5,381.1ZM1093.6,382.8L1090.1,384L1090.8,380.3ZM844,398.3L842.9,394.7L846.6,395.6ZM863.1,394.7L865.7,397.4L862,398.3ZM878.6,395.6L881.6,397.9L878,399.3ZM896.1,397.3L899.5,398.9L896.3,401ZM984.5,400L980.8,399.6L983.2,396.6ZM1000.4,393.9L1000.5,397.6L997.2,395.8ZM1016.1,396.7L1018.8,399.2L1015.2,400.3ZM1030.7,398.7L1033.4,396.2L1034.2,399.9ZM1047.4,400.2L1045.6,397L1049.4,397ZM1063.8,395.3L1066.4,398.1L1062.7,399ZM1087,399.9L1083.3,400.6L1084.5,397ZM854.9,413.7L852.6,416.6L851.3,413ZM867.8,411.8L871.4,411.2L870.1,414.8ZM885.1,415L887.6,412.2L888.7,415.9ZM906.9,413.6L903.2,414.2L904.6,410.6ZM917.8,413.2L920.9,411.2L921,415ZM958.3,419.1L954.5,416.4L957.8,414.4ZM975,411.5L976.2,415.2L972.5,414.5ZM987.1,418L985.6,414.6L989.4,415.1ZM1004.6,414.7L1006.6,411.5L1008.3,414.9ZM1019.6,416L1021,412.6L1023.3,415.6ZM1043.2,409.6L1043.5,413.3L1040.1,411.6ZM1059.9,413.5L1056.2,413.9L1057.8,410.4ZM1076.5,411.5L1073.4,413.5L1073.3,409.7ZM1090,416.8L1092.1,413.8L1093.7,417.2ZM1115,415.7L1110.4,417.2L1110.7,413.4ZM846.9,429.4L843.2,430L844.6,426.5ZM861.3,427L862.3,430.7L858.6,429.8ZM894.4,427.2L896.3,430.5L892.5,430.4ZM911,427L914.8,427.6L912.5,430.6ZM929.9,432.1L926.4,429.4L929.8,427.7ZM967.4,433.5L963.5,430.6L966.8,428.7ZM983.2,431.6L978.3,431.1L980.1,427.8ZM1001.1,430.4L997.3,430.5L999.3,427.2ZM1016.6,425.5L1015.2,428.9L1012.9,425.9ZM1033,428.3L1029.3,428.9L1030.7,425.4ZM1070.8,430.9L1066.3,432.6L1066.4,428.8ZM1084.8,431.8L1080.7,432.7L1081.7,429ZM1100.9,431.8L1097.2,432.7L1098.4,429.1ZM1121.9,431.7L1117.3,433.1L1117.8,429.3ZM1173.1,427.2L1169.8,429.5L1169.3,425.7ZM1181.5,429.8L1182.4,426.2L1185.1,428.9ZM853.3,447.1L852.8,443.4L856.3,444.9ZM903.8,442.5L907.5,442.8L905.4,445.9ZM924.8,449.4L921.4,447.8L924.6,445.7ZM1009.9,447.1L1005.6,446.8L1007.5,443.5ZM1025.2,445.9L1021.5,446.3L1023.1,442.8ZM1079.4,445.8L1074.8,446.7L1075.7,443ZM1109.5,446.1L1106.2,448L1106.3,444.2ZM1129.7,446.8L1126.3,448.3L1126.8,444.6ZM1145.1,443.8L1141.2,445.6L1141.3,441.8ZM1162.1,443.2L1158.7,444.8L1159.1,441ZM1176.9,447.5L1173.9,445.1L1177.4,443.7ZM862.1,462.2L861.1,458.6L864.8,459.7ZM880.5,458.2L878.2,461.1L876.8,457.6ZM897.4,465.6L895.6,462.2L899.4,462.3ZM911.9,462.3L910,459.1L913.8,459.2ZM933.5,462L929.9,461.3L932.4,458.5ZM950.5,464.5L945.8,463.4L948,460.3ZM967.4,462.7L963.2,462L965.3,458.9ZM1037.6,461.9L1032.7,462.3L1034,458.7ZM1053.1,462.6L1048.6,464L1049,460.2ZM1070.3,460.2L1066.2,462L1066.3,458.2ZM1103.3,461.2L1099,462.8L1099.2,459ZM1116.7,458.8L1118.5,462L1114.7,462ZM1131.9,460.3L1135.2,458.6L1135,462.4ZM875.1,477.8L871.3,478.4L872.6,474.8ZM886.3,474.1L890.1,474.3L888,477.5ZM903.8,473.1L906.1,476.3L902.3,476.8ZM920.7,479.6L918.3,476.7L922.1,476.1ZM940.9,475.5L937.8,477.6L937.5,473.8ZM957.7,477L954.1,476.1L956.7,473.4ZM975.5,477.8L971.8,477.7L973.8,474.5ZM1009.8,479.6L1005.2,478.2L1007.6,475.2ZM1026.5,477.2L1022.6,477L1024.6,473.8ZM1043.2,477.4L1038.6,477.8L1040,474.2ZM1060.1,476.8L1055.3,477.6L1056.2,473.9ZM1078.9,477.8L1075.3,479.3L1075.7,475.6ZM1094.6,475.3L1091.1,476.4L1092,472.7ZM1112.3,475.1L1108.9,476.6L1109.4,472.8ZM877.8,493.2L875.9,489.9L879.7,489.9ZM896.6,494.3L893.7,492L897.2,490.7ZM945.5,490.4L948.3,488L948.9,491.7ZM964.4,491L967.3,493.4L963.7,494.6ZM982.4,497.1L980.2,493.9L984,493.5ZM998.3,494.4L994.6,493.7L997.2,490.9ZM1018,492.4L1015.6,495.5L1014.1,492ZM1032.3,494.3L1028.6,494L1030.8,490.9ZM1053.8,494.2L1049.9,495.4L1050.6,491.7ZM1067.5,493.6L1063.8,493.8L1065.5,490.4ZM906.2,505.8L903.1,507.7L903,503.9ZM941.4,507.9L938.1,509.6L938.4,505.8ZM958.5,511.9L955.2,509.9L958.6,508.1ZM971.4,505.6L974.9,506.7L972.1,509.2ZM1007.3,508.5L1003.7,507.1L1006.7,504.7Z" fill="#000" stroke="#000" stroke-width="0.9" stroke-linejoin="round"/>
</g>
<circle cx="987.1" cy="322.2" r="252.7" fill="none" stroke="#111" stroke-width="1.4"/>
</g>
<text x="965.4" y="66.5" class="lb">60W</text>
<text x="813.4" y="102" class="lb">30W</text>
<text x="1116.5" y="102" class="lb">90W</text>
<text x="749.1" y="198.2" class="lb">0</text>
<text x="1211.5" y="198" class="lb">120W</text>
<text x="688.9" y="330" class="lb">30E</text>
<text x="1248" y="329.2" class="lb">150W</text>
<text x="724.4" y="460.4" class="lb">60E</text>
<text x="1211.5" y="461" class="lb">180</text>
<text x="820.8" y="556.8" class="lb">90E</text>
<text x="1116.5" y="557" class="lb">150E</text>
<text x="964" y="592" class="lb">120E</text>
<rect x="1251.2" y="346.9" width="36" height="31" fill="#fff" stroke="#222" stroke-width="1.2"/>
<line x1="1251.2" y1="368.2" x2="1286.7" y2="368.2" stroke="#111" stroke-width="1.3"/>
<path d="M1278.7,364.7 L1286.7,368.2 L1278.7,371.7" fill="none" stroke="#111" stroke-width="1.3"/>
<text x="1267.7" y="360.7" class="lg">1</text>
<g>
<clipPath id="clipC"><circle cx="299.4" cy="905.1" r="252.7"/></clipPath>
<g clip-path="url(#clipC)">
<path d="M177,978.1C174.8,974.1 174.2,968.5 175.3,964.5C176.4,960.5 179.6,957.2 183.8,954.4C188,951.6 195.1,950 200.7,947.7C206.3,945.5 212.4,943.7 217.5,940.9C222.6,938.1 227.1,933.3 231,930.8C234.9,928.3 238.9,928 241.2,925.7C243.4,923.5 244.8,920.9 244.5,917.3C244.2,913.6 242,908.9 239.5,903.8C237,898.7 232.2,892.5 229.4,886.9C226.6,881.3 225.4,873 222.6,870C219.8,867 216.4,872 212.7,868.9C209,865.8 203.2,857.9 200.6,851.3C198,844.7 197.3,836.6 197.3,829.2C197.3,821.8 198.6,814.1 200.6,807.1C202.6,800.1 205.6,792.7 209.4,787.2C213.2,781.7 218,777.5 223.7,774C229.4,770.5 237,767.8 243.6,766.3C250.2,764.8 256.9,764.5 263.5,765.2C270.1,765.9 277.8,768.5 283.3,770.7C288.8,772.9 291.8,777.6 296.6,778.4C301.4,779.2 305.9,776.6 312.1,775.4C318.4,774.2 324.9,771.9 334.1,771C343.3,770.1 358,769.7 367.2,769.9C376.4,770.1 382.3,770.4 389.3,772.1C396.3,773.8 404.1,776 409.2,779.9C414.3,783.8 418,789.4 420.2,795.3C422.4,801.2 422.4,809 422.4,815.2C422.4,821.5 421.7,827.6 420.2,832.8C418.7,837.9 416.9,842 413.6,846.1C410.3,850.2 405.5,854.2 400.4,857.1C395.2,860 389,862.2 382.7,863.7C376.4,865.2 367.9,864.8 362.8,865.9C357.7,867 354,867.4 351.8,870.4C349.6,873.4 349.6,878.1 349.6,883.6C349.6,889.1 351.1,896.9 351.8,903.5C352.5,910.1 353.6,917 354,923.3C354.4,929.5 353.7,935.8 354,941C354.3,946.2 356.8,950.8 356,954.4C355.2,958 353.1,960.9 349.2,962.9C345.2,964.9 337.9,964.8 332.3,966.2C326.7,967.6 320.6,969.3 315.5,971.3C310.4,973.3 306.2,975.3 302,978.1C297.8,980.9 294.1,984.8 290.1,988.2C286.2,991.6 281,995.7 278.3,998.3C275.6,1000.9 278.6,1002 273.7,1003.7C268.8,1005.4 257.3,1008.6 249.1,1008.6C240.9,1008.6 231.3,1006 224.6,1003.7C217.9,1001.4 215.1,997.5 209.1,994.9C203.1,992.3 194.2,991 188.8,988.2C183.5,985.4 179.2,982.1 177,978.1Z" fill="#FEF0C3"/>
<path d="M201.7,824.8C202.1,816.7 203.5,809.3 206.1,802.7C208.7,796.1 211.9,789.8 217.1,785C222.2,780.2 229.6,776.2 237,774C244.4,771.8 254,771.1 261.3,771.8C268.7,772.5 276,774.7 281.1,778.4C286.2,782.1 289.6,787.6 292.2,793.9C294.8,800.1 296.6,807.1 296.6,815.9C296.6,824.7 293,839.1 292.2,846.8C291.4,854.5 289.9,858.6 292,862C294.1,865.4 300,866.8 305,867C310,867.2 317.5,865.3 322,863C326.5,860.7 330.5,859.3 332,853C333.5,846.7 331.4,834.2 331,825C330.6,815.8 327.7,803.9 329.7,797.5C331.7,791.1 337.1,788.7 343,786.5C348.9,784.3 357.6,783.9 365,784.3C372.4,784.7 380.8,785.8 387.1,788.7C393.4,791.6 399.5,796.8 402.6,801.9C405.7,807 406.6,813.7 405.9,819.6C405.1,825.5 402.3,832.8 398.1,837.2C393.9,841.6 387.5,844.2 380.5,846.1C373.5,848 362.4,846.8 356.2,848.3C349.9,849.8 345.8,851.2 343,854.9C340.2,858.6 340.1,864.1 339.7,870.4C339.3,876.6 339.9,885 340.8,892.4C341.7,899.8 344.3,907.1 345.2,914.5C346.1,921.9 346.7,930 346.3,936.6C345.9,943.2 345.3,949.6 343,954.2C340.7,958.9 337.7,961.9 332.3,964.5C326.9,967.1 316.9,967.3 310.4,969.6C303.9,971.9 298.3,975 293.5,978.1C288.7,981.2 285.9,984.8 281.7,988.2C277.5,991.6 272.7,996.3 268.2,998.3C263.7,1000.3 260.3,1000.9 254.7,1000C249.1,999.1 241.2,995.7 234.4,993.2C227.7,990.7 219.8,987.9 214.2,984.8C208.6,981.7 203.2,977.5 200.7,974.7C198.2,971.9 198.2,970.4 199,967.9C199.8,965.4 200.9,963.1 205.7,959.5C210.5,955.9 221.2,950.2 227.7,946C234.2,941.8 240,938.4 244.5,934.2C249,930 253.9,925.6 254.7,920.7C255.4,915.8 251.8,909.6 249,905C246.2,900.4 242,896.8 238,893C234,889.2 228.8,885.6 225,882C221.2,878.4 218.4,876.2 214.9,871.1C211.4,866 206.1,859 203.9,851.3C201.7,843.6 201.3,832.9 201.7,824.8Z" fill="#FDD497"/>
<path d="M294.4,832.8C295.1,827.6 299.1,820.7 303.2,817.4C307.2,814.1 314.3,812.3 318.7,813C323.1,813.7 327.5,817.4 329.7,821.8C331.9,826.2 332.3,834.4 331.9,839.5C331.5,844.6 330.8,849.8 327.5,852.7C324.2,855.6 316.9,857.8 312.1,857.1C307.3,856.4 301.8,852.3 298.8,848.3C295.9,844.2 293.7,837.9 294.4,832.8Z" fill="#FFFFFF"/>
<path d="M210.5,813.7C211.6,806 213.8,800.9 217.1,796.1C220.4,791.3 225.2,787.6 230.4,785C235.5,782.5 241.4,781 248,780.6C254.6,780.3 264.2,780.6 270.1,782.8C276,785 280.4,789.1 283.3,793.9C286.3,798.7 287.4,804.9 287.7,811.5C288.1,818.1 287,825.5 285.5,833.6C284.1,841.7 280.8,852.4 278.9,860.1C277.1,867.8 277.1,874.8 274.5,879.9C271.9,885.1 267.9,888.8 263.5,891C259,893.2 253.5,894.7 248,893.2C242.5,891.7 235.5,886.9 230.4,882.2C225.2,877.4 220.4,871.1 217.1,864.5C213.8,857.9 211.6,850.9 210.5,842.4C209.4,834 209.4,821.5 210.5,813.7Z" fill="#FE7452"/>
<path d="M281.7,876.8C282.5,873.7 286.2,872.5 290.1,871.7C294.1,870.8 301.4,870.3 305.3,871.7C309.3,873.1 312.6,876.8 313.8,880.1C314.9,883.5 314.6,889.4 312.1,891.9C309.5,894.5 303.1,895.6 298.6,895.3C294.1,895 287.9,893.4 285.1,890.3C282.3,887.2 280.8,879.8 281.7,876.8Z" fill="#FE7452"/>
<path d="M234.4,951C236.2,946.5 240.3,943.7 244.5,940.9C248.8,938.1 253.6,935.6 259.7,934.2C265.9,932.7 275.2,933.6 281.7,932.5C288.2,931.3 292.9,929.4 298.6,927.4C304.2,925.4 310.4,921.5 315.5,920.7C320.5,919.8 325.3,920.1 329,922.3C332.6,924.6 335.4,929.9 337.4,934.2C339.4,938.4 340.8,943.4 340.8,947.7C340.8,951.9 340.2,957.5 337.4,959.5C334.6,961.5 329,960.3 323.9,959.5C318.8,958.6 311.8,955.3 307,954.4C302.2,953.6 297.7,952.7 295.2,954.4C292.7,956.1 293.5,960.3 291.8,964.5C290.1,968.8 288.2,975.8 285.1,979.7C282,983.7 278.3,986.5 273.2,988.2C268.2,989.9 260.3,991 254.7,989.9C249,988.7 243,985.1 239.5,981.4C236,977.8 234.4,973 233.6,967.9C232.7,962.9 232.6,955.5 234.4,951Z" fill="#FE7452"/>
<path d="M356.2,817.4C356.9,814.8 361,810.8 362.8,810.8C364.7,810.8 366.9,814.8 367.2,817.4C367.6,820 366.5,824.7 365,826.2C363.6,827.7 359.9,827.7 358.4,826.2C356.9,824.7 355.5,820 356.2,817.4Z" fill="#FE7452"/>
<path d="M212.7,820.4C213.4,813.7 216,807.5 219.3,802.7C222.6,797.9 227,794.2 232.6,791.7C238.1,789.1 246.2,787.2 252.4,787.2C258.7,787.2 265.7,788.4 270.1,791.7C274.5,795 277.4,800.9 278.9,807.1C280.4,813.4 280,821.5 278.9,829.2C277.8,836.9 274.9,846.1 272.3,853.5C269.7,860.8 266.8,868.2 263.5,873.3C260.2,878.5 256.8,883.6 252.4,884.4C248,885.1 241.8,881.4 237,877.7C232.2,874.1 227.4,868.2 223.7,862.3C220.1,856.4 216.7,849.4 214.9,842.4C213.1,835.4 212,827 212.7,820.4Z" fill="#F52234"/>
<path d="M242,957.8C243.4,953.9 247.5,949.6 251.3,947.7C255.1,945.7 260.6,945.1 264.8,946C269,946.8 274,949.4 276.6,952.7C279.3,956.1 280.8,962 280.8,966.2C280.8,970.5 279.3,975.5 276.6,978.1C274,980.6 269,981.1 264.8,981.4C260.6,981.7 255,981.4 251.3,979.7C247.6,978.1 244.4,975 242.9,971.3C241.3,967.6 240.6,961.7 242,957.8Z" fill="#F52234"/>
<path d="M221.5,827C222.6,822 224.5,813.7 228.1,809.3C231.8,804.9 238.1,802.3 243.6,800.5C249.1,798.7 256.5,797.2 261.3,798.3C266,799.4 270.5,802.7 272.3,807.1C274.1,811.5 273.4,818.1 272.3,824.8C271.2,831.4 268.2,840.2 265.7,846.8C263.1,853.5 260,860.5 256.8,864.5C253.7,868.5 250.4,871.1 246.9,871.1C243.4,871.1 239.4,867.8 235.9,864.5C232.4,861.2 228.3,855.5 225.9,851.3C223.6,847 222.3,843.2 221.5,839.1C220.8,835.1 220.4,831.9 221.5,827Z" fill="#D5142D"/>
<path d="M251.3,961.2C253,958.6 261.4,958.4 264.8,959.5C268.2,960.6 271.3,965.1 271.6,967.9C271.8,970.7 269.3,975.2 266.5,976.4C263.7,977.5 257.2,977.2 254.7,974.7C252.1,972.1 249.6,963.7 251.3,961.2Z" fill="#D5142D"/>
<path d="M188.4,738.7C189.2,735.4 191.7,731.7 195,729.9C198.4,728 205,726.9 208.3,727.7C211.6,728.4 214.2,731 214.9,734.3C215.6,737.6 214.9,744.2 212.7,747.5C210.5,750.8 205.3,753.8 201.7,754.1C198,754.5 192.8,752.3 190.6,749.7C188.4,747.2 187.7,742 188.4,738.7Z" fill="#BFF5FB"/>
<path d="M294.4,734.3C295.6,731 298.4,726 303.2,723.2C308,720.5 316.4,718.1 323.1,717.7C329.7,717.4 338.1,718.6 342.9,721C347.7,723.4 351.4,728 351.7,732.1C352.1,736.1 349.5,742 345.1,745.3C340.7,748.6 331.9,751.2 325.3,751.9C318.6,752.7 310.4,751.2 305.4,749.7C300.4,748.3 297.3,745.7 295.5,743.1C293.6,740.5 293.1,737.6 294.4,734.3Z" fill="#BFF5FB"/>
<path d="M137.7,807.1C138.2,799.8 140.6,790.6 144.3,785C148,779.5 154.6,775.5 159.7,774C164.9,772.5 170.8,773.6 175.2,776.2C179.6,778.8 184,784.3 186.2,789.5C188.4,794.6 189.2,801.6 188.4,807.1C187.7,812.6 185.1,817.8 181.8,822.6C178.5,827.3 173.3,832.9 168.6,835.8C163.8,838.7 157.7,841.3 153.1,840.2C148.5,839.1 143.5,834.7 141,829.2C138.4,823.7 137.1,814.5 137.7,807.1Z" fill="#BFF5FB"/>
<path d="M157.5,871.1C157.9,863.8 161.2,855.3 164.1,851.3C167.1,847.2 171.5,845.4 175.2,846.8C178.9,848.3 182.5,856 186.2,860.1C189.9,864.1 193.6,866.7 197.2,871.1C200.9,875.5 206.8,881.8 208.3,886.6C209.8,891.4 209,896.1 206.1,899.8C203.1,903.5 195.8,907.5 190.6,908.6C185.5,909.7 180,908.6 175.2,906.4C170.4,904.2 164.9,901.3 161.9,895.4C159,889.5 157.2,878.5 157.5,871.1Z" fill="#BFF5FB"/>
<path d="M369.5,892.4C371,885.8 373.9,879.9 378.3,874.8C382.7,869.6 389.3,865.9 395.9,861.5C402.5,857.1 409.9,851.6 418,848.3C426.1,845 437.5,842.4 444.5,841.7C451.5,841 456.3,841 460,843.9C463.7,846.8 465.5,852.7 466.6,859.3C467.7,865.9 467,874.4 466.6,883.6C466.2,892.8 465.9,904.6 464.4,914.5C462.9,924.4 460.3,934 457.7,943.2C455.1,952.4 451.3,958.8 448.9,969.7C446.5,980.6 446.1,998.9 443.1,1008.6C440.1,1018.4 435.3,1022.5 430.8,1028.2C426.3,1033.9 421.8,1038.1 416.1,1043C410.4,1047.9 403.1,1053.2 396.5,1057.7C389.9,1062.2 384.2,1065.9 376.8,1070C369.4,1074.1 360.5,1079 352.3,1082.3C344.1,1085.6 335.9,1088.6 327.7,1089.6C319.5,1090.6 310.9,1090 303.1,1088.4C295.3,1086.8 287.1,1083.3 281,1079.8C274.9,1076.3 268.9,1072 266.3,1067.5C263.7,1063 265.1,1058.1 265.1,1052.8C265.1,1047.5 264.5,1041.7 266.3,1035.6C268.1,1029.5 271.6,1022.1 276.1,1016C280.6,1009.9 286.8,1004.1 293.3,998.8C299.9,993.5 308.8,988.1 315.4,984C321.9,979.9 327.7,977.9 332.6,974.2C337.5,970.5 340.8,966.8 344.9,961.9C349,957 353.5,950 357.2,944.7C360.9,939.4 365.1,935 367.2,930C369.2,925 369.1,920.8 369.5,914.5C369.9,908.2 368,899 369.5,892.4Z" fill="#BFF5FB"/>
<path d="M373.9,901.3C375.9,896.1 379.8,889.1 384.9,883.6C390,878.1 397.8,872.5 404.8,868.1C411.8,863.7 419.5,859.7 426.8,857.1C434.1,854.5 443.8,851.6 448.9,852.7C454,853.8 456.2,857.1 457.7,863.7C459.2,870.3 458.4,882.5 457.7,892.4C457,902.3 455.1,913.7 453.3,923.3C451.5,932.9 448.8,938.4 446.7,949.8C444.6,961.1 444.2,980.4 440.7,991.4C437.2,1002.4 430.8,1009 425.9,1016C421,1023 416.9,1027.4 411.2,1033.1C405.5,1038.8 398.2,1045.4 391.6,1050.3C385.1,1055.2 379.3,1058.5 371.9,1062.6C364.5,1066.7 355.5,1072 347.3,1074.9C339.1,1077.8 331,1079.4 322.8,1079.8C314.6,1080.2 305.6,1079.3 298.2,1077.3C290.8,1075.2 283.1,1071.6 278.6,1067.5C274.1,1063.4 272,1058.5 271.2,1052.8C270.4,1047.1 270.8,1040.1 273.7,1033.1C276.6,1026.1 282.7,1017.1 288.4,1011C294.1,1004.9 301.1,1000.8 308.1,996.3C315.1,991.8 323.7,988.9 330.2,984C336.7,979.1 342.4,972.1 347.3,966.8C352.2,961.5 355.5,957.4 359.6,952.1C363.7,946.8 369.7,941.2 371.9,934.9C374.1,928.6 372.5,920.1 372.8,914.5C373.1,908.9 371.9,906.4 373.9,901.3Z" fill="#96E2FA"/>
<path d="M378.3,910.1C380.5,904.2 384.2,897.5 389.3,892.4C394.4,887.2 402.2,882.9 409.2,879.2C416.2,875.5 425.1,871.1 431.3,870.4C437.6,869.7 443.8,870.4 446.7,874.8C449.6,879.2 449.3,888 448.9,896.8C448.5,905.6 446.3,918.1 444.5,927.7C442.7,937.3 439.3,946.9 437.9,954.2C436.4,961.5 438.6,963.5 435.8,971.7C433,980 425.9,994.7 421,1003.7C416.1,1012.7 412,1019.2 406.3,1025.8C400.6,1032.3 393.2,1038.1 386.6,1043C380.1,1047.9 374.4,1051.1 367,1055.2C359.6,1059.3 350.6,1064.6 342.4,1067.5C334.2,1070.4 326.1,1072.8 317.9,1072.4C309.7,1072 299.4,1069.2 293.3,1065.1C287.2,1061 283.4,1052 281,1047.9C278.6,1043.8 277.4,1044.6 278.6,1040.5C279.8,1036.4 283.9,1029.8 288.4,1023.3C292.9,1016.8 299.1,1007.3 305.6,1001.2C312.2,995.1 320.8,991.4 327.7,986.5C334.6,981.6 341.6,976.6 347.3,971.7C353,966.8 357.6,962.3 362.1,957C366.6,951.7 372.1,944.7 374.4,939.8C376.7,934.9 375.5,932.7 376.1,927.7C376.8,922.8 376.1,916 378.3,910.1Z" fill="#4FA8F6"/>
<path d="M382.7,918.9C385.1,911.7 388.5,906.1 393.7,901.3C398.9,896.5 406.6,893.2 413.6,890.2C420.6,887.2 430.6,882.5 435.7,883.6C440.8,884.7 443.4,890.2 444.5,896.8C445.6,903.4 443.8,914.5 442.3,923.3C440.8,932.1 437.6,942.9 435.7,949.8C433.8,956.6 434.1,957 430.8,964.4C427.5,971.8 420.6,985.3 416.1,993.9C411.6,1002.5 408.7,1009.5 403.8,1016C398.9,1022.5 392.7,1027.8 386.6,1033.1C380.5,1038.4 374.4,1043.8 367,1047.9C359.6,1052 350.6,1055.2 342.4,1057.7C334.2,1060.2 325.3,1062.6 317.9,1062.6C310.5,1062.6 303.5,1060.6 298.2,1057.7C292.9,1054.8 286.8,1050.3 286,1045.4C285.2,1040.5 289.2,1034.3 293.3,1028.2C297.4,1022.1 304.4,1014.7 310.5,1008.6C316.6,1002.5 323.6,996.7 330.2,991.4C336.8,986.1 344.1,981.6 349.8,976.7C355.5,971.8 359.6,967.2 364.5,961.9C369.4,956.6 376.3,951.9 379.3,944.7C382.3,937.5 380.3,926.1 382.7,918.9Z" fill="#2B50F7"/>
<path d="M384.9,927.7C387.3,920.7 390.8,914.9 395.9,910.1C401,905.3 409.5,901.6 415.8,899C422.1,896.4 429.4,893.5 433.5,894.6C437.6,895.7 439.4,900.2 440.1,905.7C440.8,911.2 439.4,919.6 437.9,927.7C436.4,935.8 433.7,948.9 431.3,954.2C428.9,959.5 426.9,953.7 423.5,959.5C420.1,965.3 415.7,979.9 411.2,988.9C406.7,997.9 402.2,1006.1 396.5,1013.5C390.8,1020.9 384.2,1027.4 376.8,1033.1C369.4,1038.8 360.5,1044.2 352.3,1047.9C344.1,1051.6 335.5,1054.4 327.7,1055.2C319.9,1056 311.3,1055.2 305.6,1052.8C299.9,1050.3 294.9,1044.2 293.3,1040.5C291.7,1036.8 293.3,1034.8 295.8,1030.7C298.3,1026.6 302.8,1021.3 308.1,1016C313.4,1010.7 320.8,1004.1 327.7,998.8C334.6,993.5 343.2,988.9 349.8,984C356.4,979.1 361.7,974.6 367,969.3C372.3,964 378.7,959 381.7,952.1C384.7,945.2 382.5,934.7 384.9,927.7Z" fill="#1A12EE"/>
<path d="M501.9,883.6C503,879.2 507,873.7 510.7,870.4C514.4,867 519.9,863.7 524,863.7C528,863.7 532.8,866.3 535,870.4C537.2,874.4 537.9,882.9 537.2,888C536.5,893.2 534.3,898.3 530.6,901.3C526.9,904.2 519.5,906.4 515.1,905.7C510.7,904.9 506.3,900.5 504.1,896.8C501.9,893.2 500.8,888 501.9,883.6Z" fill="#FEF0C3"/>
<path d="M406.3,1087.2C407.1,1082.7 410.4,1074.5 413.7,1067.5C416.9,1060.6 421.4,1052.8 425.9,1045.4C430.4,1038.1 435.8,1031.1 440.7,1023.3C445.6,1015.5 450.5,1006.5 455.4,998.8C460.3,991 465.2,982.4 470.1,976.7C475,970.9 480,965.6 484.9,964.4C489.8,963.2 496.1,964.8 499.6,969.3C503.1,973.8 504.9,983.2 505.7,991.4C506.6,999.6 506,1010.2 504.5,1018.4C503.1,1026.6 500.8,1033.6 497.2,1040.5C493.5,1047.5 488.1,1054.4 482.4,1060.2C476.7,1065.9 469.7,1070.4 462.8,1074.9C455.8,1079.4 447.6,1083.9 440.7,1087.2C433.7,1090.4 426.3,1093.3 421,1094.5C415.7,1095.8 411.2,1095.8 408.7,1094.5C406.3,1093.3 405.5,1091.7 406.3,1087.2Z" fill="#FEF0C3"/>
<path d="M217.1,813.7C224.5,807.5 253.9,807.5 261.3,813.7C268.6,820 268.6,845 261.3,851.3C253.9,857.5 224.5,857.5 217.1,851.3C209.8,845 209.8,820 217.1,813.7Z" fill="url(#hatch)"/>
<path d="M382.7,918.9C390.9,907 403.3,893.9 413.6,890.2C423.9,886.5 440.8,886.9 444.5,896.8C448.2,906.7 440.4,933.6 435.7,949.8C431,966 424.3,980 416.1,993.9C407.9,1007.8 398.9,1022.5 386.6,1033.1C374.3,1043.7 357.1,1053.6 342.4,1057.7C327.7,1061.8 306.4,1062.6 298.2,1057.7C290,1052.8 288,1039.2 293.3,1028.2C298.6,1017.2 318.3,1002.5 330.2,991.4C342.1,980.3 355.8,974 364.5,961.9C373.2,949.8 374.5,930.8 382.7,918.9Z" fill="url(#hatch)"/>
<path d="M398.9,1101.9C392.4,1097 400.6,1088.8 406.3,1077.3C412,1065.9 423.5,1048.3 433.3,1033.1C443.1,1018 452.9,995.5 465.2,986.5C477.5,977.5 495.9,972.2 507,979.1C518,986.1 537.7,1007.8 531.5,1028.2C525.4,1048.7 484.5,1088.8 470.1,1101.9C455.8,1115 457.4,1106.8 445.6,1106.8C433.7,1106.8 405.5,1106.8 398.9,1101.9Z" fill="url(#hatch)"/>
<path d="M371.7,797.5C377.2,793.1 399.3,793.1 404.8,797.5C410.3,801.9 410.3,819.6 404.8,824C399.3,828.4 377.2,828.4 371.7,824C366.1,819.6 366.1,801.9 371.7,797.5Z" fill="url(#hatch)"/>
<path d="M244.5,961.2C251.3,956.9 278.3,956.9 285.1,961.2C291.8,965.4 291.8,982.3 285.1,986.5C278.3,990.7 251.3,990.7 244.5,986.5C237.8,982.3 237.8,965.4 244.5,961.2Z" fill="url(#hatch)"/>
<path d="M365,945C369.8,937.3 372.8,930.8 386,928C399.2,925.2 435.5,923.5 444,928C452.5,932.5 440.2,944.7 437,955C433.8,965.3 430,980 425,990C420,1000 413,1007.8 407,1015C401,1022.2 394.8,1026.7 389,1033C383.2,1039.3 379,1047.2 372,1053C365,1058.8 356,1064 347,1068C338,1072 327,1075.5 318,1077C309,1078.5 299.5,1078.7 293,1077C286.5,1075.3 282.2,1072.3 279,1067C275.8,1061.7 271.7,1052.3 274,1045C276.3,1037.7 286.2,1029.5 293,1023C299.8,1016.5 307.5,1011.3 315,1006C322.5,1000.7 331,996.3 338,991C345,985.7 352.5,981.7 357,974C361.5,966.3 360.2,952.7 365,945Z" fill="url(#stip)"/>
<path d="M421,1087.2C421,1081.9 430.4,1066.7 435.8,1057.7C441.1,1048.7 447.2,1040.9 452.9,1033.1C458.7,1025.4 464.4,1016 470.1,1011C475.9,1006.1 482,1003.7 487.3,1003.7C492.6,1003.7 500,1005.7 502.1,1011C504.1,1016.4 502.9,1027.8 499.6,1035.6C496.3,1043.4 489,1051.2 482.4,1057.7C475.9,1064.3 468.1,1069.6 460.3,1074.9C452.5,1080.2 442.3,1087.6 435.8,1089.6C429.2,1091.7 421,1092.5 421,1087.2Z" fill="url(#stip)"/>
<path d="M385.3,662.6L408.2,677L410.2,687.8L415,696.7L424.1,705.6L429.6,719.2L436.5,723.2L445.6,736.9L451.3,753.2L447.1,760L444,767.9L443.1,778L440.1,791.2L435,804.8L441.2,804.4L443.6,795.7L448.6,784.4L452.1,777L452.1,785.8L448.8,796.6L445.3,801.1L438.2,815.4L436,821.4L430.3,837L426,844.2L417.6,848.7L408.8,851.8L402.9,856.2L400.7,863.2L391.7,872.4L385.8,882.8L380.2,890.1L379.9,899.5L382.9,908L388.2,914.4L392.3,924.8L393,928.4L387.8,917.5L383.6,916.9L377.7,924.6L369.3,923.8L366.3,918.1L361.4,925.2L355.7,921.2L351.4,916.1L348.7,910.7L352,903.3L353.2,896.6L353.4,890.7L349.5,885.9L348.8,882.1L347.4,874L344.3,867.5L339.2,864L334.7,860L327.6,863.3L326.7,857.9L326.9,848.8L331.6,843.4L336.7,843.1L345.2,838.6L346.7,835.6L346.7,829.4L342.7,823.8L335,817.1L335.4,806.3L331.9,809.7L325.6,816.8L323.7,828.1L322.2,835L315.4,830.3L311.3,821L305.7,825.2L301.8,815.9L298.6,810.1L292.2,801.7L299.4,795.5L308.3,792.8L309.2,788.4L299.4,783.4L302.7,780.4L313,776.4L315.9,779.9L319.4,778.8L322.9,772.1L333,770.7L335.4,766L340.8,760.8L341.2,754.7L349.1,752.2L359.3,749.3L362.9,743.2L362.6,731.7L366.4,726.1L369.3,730.4L370,736.5L370.2,746.3L380.6,752.5L386.3,750.4L397.7,759.5L413.2,755.2L424,744.6L425.7,731.3L414.3,721.2L392.5,722.4L401.2,713.7L407.7,705.7L395.7,698.7L390.5,692.7L399.2,677.8L384.6,664.8M277.2,827.5L283.3,828.9L289.8,836.2L292.8,846.9L294.4,852.2L296.1,857.5L302.7,868.3L306,874.1L302.7,878.9L299.4,884L292.2,889.6L285.9,889L281.8,885.5L275.2,877.2L270.1,867.5L269,861.6L272,853.4L275,844.5L275.9,836.7L277.2,827.5M305.9,831.7L301.7,841.1L306.8,852.5L313.4,862.3L321.2,864.2L321.9,857L314.6,848.6L320.9,839L312.2,832.5L305.9,831.7M338.9,865.6L343.3,877.7L335.9,878.6L331.6,871.8L338.9,865.6M311.6,871.6L307.4,877.2L300.2,884.1L302.6,887L311.3,884.6L316.6,875.4L311.6,871.6M313.5,866.6L317.3,874.2L322.8,873L313.5,866.6M343.9,884.4L336.3,887.1L337.2,880.6L343.9,884.4M251.8,852.2L257.1,849.9L261.4,853.6L255.9,860L251,859.1L251.8,852.2M374.1,720.3L362.2,711.9L352.2,700.9L362.9,704L380.4,718.8L374.1,720.3M119.2,728L133.1,726.7L142.5,733.8L154.3,752.1L162.4,765.6L167.1,781.7L168.5,796L174.8,814.5L167.1,822.4L165.1,836.6L158.4,853.7L146.4,852.4L130.5,872.3L135.8,882.1L130.8,905.1L130.2,911.9L125.7,912.7L115.4,918L97.8,929.9L73.6,942.9L64.2,960.7L58.6,965.2L71.4,994L63.5,995.7M66.8,967.4L76.3,979.8L90.9,989.3L105.4,1001.8L124.8,1005.1L125.2,993.9L130.7,988.5L117.5,976.8L124.3,968.8L134.1,958.8L133.3,967.2L134.3,987.4L136.8,1004.8L145.6,1021L143.1,1031.7L147.6,1045.7L134.2,1063.6L123.9,1086.9M136.3,1098.1L146.4,1089.4L158.2,1082.7L183.1,1080.9L194.8,1079.2L202.5,1083.6L203.7,1093L203.5,1110.8L211.3,1123.3L206.8,1140.2M209.7,1141.3L220.2,1128.9L224.1,1137L229.8,1148M243.1,1149.1L253,1127.2L250.2,1110.1L256.8,1105.7L278.4,1105.2L297.8,1097L305.5,1078.9L301.7,1068.6L298.1,1061.9L305.9,1053.5L295.5,1055.2L294.4,1048.7L303.1,1042.9L310,1045.8L316.4,1054.3L317.3,1061.9L324,1059.9L321.2,1050.4L322.6,1040.4L324.1,1035.3L326.7,1033.2L337,1020.8L337.8,1007.8L336.4,998.9L328.1,998.7L332.1,982L340.5,976.2L351.6,959.1L354.5,964.1L360.3,970.3L362.9,990.8L351.9,977.3L349.1,968.7L352.6,960.1L361.7,952L358.4,941.9L358.4,936.4L359.6,927L355.4,930L347.8,933L340.8,939.8L333.6,945.8L323.3,946.4L316.7,952.5L307.7,952.1L297.9,948.7L294,949.8L293,941.5L290.4,936.8L284,941.6L271.4,938.5L264,937L252.1,939.5L251.1,933L247.2,928.4L237.3,920.6L232.3,916.9L235.6,909L243.7,908L249.2,900.7L247.2,895.9L240.6,888.2L232.2,878.6L223.5,870.5L219.7,872.1L220.7,877.2L211.4,878.2L209.4,880L215.5,884.9L223.6,887.6L234.6,896.6L220.9,894.1L218.8,905.1L217.9,895.8L211.3,891.1L205,885.9L207.2,872.4L217,875.1L211.1,870.3L207.4,867.9L207,861.4L205.3,855L203.2,849.5L205.8,840L195.4,842.1L189.1,837.5L197.5,825.4L195.1,820.9L182.8,810.6L174.7,815.8L172.1,828.6L179.4,838.6L181,850.8L180.5,858.2L167.9,866.1L157.2,868.6L161.8,877.1L179.1,866.7L181.8,870.7L167.8,879.5L154.2,883.4L150.6,885.5L161.6,888.2L162.2,902.7L147.7,899.8L147.5,921.1L136.6,919.4L130.6,917.8M162.2,902.7L165.9,916.8L165,932.5L170.9,930.1L176.4,919.1L179.3,907.2L171.7,902L162.2,902.7M189.1,948.6L178.7,942L170.1,950.9L162.2,965.9L173.1,958.7L184.8,954.2L189.1,948.6M210.2,841.4L207.2,854.6L211.9,855.2L220.9,856L225.1,859L228.5,859L229.9,856.4L226.3,851.6L222.1,850L216.2,851L214.5,845.6L210.2,841.4M220,838.4L224,845.1L223.6,849L219.1,846.7L215.9,843.7L220,838.4M330.5,1072.6L330,1062.3L337,1055.6L342.6,1050.6L348.5,1043.6L345.8,1032.6L347,1027.1L345,1019.6L355.4,1022.4L351.8,1028.5L349.2,1031.3L352.7,1040.3L354.5,1050.1L345.8,1056.6L342.7,1061L333.4,1065L330.5,1072.6M345,1017.9L342.3,1006L336.6,994.7L338,1001.4L345,1017.9M302.3,1108.2L304.4,1095.8L300.1,1100.7L302.3,1108.2M302.5,1121.9L301.5,1140.4L316.2,1144.1L307.4,1131.9L302.5,1121.9M259.7,1119.5L264.6,1113.1L257.4,1115.7L259.7,1119.5M253.5,929L258.3,923.4L269.2,924L272.4,926.2L259,924.8L253.5,929M266.3,896.2L273.3,896.1L273.7,899.6L270.5,904.1L266.8,900.5L266.3,896.2M274.4,913.2L278.5,916.2L278.2,918.4L274.4,913.2M288.6,934.8L288.9,927.8L291.3,927.4L292.4,933.2L288.6,934.8M313.9,944.9L310.7,941.7L315.7,938.3L313.9,944.9M343.1,930.3L343.2,927.4L343.5,929.5L343.1,930.3" fill="none" stroke="#c9c9c9" stroke-width="0.9"/>
<circle cx="299.4" cy="905.1" r="231.1" fill="none" stroke="#cccccc" stroke-width="1" stroke-dasharray="4.5,4.5"/>
<circle cx="299.4" cy="905.1" r="173.9" fill="none" stroke="#cccccc" stroke-width="1" stroke-dasharray="4.5,4.5"/>
<circle cx="299.4" cy="905.1" r="124.7" fill="none" stroke="#cccccc" stroke-width="1" stroke-dasharray="4.5,4.5"/>
<circle cx="299.4" cy="905.1" r="80.7" fill="none" stroke="#cccccc" stroke-width="1" stroke-dasharray="4.5,4.5"/>
<circle cx="299.4" cy="905.1" r="39.6" fill="none" stroke="#cccccc" stroke-width="1" stroke-dasharray="4.5,4.5"/>
<line x1="299.4" y1="905.1" x2="80.6" y2="778.8" stroke="#cccccc" stroke-width="1" stroke-dasharray="4.5,4.5"/>
<line x1="259.8" y1="905.1" x2="46.8" y2="905.1" stroke="#cccccc" stroke-width="1" stroke-dasharray="4.5,4.5"/>
<line x1="265.1" y1="924.9" x2="80.6" y2="1031.5" stroke="#cccccc" stroke-width="1" stroke-dasharray="4.5,4.5"/>
<line x1="299.4" y1="905.1" x2="173.1" y2="1123.9" stroke="#cccccc" stroke-width="1" stroke-dasharray="4.5,4.5"/>
<line x1="299.4" y1="944.7" x2="299.4" y2="1157.8" stroke="#cccccc" stroke-width="1" stroke-dasharray="4.5,4.5"/>
<line x1="319.3" y1="939.4" x2="425.8" y2="1123.9" stroke="#cccccc" stroke-width="1" stroke-dasharray="4.5,4.5"/>
<line x1="299.4" y1="905.1" x2="518.3" y2="1031.5" stroke="#cccccc" stroke-width="1" stroke-dasharray="4.5,4.5"/>
<line x1="339.1" y1="905.1" x2="552.1" y2="905.1" stroke="#cccccc" stroke-width="1" stroke-dasharray="4.5,4.5"/>
<line x1="333.8" y1="885.3" x2="518.3" y2="778.8" stroke="#cccccc" stroke-width="1" stroke-dasharray="4.5,4.5"/>
<line x1="299.4" y1="905.1" x2="425.8" y2="686.3" stroke="#cccccc" stroke-width="1" stroke-dasharray="4.5,4.5"/>
<line x1="299.4" y1="865.5" x2="299.5" y2="652.4" stroke="#cccccc" stroke-width="1" stroke-dasharray="4.5,4.5"/>
<line x1="279.6" y1="870.8" x2="173.1" y2="686.3" stroke="#cccccc" stroke-width="1" stroke-dasharray="4.5,4.5"/>
<path d="M242,672.2L242.1,670.4M260.9,666.9L258.5,669.3M274,667.8L275.5,668.9M291.7,668.6L292.3,667.3M313,666L311.6,668.5M327.2,664.9L326.8,666.4M344,668.8L344.9,666.7M361.4,670L361.3,668.1M195.2,680.8L198.4,681.8M218.8,683.1L215.4,683.6M234.7,679.4L233.9,681.6M254,680.4L252.7,683.1M267.2,681.2L268.9,682.7M282.8,680.5L283.8,681.9M301.9,683.1L302.7,684.8M318.7,681.6L317.5,684M338.6,686.2L337.6,684.6M350.7,687.4L353.3,685.5M373.7,685.3L372.4,685.3M388.9,687.3L388.5,685.9M400.8,685.7L402.1,685.6M179.6,695.9L169.6,705.7M171.4,701.5L169.6,705.7L173.9,704M195.5,695.3L192.2,699M211.6,698.3L209.4,700.1M225,703.5L226.2,701.4M243.4,696.3L241.9,700.1M261.1,696.1L259.6,700.9M277.2,696.1L275.8,699M293.6,698.5L293.3,700.3M307.1,699.4L308.3,700.7M325.8,696.7L326.7,699.8M347.4,700.7L344.6,699.4M359.4,698.9L362.5,698M377.2,700L379.6,697.7M392.1,700.8L393.3,700.3M415.4,701.3L413.6,698.5M431.8,698.6L430,701M149.4,717.4L148.7,714M169.9,711.3L160,719.9M161.9,716L160,719.9L164.1,718.5M184.9,709.1L178.6,724.2M178.6,718.9L178.6,724.2L182.4,720.5M204.6,707.2L194.3,723.9M195.3,717.6L194.3,723.9L199.5,720.2M221.6,711.3L213.3,718.3M214.9,715.2L213.3,718.3L216.7,717.3M237.4,711.2L232.5,721.2M232.7,717.6L232.5,721.2L235.2,718.8M253.5,710.2L250.6,722.1M250,718.2L250.6,722.1L253,718.9M267.8,707.7L263.9,718.2M263.7,714.6L263.9,718.2L266.4,715.6M287.3,711.1L282.3,719.8M282.7,716.6L282.3,719.8L284.9,717.9M304,711L302,715.2M314.4,715L317.5,714.1M334.6,715.3L335.8,713.5M348.7,711.8L351.7,713.3M369.6,718.9L370.3,716.9M389.8,712.6L387.3,713.7M406,715.4L404.5,715.4M418.4,714.2L420.4,715.3M437.9,716.2L437.6,713.4M452.8,714.6L455.5,714.8M122.3,731.4L124,731.6M140.3,733.6L141.5,731.7M159.8,728.8L156,730.9M182.7,724.2L167.2,734.7M170.5,729.6L167.2,734.7L173.1,733.5M197,722.4L187,734.9M188.4,729.9L187,734.9L191.5,732.4M213.7,726.5L200.6,738.1M203.1,733L200.6,738.1L206,736.3M229.8,725.7L226.7,728.8M245,727.4L242.2,730.7M261.6,725.8L258.5,736.6M258,733L258.5,736.6L260.8,733.8M278.1,725.5L271.1,735.5M272,731.6L271.1,735.5L274.5,733.4M294.9,723.7L293.2,737M292,732.8L293.2,737L295.4,733.2M310.8,724.8L308.6,728.8M327.4,727.4L326.9,729.1M344.3,730.6L343.2,731.8M363.4,727.2L363.2,729.5M381,732.4L380.3,731.3M394.1,728.6L396.1,731.2M411.1,728.3L412.4,729.1M425.8,734L428.2,732.6M446.4,728.8L445.5,730.9M464.3,734.4L465.1,731.3M112.1,747.1L113.9,746.2M130.5,750.1L130.5,747.2M152.4,746.8L148.6,747.2M172.2,744.3L157.3,747.8M161.3,744.8L157.3,747.8L162.2,748.6M191.7,747.5L174.4,748.4M179.5,746L174.4,748.4L179.7,750.3M207.3,738.8L191.4,751.3M194.6,745.6L191.4,751.3L197.7,749.6M222.6,742.4L207.1,749.1M210.9,745.1L207.1,749.1L212.6,749M234.8,742.5L234.7,743.9M249.9,742.4L249.3,745.8M270.7,742.7L269.2,745.9M287.4,741.4L285.2,751.5M284.6,748.2L285.2,751.5L287.2,748.8M302.9,743.2L300,752.9M299.6,749.6L300,752.9L302.1,750.3M319.8,742.1L318.8,745.8M333.3,748.8L336,748M348.9,745.3L352.1,744.2M370.3,749.7L368.7,747.3M383.2,748.5L384.7,747.1M404.5,747.9L402.9,748M422.5,748.2L420.4,748.2M438.8,746.9L437.4,744.8M452.1,746.1L453.9,748M473.9,741.8L472.5,744M110.2,761.1L107.6,761M127.1,760.2L124.7,761.6M141.9,764.3L139.8,763.8M164.6,760.8L153,760.7M156.5,759.3L153,760.7L156.5,762.2M182.1,760.4L164.3,762M169.4,759.3L164.3,762L169.8,763.8M198,763.5L180.8,759.1M186.5,758.3L180.8,759.1L185.4,762.6M215.6,766L199.8,760.8M205.2,760.4L199.8,760.8L203.9,764.4M229.1,763.7L226.4,763.8M242,764.7L241.1,763.3M261.3,766.1L261.2,764.4M276.3,757.7L274.7,760.2M292.9,758.5L292.2,762M312.2,756.8L309.7,760.9M326.6,765L327.6,763.2M344.1,759.9L345.3,760.4M359.5,767.2L359.8,763.9M375.7,762.1L377.5,762.1M396.9,763L396,760.7M414.5,764.2L413.8,762.7M426.2,760.3L427.7,761.1M448.3,762.6L445,761.3M460.6,764.1L463.8,763.2M481.7,761L481.5,762.3M497.9,758.4L495.8,761M98,772.5L98.7,775.8M114.6,774.2L115.9,776.1M130.1,780.6L131.2,778.7M153.5,777L143,777.6M146,776.1L143,777.6L146.2,778.7M171.1,777.2L157.5,776.8M161.6,775.2L157.5,776.8L161.5,778.6M189.8,778.9L175.3,775.8M180.1,774.9L175.3,775.8L179.3,778.5M206.2,780.5L190.3,776.9M195.5,776L190.3,776.9L194.6,780M223.2,778.5L209.8,773.7M214.4,773.4L209.8,773.7L213.2,776.8M232.2,782.3L232.4,779.6M251.1,781.5L251.5,779.7M270.7,778.4L268.2,778M284.7,773.3L283.7,775.5M304.4,780.6L303.8,778.7M318.4,781.5L317.9,780.1M336.1,773.9L336.5,775.7M354,780.7L354.3,778.3M373.7,781.6L371.4,778.2M390.4,779L380.6,772.2M384.4,773L380.6,772.2L382.7,775.5M406.8,783.5L398,774.2M401.8,775.9L398,774.2L399.4,778.1M421.9,780.1L419.7,776.5M442,776L439.2,776.7M452.5,778.6L454.9,777.7M471.5,773.9L469.9,776.3M487.7,780.4L487.7,779M507.2,774.1L506.6,775.5M89.1,791.1L89.9,792.2M107.7,791.2L106.3,792.9M120.9,793.5L122.8,793.8M147,792.1L136.3,792.9M139.4,791.3L136.3,792.9L139.6,794M163.4,792.1L150.4,792.9M154.2,791L150.4,792.9L154.4,794.3M185.3,798.6L166.2,790.7M172.9,790.6L166.2,790.7L170.9,795.5M201.1,793.3L182.4,791.1M188.3,789.4L182.4,791.1L187.7,794.1M213.7,796L201.6,793.8M205.5,792.9L201.6,793.8L204.9,796M227.6,795.1L223.4,794.4M249.9,791.1L238,797.3M240.8,793.9L238,797.3L242.3,796.9M255.7,789.7L258.3,792M276.6,796.5L277.5,794.6M295.2,794.8L292.5,793.2M312.3,793.3L309.4,793.8M331.8,792.8L328.4,792.1M345.8,790.7L343.2,792.4M359.4,791.4L360.6,794.6M382.6,798.8L371,790M375.6,791.2L371,790L373.4,794.1M400.2,798.2L392.9,788.2M396.4,790.3L392.9,788.2L393.8,792.1M417.8,798.9L404.2,790.2M409.4,791.1L404.2,790.2L407.2,794.5M433,795.6L430.3,792.2M444.6,794.5L445.8,791.4M465.6,794.9L463.3,794M480,790.3L480.4,792.1M493.4,794.4L496.1,792.4M516.4,791.9L514.6,794.7M76.8,808L80,807.8M97.7,811.2L98.3,808.3M118.1,808.9L116.6,807.9M127.8,811.4L130.7,810.8M154.1,810.1L144.1,809.4M147.2,808.3L144.1,809.4L147,810.8M171.6,807.9L158.2,807.8M162.3,806.1L158.2,807.8L162.2,809.5M193.3,809.4L171.7,807.5M178.4,805.3L171.7,807.5L177.9,810.7M209,808.8L190.3,805.5M196.3,804.1L190.3,805.5L195.5,808.8M224.9,809.2L207.6,809.7M212.7,807.4L207.6,809.7L212.9,811.7M243.9,803.5L221.4,815.5M226.5,809.2L221.4,815.5L229.5,814.7M262.9,802.6L238.6,814.6M244,808.5L238.6,814.6L246.8,814.1M272.5,805.3L259.5,813.3M262.4,809.3L259.5,813.3L264.4,812.6M282.8,809.3L283.9,808.4M300.9,809.1L302.9,809.1M321.4,810.1L318.2,810.2M337,806.6L334.2,808.1M352.1,812.9L352,809.5M371.6,809.6L369.1,807.6M393.5,814.4L382.4,803.8M387.1,805.6L382.4,803.8L384.4,808.4M407.4,814.2L396.3,803.7M400.9,805.4L396.3,803.7L398.3,808.2M425,817.4L413.4,802.4M418.8,805.4L413.4,802.4L415,808.4M443.9,816.5L434.5,803.6M439,806.3L434.5,803.6L435.7,808.6M457.1,808.8L455.7,809.5M472.7,812.6L473.1,811.3M495.2,811.4L485,803.4M489,804.5L485,803.4L487,807.1M512.7,812.7L497.4,801.8M503.4,803.1L497.4,801.8L500.6,807M528.7,813.7L514.3,802M520.1,803.7L514.3,802L517.2,807.3M106.7,821.5L107.3,824.4M126.5,822.7L125.1,825.6M141.1,823.1L140.2,826.3M161.3,825.5L158,824.7M179.7,825L174.5,825.1M202,827.7L184,824.5M189.8,823.2L184,824.5L189,827.7M216.3,823.9L196.9,825.8M202.5,822.8L196.9,825.8L203,827.7M232.9,825L214.2,827.7M219.5,824.5L214.2,827.7L220.2,829.2M255.4,820.6L226.8,830.7M232.8,825.2L226.8,830.7L234.9,831.2M274.9,818.2L246.1,828.7M252,823.2L246.1,828.7L254.2,829.1M283.1,818.2L266.2,829.9M269.8,824.3L266.2,829.9L272.7,828.5M295.3,828.5L293.9,825.6M307,826.4L308.3,823.7M329.4,820.1L328.6,823.3M343.1,822L344.1,824.8M362.4,823.8L361,824.3M378.8,822L377.5,822.4M402,827.3L392.1,817.6M396.3,819.3L392.1,817.6L393.8,821.8M422.1,833.6L405.2,817.4M412.3,820.1L405.2,817.4L408.2,824.4M434.1,833.2L420.9,819.7M426.6,822L420.9,819.7L423.1,825.4M450.6,829.5L441.9,818.8M445.8,820.9L441.9,818.8L443.1,823.1M468.4,827L460.9,819.9M464,821.1L460.9,819.9L462.3,823M484.9,828.5L476.2,821.7M479.7,822.6L476.2,821.7L477.9,824.8M504,834.8L489.5,817.1M496.1,820.6L489.5,817.1L491.6,824.2M528.4,831.2L501.4,817.9M509.5,818.4L501.4,817.9L506.7,824.1M536.7,831.7L526.9,820M531.3,822.3L526.9,820L528.4,824.7M100.3,840L99.1,840.7M111.8,835.7L113.8,838.3M133,839L130.6,840.2M151.4,841.4L149.3,840.5M173.2,839.7L161.8,843.3M164.7,840.8L161.8,843.3L165.7,843.7M190.4,838.7L178.3,841.5M181.6,839.1L178.3,841.5L182.3,842.1M205.4,838.6L190.9,840.7M195,838.2L190.9,840.7L195.5,841.9M230.4,837.6L206.7,843M213.1,838.4L206.7,843L214.4,844.4M246.7,836.3L221.7,843.2M228.1,838.2L221.7,843.2L229.8,844.2M260.4,831L242.7,847.9M245.9,840.6L242.7,847.9L250.1,845.1M276,833.3L257.3,849.5M260.9,842.3L257.3,849.5L265,847M291.4,834.7L276.3,843.8M279.7,839.1L276.3,843.8L281.9,843M302.9,835.5L302.4,838.2M320.1,840.4L317.5,839.9M335.9,841.4L337,840.2M348.1,840.5L350.8,840.3M368.8,836.7L369.8,839.2M387.7,839.1L385.5,839.5M406.4,844.3L399,836.7M402.2,838.1L399,836.7L400.3,839.9M425.6,848.9L416.9,831.2M421.8,835.4L416.9,831.2L417.3,837.6M445.6,847.1L429,832.5M435.8,834.8L429,832.5L432.2,839M459,847.9L447.6,831.9M453,835.3L447.6,831.9L449,838.2M476,848.5L465.5,834.8M470.4,837.6L465.5,834.8L467,840.2M495,848.4L485.3,831.3M490.4,835.2L485.3,831.3L486.1,837.6M514.6,844.7L498,831.8M504.6,833.6L498,831.8L501.4,837.8M529.3,850.7L514.2,831.1M521.2,835.1L514.2,831.1L516.2,838.9M101.4,855.7L104.5,854.5M122.8,851.6L123.2,855M136.3,854.2L139,854.4M163.5,852.9L153.1,858.8M155.5,855.7L153.1,858.8L156.9,858.3M180.3,852.2L166.5,856.4M170.1,853.4L166.5,856.4L171.1,856.9M200,851.1L185.3,857.9M188.8,854L185.3,857.9L190.6,857.7M217.4,854.3L197.1,859.8M202.5,855.6L197.1,859.8L203.8,860.8M236.7,849.5L212.7,865.6M217.2,858.8L212.7,865.6L220.7,864.1M253.3,848L234.7,861.9M238.5,855.4L234.7,861.9L242,860.1M268.4,846.8L249.5,864.5M252.9,857.1L249.5,864.5L257.2,861.7M284.1,852.2L265.8,863M269.9,857.4L265.8,863L272.6,862.1M293.6,851.1L293,853.6M309.7,853.7L309.4,855.8M325.8,856.2L327.6,856.5M347.3,856L345.5,856.7M364.4,852L363,853.9M378.1,853L377.7,854.2M398.5,859.4L388.1,849.8M392.4,851.4L388.1,849.8L390,854M414.7,861.9L407.3,850M411.1,852.6L407.3,850L408,854.5M436.1,864L420.7,847.6M427.4,850.6L420.7,847.6L423.2,854.5M453,862.8L443.2,849.6M447.8,852.3L443.2,849.6L444.5,854.8M468,863.5L462.2,846.4M466.1,850.8L462.2,846.4L461.8,852.3M489.3,861.1L474.4,849M480.4,850.8L474.4,849L477.4,854.5M502.3,865.6L488.5,842.6M495.1,847.4L488.5,842.6L489.7,850.6M520.2,862.9L505.2,847M511.7,849.9L505.2,847L507.7,853.7M541.2,868.9L521.1,844.3M528.3,848.1L521.1,844.3L523.4,852.1M95.7,868.8L95.8,870.7M113.1,870.4L113.9,871.7M128.1,870.3L130.9,871.1M149.9,868.9L146.9,870M170,867.9L158.1,874.8M160.8,871.2L158.1,874.8L162.6,874.2M191.3,868.2L176.2,874.3M179.9,870.6L176.2,874.3L181.5,874.4M207.5,867L190.8,873.1M195,869.1L190.8,873.1L196.6,873.4M224,863.1L207.3,876.1M210.7,870.1L207.3,876.1L214,874.3M244.4,864.3L226.2,880.9M229.6,873.7L226.2,880.9L233.8,878.3M256.5,864.3L241.3,879M244,872.7L241.3,879L247.7,876.5M272.9,865.1L261.1,875.1M263.4,870.6L261.1,875.1L265.9,873.6M287.3,870.8L284,870.7M304,872.7L301.2,872.1M318.9,873.5L318,871M335.8,867.4L335.8,870.6M352.1,867.8L351.7,870.2M376.4,874.3L366.9,867.2M370.7,868.1L366.9,867.2L368.9,870.5M391.9,877.9L380,863.2M385.4,866.1L380,863.2L381.7,869.1M412.9,880.2L395.9,865.5M402.9,867.8L395.9,865.5L399.2,872.1M425.3,878.7L415.7,866.7M420.1,869.1L415.7,866.7L417.1,871.5M442.1,877.4L434.2,862.6M438.5,866.1L434.2,862.6L434.7,868.1M460.2,877.6L453.2,861.4M457.3,865.4L453.2,861.4L453.3,867.1M475.5,873.7L473,871.3M494,878.5L482.4,866.8M487.4,868.8L482.4,866.8L484.4,871.8M516.8,880.8L495.9,860.5M503.5,863.5L495.9,860.5L499.1,868M530.3,888.1L516,856.2M521.9,861.8L516,856.2L516.2,864.4M545.9,886.8L532.2,854.9M538,860.5L532.2,854.9L532.2,863M90,888L89.1,886.1M104.9,887.5L107,885.5M120.8,890.6L123.3,888.8M139.3,890.4L138.6,888.7M163,884.7L159.1,885.8M178.5,885L167.9,891.5M170.2,888.2L167.9,891.5L171.9,890.9M199,881.2L184.3,894.7M187,888.8L184.3,894.7L190.4,892.4M217.9,878.4L201.2,892.3M204.5,886L201.2,892.3L208,890.2M233.3,879.9L215.3,893.8M219,887.4L215.3,893.8L222.5,891.9M250.8,879.9L237.5,892.7M239.9,887.2L237.5,892.7L243.1,890.5M259.4,888.7L260,885.6M278.5,885.3L275.8,887M291.8,888.6L294.1,886.6M310.8,885.4L309.4,887.6M326.6,888.5L328.1,885.5M344.4,884.1L343.7,886.1M363.6,890.3L360.7,888.5M384.3,894.3L371.3,882.7M376.7,884.5L371.3,882.7L373.7,887.8M403.4,892L387.1,883.9M393,884.3L387.1,883.9L391,888.4M421.9,890.1L403.1,880.6M410,881.1L403.1,880.6L407.6,885.8M438.6,892.9L420.6,879M427.8,880.9L420.6,879L424.3,885.4M451,888.9L440.9,886M444.3,885.6L440.9,886L443.6,888.1M460.6,885.6L462.2,886.3M481.3,884.4L478.7,886.9M498.4,886.9L495.3,885.4M518.3,895.1L507.9,880.1M512.9,883.3L507.9,880.1L509.1,885.9M535,902.8L528.2,873.8M533,880.4L528.2,873.8L526.9,881.9M149.3,903.9L147.9,903.9M164.7,906.2L164.5,902.7M186.6,899.5L177.9,906.2M179.7,903.1L177.9,906.2L181.4,905.3M206.4,900L196.2,906.1M198.5,903L196.2,906.1L200.1,905.5M219.6,900.2L214.7,902M232,905.3L232.8,901.9M250.1,899.4L252.2,900.5M270.6,905L267.2,904.3M285.4,903.5L284.5,901.4M299.4,904.1L299.9,902.4M317.8,903.9L317.8,901.2M339.4,904.1L336.7,904.2M350.6,899.2L351.8,900.5M366.5,906.9L368.5,904.6M393.5,909L378.6,896.6M384.7,898.5L378.6,896.6L381.5,902.2M418.1,907.3L393,897.5M401.1,897.3L393,897.5L398.8,903.2M429.1,904L409.5,898.5M416,897.7L409.5,898.5L414.7,902.6M449.7,904.9L429.7,903.1M436,901.1L429.7,903.1L435.5,906.2M458.4,901.7L453.8,902.9M475.4,897.9L468.2,907M469.2,903.4L468.2,907L471.5,905.2M491.8,899.4L489.7,903.7M510.3,897.5L505.2,909.7M505.2,905.4L505.2,909.7L508.3,906.6M533.1,903.2L514.6,901.6M520.3,899.8L514.6,901.6L520,904.4M544.1,907L535.5,894.6M539.6,897.3L535.5,894.6L536.5,899.4M153.5,921.3L155.7,919.6M178.8,918.2L176.4,919.5M193.3,920.5L192.8,917.1M210.3,920.9L208.4,919.7M223.3,914.2L224.3,917.4M245.5,916.7L243.6,919.3M263.9,918.3L261.1,916.5M273.6,916.8L276.1,919M296.3,919.3L294,917.9M310.8,917L309,918.9M324,918.6L325.5,916.8M344,922.4L344.6,920.2M366.9,923.2L356,915M360.3,916.1L356,915L358.2,918.8M383.7,922.4L369.4,916.4M374.5,916.4L369.4,916.4L373,920M406.3,920.9L384,916.6M391.3,915L384,916.6L390.2,920.7M421.3,922.7L402.6,914.9M409.2,914.9L402.6,914.9L407.2,919.6M436,924.8L420.4,914.5M426.3,915.6L420.4,914.5L423.8,919.6M446.8,921.4L447.7,920.1M466.9,914.1L464.9,917.8M481.9,915.1L475.4,925.2M476,921.3L475.4,925.2L478.6,923M499.3,914.5L497.2,919M513.6,912.9L511.4,926.1M510.4,921.9L511.4,926.1L513.7,922.4M532.8,911.4L528.6,923.8M528.3,919.6L528.6,923.8L531.4,920.6M152.2,937.3L150,934.7M162.1,933.8L164.7,935.4M180.1,933L182.8,933.6M201.4,932.1L199.3,933.9M214.3,935L217.6,934.5M233.6,932.8L234,935.8M252,928.9L251.7,932.1M268,933.3L268.4,934.6M281.5,933.8L283.6,932.5M299.9,931.3L302,932.8M319.6,937.2L319.2,933.9M334.6,933.4L336.1,934M356.3,935.3L346.1,929.3M349.9,929.9L346.1,929.3L348.4,932.4M380.3,944.6L357.7,925.6M365.4,928L357.7,925.6L361.4,932.8M396.6,938L375.3,930.9M382.6,930.4L375.3,930.9L380.8,935.7M413.4,935.7L393.2,931.6M399.8,930.3L393.2,931.6L398.7,935.4M432.8,936.7L411.9,929.8M419,929.3L411.9,929.8L417.3,934.5M442.3,936.8L439.1,935.8M455.9,930.8L455.2,932.5M473.9,929.1L472.5,933.1M490,928.1L484.8,936.8M485.2,933.5L484.8,936.8L487.4,934.8M505.6,928.4L505.2,933.4M522.6,929L519.7,939.7M519.2,936.1L519.7,939.7L521.9,936.9M538.3,932.7L539,934.9M154.9,949.5L158.1,950.1M172.3,952.4L173.8,950.8M190.6,950.3L192.5,949.4M211.8,950.4L208.5,950.6M226.9,947.4L226.9,949.7M239.9,946.6L241.3,947.4M261,953.2L259.9,951.7M272.3,947.8L274.2,949.6M294.1,952.3L292.5,951.4M307.5,954.5L309.4,951.5M325,948.7L327.3,948.4M347.2,954.4L339.9,946M343.1,947.6L339.9,946L341,949.5M369.5,957.5L351.4,942.7M358.7,944.8L351.4,942.7L355,949.4M389.5,954.3L369,948.9M375.8,947.9L369,948.9L374.5,953.1M410,955.6L384.2,942.9M392.3,943.4L384.2,942.9L389.5,949.1M423.4,954.2L400.6,943.3M408.7,943.7L400.6,943.3L406,949.4M440.1,954.5L416.8,947.3M424.7,946.5L416.8,947.3L422.9,952.4M449.8,948.8L447.6,948.4M462,951.5L464,951.4M476.6,952.3L479.2,951M499.6,945.6L498.8,947.2M514.5,946.8L514.1,950M534.2,949.9L533.1,948.2M151.9,964.2L150.1,965.2M165.4,962.4L166.7,963M179.7,964.5L181.4,965.6M198.3,962.8L201.4,963.7M216.6,964.7L216.3,966.1M238.2,963.8L235.9,963.7M250.2,969L250.1,966M269.4,964.8L267,964.1M286.4,965.1L284.3,965.9M301.8,962L300.1,964.9M319.8,965.5L317.1,966.5M340.5,969.3L329.2,960.4M333.7,961.7L329.2,960.4L331.5,964.5M359.3,975.4L344.8,956M351.6,960L344.8,956L346.7,963.6M381.9,972.3L356.8,955M364.7,956.7L356.8,955L361.2,961.8M397.2,975.1L380,958.6M387.2,961.4L380,958.6L383.1,965.7M410.3,972.1L395.8,960.6M401.6,962.2L395.8,960.6L398.7,965.8M432.4,971.2L412.5,956.2M420.4,958.2L412.5,956.2L416.6,963.2M436.1,971.3L436.4,960.3M437.7,963.6L436.4,960.3L434.9,963.6M445.7,968.1L464,960.6M459.4,965.1L464,960.6L457.5,960.5M463.8,969.4L479.1,961.9M475.5,966.1L479.1,961.9L473.6,962.2M485,968.7L496.2,963.7M493.5,966.6L496.2,963.7L492.2,963.8M507.4,962.2L506.6,963.3M519,966.3L521.1,966.1M157,977.1L158.3,978.9M174,983.8L176,981.1M193.2,983.1L190.3,981.5M206,979.4L209.2,979.8M223.3,977.9L225.3,979M244.6,982.3L241.6,981M261.5,981.4L260.2,980.1M271.6,978L274.2,978.9M298.9,987.6L291,977.8M294.6,979.8L291,977.8L292.1,981.8M315.9,984.8L307.7,973M311.6,975.5L307.7,973L308.7,977.6M333.6,990.4L318.5,968.3M325.3,972.7L318.5,968.3L320.1,976.2M358,997.4L334,967.4M341.2,971.3L334,967.4L336.2,975.2M370.6,991.9L352.1,971.6M359.4,975L352.1,971.6L354.8,979.3M385.8,991.6L370.5,970.6M377.4,974.8L370.5,970.6L372.3,978.5M403.8,991.3L388.9,972.8M395.7,976.5L388.9,972.8L391,980.3M416.2,993.5L409.5,968.4M414.5,974.9L409.5,968.4L408.4,976.5M430.3,990.1L431.6,973.3M433.4,978.5L431.6,973.3L429.1,978.2M432.1,986.3L457,974.2M451.6,980.3L457,974.2L448.9,974.7M452.3,983L477.5,975M471.3,980.3L477.5,975L469.4,974.3M471.5,986.6L491.6,976.5M486.9,982L491.6,976.5L484.3,977M489.4,983.8L508.1,976.7M503.4,981.2L508.1,976.7L501.6,976.5M509.2,982.7L518.2,977.7M516.1,980.4L518.2,977.7L514.9,978.1M532.5,976.7L531.8,978.1M149.4,993.1L148.7,995M170,994.5L167.4,996.2M184.9,993.9L182.4,995M201.4,996.5L199.8,997.4M218.7,993.2L217.3,996M234.4,997.9L232.9,996.5M252.3,994.7L252.5,997.4M268.5,999.7L268.5,997.3M294.4,1006.3L277.2,989.8M284.4,992.6L277.2,989.8L280.3,996.9M315,1004.3L288.6,989.1M296.7,990.1L288.6,989.1L293.6,995.6M326.1,1008.9L309.6,984.2M316.4,988.7L309.6,984.2L311.2,992.2M344,1009.7L325,986.7M332.2,990.4L325,986.7L327.3,994.4M358.6,1010.8L345.7,980.8M351.6,986.5L345.7,980.8L345.8,989M378,1008.8L361.7,986.3M368.7,990.5L361.7,986.3L363.6,994.2M393.8,1013L377.4,983.6M383.8,988.6L377.4,983.6L378.3,991.7M407.8,1008.4L400.4,987.9M405.2,993.1L400.4,987.9L400,995M421.8,1008.6L418.4,982.2M422.4,989.2L418.4,982.2L416.2,990M431.2,997.4L445.7,991.9M442,995.4L445.7,991.9L440.6,991.8M442.2,1002.9L466,988.2M461.3,994.9L466,988.2L458,989.5M460.3,1005.8L485.7,989.3M481.1,996.1L485.7,989.3L477.7,990.8M477.6,1000L501.8,993.7M495.3,998.7L501.8,993.7L493.8,992.6M498.7,1001.9L516.5,994.6M512.1,999.1L516.5,994.6L510.2,994.6M518.4,1000L530,995.7M527.1,998.4L530,995.7L526,995.5M157.5,1010.2L155.8,1012.2M173.7,1009.7L174,1011.2M192.5,1012L190.2,1010.9M209.2,1008.8L209.7,1010.3M222.9,1013.4L223.3,1011.2M241.5,1009.6L243.3,1010.5M260.7,1010.6L258.3,1011.8M285.2,1011.7L265.1,1008.8M271.5,1007.1L265.1,1008.8L270.8,1012.2M305.3,1018.9L285.1,1003.9M293,1005.9L285.1,1003.9L289.2,1010.9M323.2,1018L294.3,1004.3M302.4,1004.6L294.3,1004.3L299.7,1010.3M340,1023.9L316.8,996.9M324.1,1000.5L316.8,996.9L319.3,1004.6M351.3,1021.4L335.1,999.4M342.1,1003.5L335.1,999.4L337,1007.3M369.4,1026L354.1,1000.3M360.7,1005.1L354.1,1000.3L355.3,1008.3M387.6,1020.4L372.7,1001.5M379.6,1005.3L372.7,1001.5L374.8,1009M402.3,1025.1L386.2,1000.5M393,1005.1L386.2,1000.5L387.7,1008.5M415.3,1022.5L407.6,1002.9M412.3,1007.8L407.6,1002.9L407.4,1009.7M426.8,1016.6L434.5,1006.2M433.5,1010.3L434.5,1006.2L430.8,1008.3M438.6,1018.7L455.3,1008.9M451.6,1014L455.3,1008.9L449.1,1009.8M448,1017.9L477.4,1008.1M471.3,1013.5L477.4,1008.1L469.3,1007.5M469.5,1017.4L488,1009M483.5,1013.9L488,1009L481.4,1009.2M485,1016.3L505.5,1008M500.4,1013.1L505.5,1008L498.3,1007.9M505.2,1014.6L519.4,1007.8M516,1011.7L519.4,1007.8L514.3,1008.1M150.3,1029.1L149.9,1027.5M164,1024.1L165.7,1026.9M178.1,1026.1L180.4,1026.1M200.2,1030.1L200.3,1027.6M214.9,1030L216,1028.2M232.7,1028.4L234.6,1026.1M250.1,1029L249.8,1026.6M279.3,1033.3L254.8,1023.3M262.9,1023.2L254.8,1023.3L260.6,1029.1M297.5,1030.6L272.1,1023.2M280.2,1022.3L272.1,1023.2L278.4,1028.3M312.5,1033.2L287.9,1019.2M296,1020.2L287.9,1019.2L292.9,1025.6M335.4,1035.4L298.4,1022.8M306.5,1022.2L298.4,1022.8L304.5,1028.2M347.3,1032.6L325.1,1020M333.1,1020.9L325.1,1020L330,1026.4M364.7,1036.2L341.8,1016.7M349.6,1019.2L341.8,1016.7L345.5,1024M385,1035.8L354.4,1016.4M362.4,1017.7L354.4,1016.4L359,1023.1M395.9,1034.7L378.3,1017.3M385.8,1020.3L378.3,1017.3L381.4,1024.7M407.6,1034.9L396.9,1018.9M402.1,1022.3L396.9,1018.9L398.1,1025.1M425.3,1025.4L422,1025.8M438.2,1024.2L438.3,1025.9M448.7,1030.8L462.4,1025.4M459,1028.7L462.4,1025.4L457.6,1025.3M459.9,1026.9L481.6,1026.4M475.1,1029.3L481.6,1026.4L475,1023.8M474.3,1032.2L500.5,1026.9M493.7,1031.4L500.5,1026.9L492.5,1025.3M502.6,1030.3L512.4,1027.5M509.8,1029.6L512.4,1027.5L509.1,1027.1M138.6,1041L140.3,1041.4M157.1,1046.6L156.5,1044.9M174.6,1040L175.4,1043.2M190,1040.1L190.7,1042.1M205.8,1047.3L206.7,1044.7M221,1044.3L223.8,1044.7M238,1045.5L240.3,1043M269.5,1044.5L245.3,1044.3M252.5,1041.3L245.3,1044.3L252.5,1047.4M292.3,1046.8L260.4,1039.2M268.4,1037.9L260.4,1039.2L267,1044M313.1,1044.7L276.3,1042.2M284,1039.6L276.3,1042.2L283.6,1045.9M333.1,1040.6L288,1046.3M295.1,1042.2L288,1046.3L295.9,1048.5M342,1046.8L308.8,1036.1M316.9,1035.4L308.8,1036.1L314.9,1041.4M354.5,1044.6L330.3,1043.6M337.7,1040.8L330.3,1043.6L337.4,1046.9M373.5,1055.2L350.6,1035.3M358.3,1037.9L350.6,1035.3L354.2,1042.6M385.7,1049L372.6,1035.5M378.2,1037.9L372.6,1035.5L374.8,1041.2M394.5,1045L394.7,1043M414,1044.8L411.8,1042.9M430.1,1039L430.9,1041.8M439.5,1044L452.2,1046.3M448.1,1047.2L452.2,1046.3L448.7,1044M448.6,1041.9L474.6,1047.4M466.6,1048.9L474.6,1047.4L467.9,1042.8M472.1,1044.4L491.7,1044.5M485.8,1047L491.7,1044.5L485.9,1042M487.9,1043.8L508.3,1039.9M502.7,1043.6L508.3,1039.9L501.7,1038.5M145.2,1057.9L147,1060.4M163.7,1062.3L166.8,1060.7M181.5,1055.5L184.2,1057M201.3,1054.3L201.4,1057.6M214.1,1059.8L215.9,1059.2M231,1061.7L231.9,1060.7M248.6,1061.8L250.3,1059.9M279.5,1060.9L257.6,1060.4M264.3,1057.8L257.6,1060.4L264.1,1063.3M296.7,1064.6L276.2,1056.4M283.3,1056.3L276.2,1056.4L281.3,1061.5M309.8,1060.3L292.9,1061.7M297.8,1059.1L292.9,1061.7L298.1,1063.4M336,1058.8L298.3,1060.7M305.6,1057.2L298.3,1060.7L305.9,1063.5M347.7,1063.9L325.9,1055.3M333.5,1055.1L325.9,1055.3L331.3,1060.6M359.1,1061.2L343.3,1057.2M348.5,1056.4L343.3,1057.2L347.5,1060.4M374.7,1061.7L365.7,1054.9M369.2,1055.8L365.7,1054.9L367.5,1058.1M382.6,1058.8L385.5,1060.1M403.6,1062.7L402,1060.1M416,1059L418.6,1059.7M436.3,1059.2L437.9,1057.5M446,1056.7L465.8,1060M459.4,1061.5L465.8,1060L460.3,1056.5M462.5,1058.7L480.9,1058.9M475.4,1061.2L480.9,1058.9L475.4,1056.5M479.5,1060.1L500.8,1056.1M494.9,1060L500.8,1056.1L493.9,1054.6M138.1,1078.6L138.9,1076.7M158.5,1072.4L155.4,1074.1M174.3,1071.4L172.8,1073.6M189,1076.9L191.1,1074.2M208.4,1070.9L208.3,1074.3M227.9,1072.4L225,1074.3M243.5,1070.8L242.2,1072.9M260,1072.7L259.4,1074M279.6,1074.1L277.5,1076.2M294.2,1072.5L292.4,1074.4M313.7,1072.2L311.9,1074M330.1,1078L329,1074.8M348.7,1076.2L346.5,1076.6M360.4,1072.3L362.5,1074.1M377.3,1077L378.2,1073.9M399.4,1078L396.8,1075.8M411.7,1076.4L413.1,1075M429.8,1075.4L430.7,1073.7M449.8,1076.1L446.8,1074.4M455.4,1073.6L470.2,1072.9M465.9,1075L470.2,1072.9L465.7,1071.2M150.9,1087.4L149.8,1090.6M167.4,1092.4L165.3,1092.3M184.8,1091.8L182.7,1091.1M200.6,1088.1L198.3,1090.5M215.2,1088.6L218.4,1089.7M231,1089.8L232.2,1090.7M254.1,1092.4L251.5,1091.1M269.3,1089L269.4,1091.7M282.7,1088.4L282.8,1089.8M298.9,1087.5L301.1,1088.4M319,1089.8L319,1091.2M334.9,1092.2L336.1,1089.1M352.5,1092.6L352,1089.3M373.1,1089.1L371.8,1091.8M382.7,1092.8L385.6,1091.2M407.2,1087.6L404,1088.7M417.3,1092.5L418.7,1091.1M440.9,1088.9L438.4,1089.6M452.7,1090.1L454.7,1090.1M158.6,1102.7L158.5,1104.2M176.6,1106.7L175.2,1107.3M189.6,1106.6L191.7,1105.5M205.7,1107.9L208.8,1107.3M222.1,1108.3L223.3,1105.2M239.7,1105.5L241.3,1105.3M262.9,1105.6L261,1105.4M271.6,1105.9L274.5,1105.3M294.8,1105.8L293.8,1107.3M306.9,1103.9L308.2,1104.8M328.7,1107.4L327.3,1104.4M342,1108.3L343.1,1107.6M364.3,1106.9L360.9,1106.6M379.6,1108.7L378.8,1107.7M397.2,1109.2L396.5,1107.9M412.2,1110.1L412,1107.5M427.9,1101.7L429.5,1104.6M184.9,1122.1L184.1,1120.3M197.7,1119.7L197.8,1121.4M217.9,1124.5L217.9,1121.5M236.2,1123.8L233.1,1123.1M251.4,1121L250,1122.8M265.3,1121.1L267.1,1120.1M281.2,1121.3L283.4,1122.5M298.2,1120.4L300.1,1121.4M314.1,1118.9L317.3,1120.2M334.8,1118L335.7,1120.8M357.6,1120.3L354.5,1120.6M369.5,1119.2L369.6,1120.7M388.6,1120.6L385.4,1121.1M400.6,1118.5L401.8,1121.8M229.3,1136.3L227.7,1136.9M245.4,1135.3L243.8,1136.5M260.9,1136.3L259.2,1135.7M276.3,1139.5L276.2,1137.5M296.1,1134.6L294.3,1135.5M310.7,1140.8L309,1137.9M326.6,1140.7L328.9,1138.2M344.8,1138.8L345.9,1137.1M360.7,1133.9L363.2,1136.1M377.6,1134L378.7,1135.6" stroke="#000" stroke-width="1.85" fill="none" stroke-linecap="round" stroke-linejoin="round"/>
<path d="M242.1,667.2L244,670.4L240.2,670.3ZM256,671.7L257.1,668L259.8,670.7ZM278.1,670.9L274.4,670.5L276.7,667.4ZM293.6,664.4L294,668.1L290.5,666.6ZM310.1,671.3L309.9,667.6L313.3,669.4ZM326.1,669.5L325,666L328.7,666.9ZM346.2,663.8L346.7,667.5L343.2,665.9ZM361.2,664.9L363.2,668L359.4,668.2ZM201.7,682.8L197.9,683.6L199,680ZM212,684.1L215.2,681.7L215.7,685.5ZM232.7,684.6L232.1,680.9L235.7,682.3ZM251.4,686L251,682.3L254.5,683.9ZM271.2,684.9L267.6,684.1L270.2,681.3ZM285.7,684.5L282.3,683L285.4,680.8ZM303.9,687.8L300.9,685.6L304.4,684.1ZM316.1,686.9L315.8,683.2L319.2,684.8ZM335.9,681.9L339.2,683.6L336,685.6ZM356,683.6L354.4,687L352.2,683.9ZM369.2,685.1L372.4,683.4L372.3,687.2ZM387.6,682.8L390.3,685.3L386.7,686.4ZM405.3,685.3L402.3,687.5L401.9,683.7ZM189.2,702.4L190.7,697.8L193.6,700.3ZM207,702.2L208.2,698.7L210.6,701.6ZM227.8,698.7L227.8,702.4L224.6,700.4ZM240.4,703.9L240.1,699.4L243.7,700.8ZM258.2,705.2L257.7,700.3L261.4,701.5ZM274.4,701.8L274.1,698.1L277.5,699.8ZM292.6,703.4L291.4,699.9L295.1,700.7ZM310.4,703.1L306.9,702L309.7,699.4ZM327.7,702.9L324.9,700.4L328.5,699.3ZM341.7,698.1L345.4,697.7L343.8,701.2ZM365.5,697.2L363,699.9L362,696.2ZM382.1,695.4L380.9,699.1L378.3,696.3ZM396.3,699.1L394,702L392.6,698.5ZM411.7,695.6L415.2,697.5L412,699.5ZM428.1,703.5L428.5,699.8L431.5,702.1ZM148.1,710.6L150.6,713.7L146.9,714.4ZM300,719.3L300.2,714.4L303.7,716ZM320.7,713.1L318.1,715.9L317,712.2ZM337.6,710.8L337.4,714.5L334.3,712.4ZM354.6,714.8L350.8,715L352.5,711.6ZM371.4,713.9L372.1,717.5L368.5,716.2ZM384.3,714.9L386.6,711.9L388,715.4ZM401.3,715.6L404.4,713.5L404.6,717.3ZM423.3,716.8L419.5,717L421.3,713.6ZM437.4,710.2L439.5,713.2L435.8,713.5ZM458.7,715L455.4,716.7L455.7,712.9ZM127.2,732L123.8,733.5L124.2,729.8ZM143.1,729L143.1,732.7L139.8,730.8ZM152.3,733.1L155.1,729.3L157,732.6ZM223.6,731.8L225.3,727.4L228,730.1ZM239.4,734L240.8,729.5L243.7,731.9ZM306.4,732.8L306.9,727.9L310.3,729.7ZM326.1,732.2L325.1,728.6L328.7,729.6ZM340.9,734L341.8,730.4L344.5,733.1ZM362.7,732.6L361.3,729.2L365,729.7ZM378.4,728.7L381.8,730.2L378.7,732.4ZM398,733.7L394.6,732.3L397.6,730ZM415.1,730.7L411.4,730.7L413.4,727.4ZM431,731.1L429.2,734.3L427.3,731ZM444.3,733.9L443.8,730.2L447.3,731.7ZM466,728.1L467,731.8L463.3,730.8ZM116.7,744.7L114.7,747.8L113,744.5ZM130.5,744L132.4,747.2L128.6,747.1ZM144.7,747.6L148.4,745.3L148.7,749.1ZM234.7,747.1L232.8,743.8L236.6,743.9ZM248.7,749.1L247.4,745.4L251.2,746.1ZM267.8,749.2L267.5,745.2L271,746.7ZM317.7,749.5L316.9,745.3L320.6,746.3ZM339,747.1L336.5,749.8L335.4,746.2ZM355.3,743.2L352.7,746L351.5,742.4ZM367,744.7L370.3,746.3L367.2,748.4ZM387.1,744.9L386,748.5L383.4,745.7ZM399.7,748.3L402.7,746.1L403,749.9ZM417.2,748.2L420.4,746.3L420.4,750.1ZM435.8,742.1L439.1,743.8L435.8,745.8ZM456,750.4L452.5,749.3L455.3,746.7ZM470.9,746.8L470.9,743.1L474.2,745ZM104.4,760.8L107.7,759.1L107.5,762.9ZM121.9,763.2L123.7,759.9L125.6,763.2ZM136.8,762.9L140.3,761.9L139.3,765.6ZM223.2,764L226.3,761.9L226.5,765.7ZM239.5,760.5L242.8,762.3L239.5,764.2ZM260.8,761.2L263.1,764.2L259.3,764.6ZM273,762.9L273.1,759.1L276.3,761.2ZM291.5,765.6L290.3,761.6L294.1,762.4ZM307.3,764.7L308.1,759.9L311.3,761.9ZM329.2,760.5L329.3,764.2L326,762.3ZM348.4,761.4L344.7,762.1L346,758.6ZM360.1,760.5L361.7,764L357.9,763.7ZM380.7,762.1L377.5,764L377.5,760.2ZM394.8,757.7L397.8,760L394.2,761.4ZM412.5,759.8L415.5,761.9L412.1,763.5ZM430.5,762.6L426.8,762.7L428.6,759.4ZM441.8,760L445.7,759.5L444.3,763.1ZM466.9,762.3L464.3,765L463.3,761.4ZM481.1,765.5L479.6,762L483.4,762.5ZM493.7,763.5L494.4,759.7L497.3,762.2ZM99.5,779.1L96.9,776.2L100.6,775.4ZM117.7,778.8L114.3,777.1L117.5,775ZM132.9,776L132.9,779.7L129.6,777.7ZM232.6,776.4L234.3,779.7L230.5,779.5ZM252.2,776.6L253.4,780.1L249.7,779.3ZM265,777.6L268.5,776.1L267.9,779.9ZM282.4,778.4L282,774.7L285.4,776.3ZM302.8,775.7L305.6,778.2L302,779.3ZM316.8,777.1L319.7,779.5L316.1,780.8ZM337.1,778.9L334.6,776.1L338.4,775.3ZM354.7,775.1L356.2,778.5L352.4,778ZM369.1,774.8L373,777.1L369.8,779.2ZM417.5,773L421.3,775.5L418,777.5ZM436.1,777.4L438.8,774.8L439.7,778.5ZM457.9,776.6L455.6,779.5L454.3,775.9ZM468.2,779L468.3,775.3L471.5,777.4ZM487.7,775.8L489.6,778.9L485.8,779ZM505.1,778.3L504.9,774.6L508.2,776.3ZM91.7,794.8L88.3,793.3L91.4,791.1ZM104.4,795.4L104.9,791.7L107.8,794.1ZM126,794.4L122.5,795.7L123.1,792ZM219.2,793.8L223.7,792.6L223.1,796.3ZM260.8,794.3L257,793.4L259.5,790.6ZM278.8,791.6L279.2,795.4L275.8,793.8ZM289.7,791.6L293.4,791.6L291.5,794.8ZM306.2,794.4L309,792L309.7,795.7ZM325,791.4L328.8,790.2L328,793.9ZM340.5,794.2L342.2,790.9L344.3,794ZM361.8,797.8L358.8,795.3L362.3,793.9ZM427.7,788.8L431.8,791L428.8,793.4ZM446.9,788.3L447.5,792.1L444,790.8ZM460.4,792.8L464,792.2L462.7,795.7ZM481.2,795.2L478.6,792.5L482.3,791.6ZM498.7,790.4L497.2,793.9L494.9,790.9ZM512.8,797.5L513,793.6L516.2,795.7ZM83.2,807.6L80.1,809.7L79.8,805.9ZM99,805.2L100.2,808.7L96.5,807.9ZM113.9,806.2L117.7,806.3L115.6,809.5ZM133.8,810.1L131.1,812.6L130.3,808.9ZM286.4,806.5L285.1,809.9L282.7,806.9ZM306.1,809.2L302.9,811L302.9,807.2ZM315,810.3L318.1,808.3L318.3,812.1ZM331.3,809.7L333.3,806.5L335,809.8ZM351.8,806.1L353.9,809.4L350.1,809.5ZM366.6,805.7L370.3,806.1L367.9,809.1ZM452.8,810.9L454.8,807.8L456.5,811.2ZM474.2,808.2L474.9,811.9L471.3,810.6ZM107.9,827.6L105.4,824.8L109.1,824.1ZM123.7,828.5L123.4,824.8L126.8,826.4ZM139.3,829.5L138.4,825.8L142,826.8ZM154.7,824L158.4,822.9L157.6,826.6ZM170,825.2L174.5,823.2L174.6,827ZM292.6,822.6L295.7,824.8L292.2,826.4ZM309.6,820.8L310,824.5L306.6,822.9ZM327.9,826.6L326.8,822.9L330.5,823.8ZM345.2,827.8L342.3,825.5L345.9,824.1ZM358,825.4L360.3,822.5L361.7,826.1ZM374.5,823.4L376.9,820.6L378.1,824.2ZM96.4,842.4L98.1,839.1L100.1,842.3ZM115.9,840.9L112.3,839.5L115.3,837.1ZM127.8,841.6L129.8,838.5L131.5,841.9ZM146.3,839.3L150,838.7L148.6,842.3ZM301.9,841.4L300.5,837.9L304.3,838.5ZM314.3,839.3L317.8,838L317.1,841.8ZM339,837.7L338.4,841.4L335.5,839ZM354,840.1L351,842.2L350.7,838.4ZM371,842.2L368,839.9L371.6,838.5ZM382.4,840.1L385.1,837.6L385.9,841.4ZM107.7,853.2L105.2,856.2L103.9,852.7ZM123.6,858.4L121.3,855.3L125.1,854.8ZM142.2,854.6L138.9,856.3L139.2,852.5ZM292.2,856.8L291.1,853.2L294.8,854.1ZM308.8,858.9L307.5,855.5L311.2,856.1ZM330.7,857.1L327.2,858.4L327.9,854.7ZM342.5,857.9L344.8,855L346.2,858.5ZM361,856.4L361.5,852.7L364.4,855.1ZM376.7,857.2L375.9,853.6L379.5,854.9ZM96,873.9L93.9,870.8L97.7,870.6ZM115.6,874.4L112.3,872.7L115.5,870.7ZM134,872L130.4,872.9L131.4,869.3ZM143.8,871.1L146.2,868.2L147.5,871.8ZM280.7,870.5L284.1,868.8L283.9,872.6ZM298.1,871.5L301.6,870.3L300.8,874ZM317,867.9L319.8,870.4L316.2,871.6ZM335.8,873.8L333.9,870.6L337.7,870.6ZM351.1,873.4L349.8,869.9L353.6,870.6ZM470.5,868.9L474.3,869.9L471.7,872.7ZM87.8,883.2L90.8,885.3L87.4,886.9ZM109.3,883.2L108.3,886.8L105.7,884.1ZM125.9,886.9L124.4,890.4L122.2,887.3ZM137.5,885.7L140.4,888.1L136.9,889.4ZM155.2,886.9L158.6,883.9L159.6,887.6ZM260.6,882.4L261.9,885.9L258.2,885.2ZM273,888.7L274.8,885.4L276.8,888.6ZM296.6,884.5L295.4,888L292.9,885.1ZM307.6,890.3L307.8,886.5L311,888.6ZM329.6,882.4L329.8,886.3L326.4,884.6ZM342.8,889.2L341.9,885.5L345.6,886.7ZM357.8,886.8L361.7,886.9L359.7,890.2ZM465.2,887.4L461.5,888L462.9,884.5ZM476,889.4L477.4,885.5L480,888.3ZM492.1,883.9L496.1,883.6L494.5,887.1ZM144.7,904L147.9,902L148,905.8ZM164.3,899.2L166.4,902.6L162.6,902.8ZM210.5,903.5L214.1,900.2L215.4,903.8ZM233.5,898.6L234.6,902.4L230.9,901.5ZM255,902L251.3,902.1L253.1,898.8ZM263.8,903.6L267.5,902.5L266.8,906.2ZM283.3,898.5L286.3,900.7L282.8,902.2ZM300.7,899.3L301.7,902.9L298.1,901.9ZM317.8,898L319.7,901.2L315.9,901.1ZM333.5,904.3L336.7,902.3L336.8,906.1ZM354,902.8L350.4,901.8L353.2,899.2ZM370.6,902.2L369.9,905.9L367,903.4ZM449.4,904L453.3,901.1L454.2,904.7ZM487.8,907.7L488,902.9L491.4,904.5ZM158.2,917.7L156.8,921.2L154.5,918.1ZM173.6,921L175.4,917.8L177.3,921.1ZM192.4,913.8L194.7,916.9L191,917.4ZM205.7,918L209.4,918.1L207.4,921.3ZM225.4,920.6L222.5,918L226.1,916.8ZM241.8,921.9L242.1,918.2L245.2,920.4ZM258.3,914.7L262.1,914.9L260.1,918.1ZM278.7,921.2L274.9,920.4L277.4,917.5ZM291.3,916.2L295,916.3L293,919.5ZM306.9,921.2L307.6,917.6L310.4,920.2ZM327.5,914.3L326.9,918L324,915.6ZM345.4,917.1L346.4,920.7L342.7,919.8ZM449.5,917.4L449.3,921.1L446.1,919ZM462.9,921.6L463.2,917L466.6,918.7ZM495.4,923.1L495.5,918.3L498.9,919.8ZM147.7,932L151.4,933.4L148.5,935.9ZM167.5,937L163.7,937L165.7,933.7ZM185.9,934.4L182.3,935.5L183.3,931.8ZM196.9,936.1L198,932.5L200.5,935.4ZM221,934L217.9,936.3L217.4,932.6ZM234.6,938.9L232.2,936.1L235.9,935.4ZM251.5,935.4L249.8,932L253.6,932.3ZM269.2,937.7L266.6,935.1L270.2,934.1ZM286.3,930.9L284.6,934.2L282.6,930.9ZM304.7,934.6L300.9,934.4L303.1,931.2ZM318.9,930.7L321.1,933.7L317.4,934.2ZM339.1,935.1L335.4,935.8L336.8,932.2ZM435.8,934.8L439.6,934L438.5,937.6ZM453.9,935.4L453.4,931.7L456.9,933.2ZM471,937.1L470.7,932.4L474.3,933.7ZM504.8,937.9L503.3,933.2L507.1,933.6ZM539.9,938L537.2,935.5L540.8,934.4ZM161.3,950.6L157.8,952L158.4,948.2ZM176,948.5L175.2,952.1L172.4,949.5ZM195.4,948.2L193.2,951.2L191.7,947.7ZM205.3,950.9L208.4,948.7L208.7,952.5ZM226.8,952.9L225,949.7L228.8,949.8ZM244.1,949L240.3,949L242.3,945.7ZM258.1,949.1L261.5,950.6L258.4,952.8ZM276.6,951.8L273,951L275.5,948.2ZM289.6,949.8L293.4,949.7L291.5,953ZM311.2,948.5L311,952.5L307.7,950.5ZM330.5,948.1L327.5,950.3L327.1,946.6ZM444.5,947.9L448,946.6L447.3,950.3ZM467.2,951.3L464.1,953.3L463.9,949.5ZM482,949.5L480.1,952.7L478.3,949.3ZM497.3,950L497.1,946.3L500.4,948ZM513.6,953.2L512.2,949.8L515.9,950.3ZM531.4,945.5L534.7,947.2L531.5,949.2ZM147.3,966.7L149.2,963.5L151,966.8ZM169.7,964.3L166,964.7L167.5,961.3ZM184.1,967.3L180.4,967.2L182.4,964ZM204.5,964.6L200.9,965.5L201.9,961.9ZM215.5,969.2L214.4,965.7L218.1,966.6ZM232.7,963.7L236,961.8L235.9,965.6ZM250,962.8L252,965.9L248.2,966ZM263.9,963.2L267.5,962.3L266.4,965.9ZM281.4,967.1L283.6,964.1L285,967.7ZM298.3,967.8L298.5,963.9L301.7,965.9ZM314.1,967.7L316.4,964.7L317.7,968.3ZM504.7,965.8L505.1,962.1L508.2,964.4ZM524.3,965.7L521.3,968L520.9,964.2ZM160.2,981.5L156.8,980L159.9,977.8ZM177.9,978.4L177.5,982.2L174.4,980ZM187.4,979.9L191.2,979.8L189.4,983.2ZM212.4,980.3L208.9,981.7L209.4,978ZM228.1,980.5L224.4,980.7L226.2,977.3ZM238.5,979.7L242.3,979.3L240.8,982.8ZM258,977.8L261.6,978.7L258.8,981.4ZM277.2,979.9L273.6,980.7L274.8,977.1ZM530.4,981L530.1,977.2L533.5,979ZM147.7,998.1L146.9,994.4L150.5,995.6ZM164.7,997.9L166.4,994.6L168.4,997.8ZM179.5,996.3L181.7,993.3L183.2,996.8ZM197,998.9L198.9,995.8L200.7,999.1ZM215.8,998.8L215.6,995.1L219,996.9ZM230.5,994.4L234.1,995.1L231.6,997.9ZM252.6,1000.6L250.6,997.5L254.4,997.3ZM268.5,994.1L270.4,997.3L266.6,997.3ZM153.7,1014.6L154.3,1011L157.2,1013.5ZM174.6,1014.3L172.1,1011.5L175.9,1010.8ZM187.3,1009.5L191,1009.2L189.4,1012.6ZM210.7,1013.3L207.9,1010.9L211.5,1009.6ZM223.8,1008L225.2,1011.5L221.4,1010.9ZM246.1,1012.1L242.4,1012.2L244.2,1008.9ZM255.4,1013.2L257.5,1010.1L259.2,1013.5ZM149,1024.4L151.7,1027.1L148,1028ZM167.5,1029.6L164.1,1027.9L167.3,1025.9ZM183.6,1026.1L180.5,1028L180.4,1024.2ZM200.5,1024.4L202.2,1027.7L198.4,1027.5ZM217.7,1025.5L217.6,1029.2L214.4,1027.2ZM236.7,1023.7L236.1,1027.3L233.2,1024.9ZM249.5,1023.4L251.7,1026.4L247.9,1026.8ZM418.7,1026.2L421.7,1023.9L422.2,1027.7ZM438.4,1029.1L436.4,1026L440.2,1025.9ZM143.4,1042.2L139.9,1043.3L140.8,1039.6ZM155.4,1042L158.3,1044.3L154.7,1045.6ZM176.1,1046.5L173.5,1043.7L177.2,1042.8ZM191.8,1045.1L188.9,1042.7L192.5,1041.5ZM207.9,1041.7L208.5,1045.4L205,1044ZM226.9,1045.3L223.4,1046.6L224.1,1042.9ZM242.7,1040.5L241.7,1044.3L239,1041.7ZM395.1,1039.8L396.6,1043.2L392.9,1042.8ZM409.4,1040.7L413.1,1041.4L410.6,1044.3ZM431.7,1044.9L429.1,1042.3L432.7,1041.3ZM148.9,1063L145.5,1061.5L148.6,1059.3ZM169.9,1059.1L167.7,1062.4L165.9,1059ZM187,1058.6L183.2,1058.7L185.1,1055.4ZM201.5,1060.9L199.5,1057.7L203.3,1057.6ZM218.9,1058.1L216.5,1060.9L215.3,1057.4ZM234,1058.3L233.3,1061.9L230.5,1059.4ZM252.4,1057.5L251.7,1061.1L248.9,1058.6ZM388.5,1061.3L384.8,1061.8L386.3,1058.3ZM400.3,1057.4L403.6,1059.1L400.4,1061.2ZM421.7,1060.5L418.1,1061.5L419.1,1057.9ZM440,1055.1L439.3,1058.8L436.5,1056.2ZM140.3,1073.8L140.7,1077.5L137.2,1075.9ZM152.3,1075.8L154.5,1072.4L156.3,1075.7ZM171.1,1076.3L171.2,1072.6L174.4,1074.7ZM193.1,1071.4L192.6,1075.3L189.5,1073ZM208.3,1077.7L206.4,1074.2L210.2,1074.3ZM222.1,1076.1L224,1072.6L226,1075.9ZM240.5,1075.6L240.6,1071.9L243.8,1073.9ZM258,1076.9L257.7,1073.2L261.1,1074.8ZM275.2,1078.4L276.2,1074.8L278.8,1077.5ZM290.1,1076.7L291,1073.1L293.7,1075.7ZM309.6,1076.3L310.6,1072.7L313.2,1075.4ZM327.9,1071.7L330.8,1074.2L327.2,1075.5ZM343.4,1077.1L346.3,1074.7L346.8,1078.5ZM364.9,1076.3L361.2,1075.6L363.7,1072.7ZM379,1070.8L380,1074.4L376.3,1073.4ZM394.2,1073.7L398,1074.4L395.6,1077.3ZM415.4,1072.7L414.5,1076.3L411.8,1073.6ZM432.2,1070.9L432.4,1074.6L429,1072.8ZM443.7,1072.7L447.7,1072.7L445.8,1076ZM148.6,1093.8L148,1089.9L151.6,1091.2ZM162.1,1092.1L165.4,1090.4L165.2,1094.2ZM179.6,1090.1L183.3,1089.3L182.1,1092.9ZM196,1092.9L196.9,1089.2L199.7,1091.8ZM221.7,1090.9L217.8,1091.5L219.1,1088ZM234.7,1092.6L231,1092.2L233.3,1089.1ZM248.6,1089.7L252.3,1089.4L250.6,1092.8ZM269.4,1094.9L267.5,1091.7L271.3,1091.6ZM283.1,1093L280.9,1090L284.7,1089.6ZM304.1,1089.7L300.4,1090.2L301.9,1086.7ZM318.8,1094.4L317.1,1091.1L320.9,1091.3ZM337.3,1086L337.9,1089.8L334.3,1088.4ZM351.4,1086L353.8,1089L350.1,1089.6ZM370.4,1094.7L370.1,1091L373.5,1092.7ZM388.4,1089.6L386.5,1092.8L384.7,1089.5ZM400.7,1089.9L403.3,1086.9L404.6,1090.5ZM421,1088.9L420,1092.5L417.3,1089.8ZM435.3,1090.5L437.9,1087.8L438.9,1091.5ZM457.9,1090.1L454.6,1092L454.7,1088.2ZM158.3,1107.3L156.6,1104L160.4,1104.3ZM172.3,1108.6L174.4,1105.6L176,1109ZM194.5,1104L192.6,1107.2L190.8,1103.8ZM212,1106.7L209.2,1109.2L208.5,1105.4ZM224.4,1102.2L225,1105.9L221.5,1104.6ZM244.4,1104.9L241.5,1107.2L241,1103.4ZM257.8,1105.1L261.2,1103.6L260.8,1107.3ZM277.6,1104.6L274.9,1107.1L274,1103.4ZM292.1,1110L292.2,1106.3L295.4,1108.3ZM310.9,1106.6L307.1,1106.3L309.3,1103.2ZM325.9,1101.3L329,1103.6L325.6,1105.2ZM345.7,1105.7L344.2,1109.1L342,1106ZM357.4,1106.3L361,1104.7L360.7,1108.5ZM376.8,1105.1L380.3,1106.5L377.2,1108.8ZM395,1105.1L398.2,1107L394.9,1108.8ZM411.7,1104.3L413.9,1107.3L410.1,1107.6ZM431,1107.4L427.8,1105.5L431.1,1103.6ZM182.8,1117.4L185.9,1119.5L182.4,1121.1ZM197.8,1124.6L195.9,1121.5L199.7,1121.4ZM217.9,1118.3L219.8,1121.4L216,1121.5ZM229.9,1122.3L233.5,1121.2L232.6,1124.9ZM248.1,1125.3L248.5,1121.6L251.6,1123.9ZM270,1118.6L268.1,1121.8L266.2,1118.4ZM286.3,1124L282.6,1124.2L284.3,1120.8ZM302.9,1122.8L299.2,1123.1L301,1119.7ZM320.4,1121.4L316.6,1121.9L318,1118.4ZM336.8,1123.8L333.9,1121.4L337.5,1120.1ZM351.3,1120.9L354.3,1118.7L354.6,1122.5ZM369.8,1123.8L367.7,1120.8L371.5,1120.5ZM382.2,1121.6L385.1,1119.2L385.7,1122.9ZM402.9,1125.1L400,1122.4L403.6,1121.2ZM224.8,1138.1L227,1135.2L228.4,1138.7ZM241.2,1138.4L242.7,1135L244.9,1138.1ZM256.2,1134.7L259.8,1133.9L258.7,1137.5ZM276,1134.3L278.1,1137.4L274.3,1137.6ZM291.4,1136.9L293.4,1133.8L295.1,1137.2ZM307.3,1135L310.6,1136.9L307.3,1138.9ZM331.3,1135.8L330.3,1139.5L327.5,1137ZM347.7,1134.4L347.5,1138.1L344.4,1136ZM365.6,1138.2L361.9,1137.5L364.4,1134.6ZM380.6,1138.3L377.2,1136.7L380.3,1134.5Z" fill="#000" stroke="#000" stroke-width="0.9" stroke-linejoin="round"/>
</g>
<circle cx="299.4" cy="905.1" r="252.7" fill="none" stroke="#111" stroke-width="1.4"/>
</g>
<text x="277.8" y="649.4" class="lb">60W</text>
<text x="125.8" y="684.9" class="lb">30W</text>
<text x="428.8" y="684.9" class="lb">90W</text>
<text x="61.5" y="781.1" class="lb">0</text>
<text x="523.8" y="780.9" class="lb">120W</text>
<text x="1.3" y="912.9" class="lb">30E</text>
<text x="560.3" y="912.1" class="lb">150W</text>
<text x="36.8" y="1043.3" class="lb">60E</text>
<text x="523.8" y="1043.9" class="lb">180</text>
<text x="133.1" y="1139.7" class="lb">90E</text>
<text x="428.8" y="1139.9" class="lb">150E</text>
<text x="276.4" y="1174.9" class="lb">120E</text>
<rect x="563.6" y="929.8" width="36" height="31" fill="#fff" stroke="#222" stroke-width="1.2"/>
<line x1="563.6" y1="951.1" x2="599" y2="951.1" stroke="#111" stroke-width="1.3"/>
<path d="M591,947.6 L599,951.1 L591,954.6" fill="none" stroke="#111" stroke-width="1.3"/>
<text x="580" y="943.6" class="lg">1</text>
<text x="2" y="32.5" class="big">A</text>
<text x="78.5" y="34.5" class="tt">Reg. Dec Z500 against PC2</text>
<text x="692" y="32.5" class="big">B</text>
<text x="766.5" y="34.5" class="tt">Reg. Jan Z500 against PC2</text>
<text x="3" y="618" class="big">C</text>
<text x="78" y="617.6" class="tt">Reg. Feb Z500 against PC2</text>
<path d="M644.1,666.8 L652.6,703.6 L635.6,703.6 Z" fill="#D5142D"/>
<rect x="635.6" y="703.6" width="17" height="40.3" fill="#F52234" stroke="#fff" stroke-width="1.2"/>
<rect x="635.6" y="743.9" width="17" height="40.3" fill="#FE7452" stroke="#fff" stroke-width="1.2"/>
<rect x="635.6" y="784.2" width="17" height="40.3" fill="#FDD497" stroke="#fff" stroke-width="1.2"/>
<rect x="635.6" y="824.5" width="17" height="40.3" fill="#FEF0C3" stroke="#fff" stroke-width="1.2"/>
<rect x="635.6" y="864.8" width="17" height="40.3" fill="#fff" stroke="#fff" stroke-width="1.2"/>
<rect x="635.6" y="905.1" width="17" height="40.3" fill="#fff" stroke="#fff" stroke-width="1.2"/>
<rect x="635.6" y="945.4" width="17" height="40.3" fill="#BFF5FB" stroke="#fff" stroke-width="1.2"/>
<rect x="635.6" y="985.7" width="17" height="40.3" fill="#96E2FA" stroke="#fff" stroke-width="1.2"/>
<rect x="635.6" y="1026" width="17" height="40.3" fill="#4FA8F6" stroke="#fff" stroke-width="1.2"/>
<rect x="635.6" y="1066.3" width="17" height="40.3" fill="#2B50F7" stroke="#fff" stroke-width="1.2"/>
<rect x="635.6" y="864.8" width="17" height="80.6" fill="none" stroke="#eee" stroke-width="1" />
<path d="M635.6,1106.6 L652.6,1106.6 L644.1,1143.6 Z" fill="#1A12EE"/>
<text x="670" y="709.8" class="cb" text-anchor="middle">25</text>
<text x="670" y="750.1" class="cb" text-anchor="middle">20</text>
<text x="670" y="790.4" class="cb" text-anchor="middle">15</text>
<text x="670" y="830.7" class="cb" text-anchor="middle">10</text>
<text x="670" y="871" class="cb" text-anchor="middle">5</text>
<text x="670" y="911.3" class="cb" text-anchor="middle">0</text>
<text x="670" y="951.6" class="cb" text-anchor="middle">-5</text>
<text x="670" y="991.9" class="cb" text-anchor="middle">-10</text>
<text x="670" y="1032.2" class="cb" text-anchor="middle">-15</text>
<text x="670" y="1072.5" class="cb" text-anchor="middle">-20</text>
<text x="670" y="1112.8" class="cb" text-anchor="middle">-25</text>
</svg>
</body></html>
